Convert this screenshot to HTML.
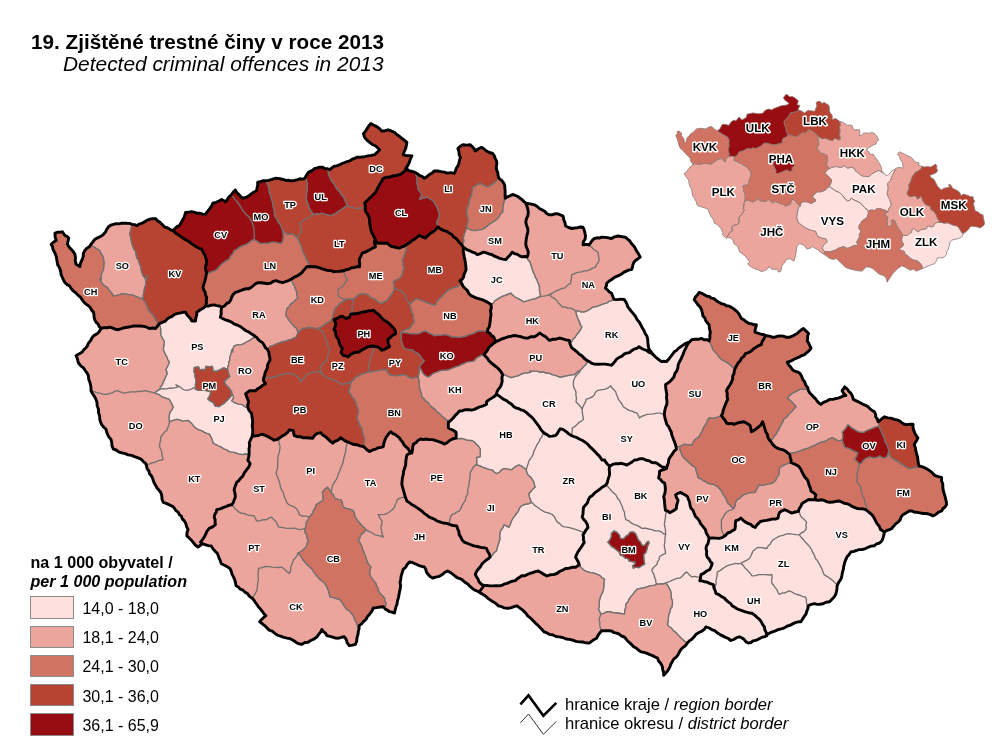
<!DOCTYPE html>
<html lang="cs"><head><meta charset="utf-8"><title>Zjištěné trestné činy v roce 2013</title>
<style>
html,body{margin:0;padding:0;background:#fff}
body{width:1005px;height:744px;position:relative;overflow:hidden;font-family:"Liberation Sans",Arial,sans-serif;color:#000}
svg{position:absolute;left:0;top:0}
.lb{font-family:"Liberation Sans",Arial,sans-serif;font-weight:bold;text-anchor:middle;fill:#000;stroke:#fff;stroke-width:2.5px;stroke-linejoin:round;paint-order:stroke fill}
.rl{stroke-width:2.8px}
.t{position:absolute;white-space:nowrap;line-height:1}
.sw{position:absolute;left:30px;width:42px;height:20.5px;border:1px solid #8c8c8c}
</style></head><body>
<svg width="1005" height="744" viewBox="0 0 1005 744">
<path d="M463.6,247.2L463.6,247.2L463.2,250.7L463.7,253.8L464.2,256.6L464.9,259.6L465.4,263.1L465.8,266.3L466.1,269.6L465.1,272.2L464.1,274.3L463.6,277.0L462.2,279.2L459.9,280.8L461.7,283.2L462.1,284.2L463.0,286.1L464.9,288.2L467.4,290.5L468.9,293.5L471.1,295.7L473.5,296.7L476.0,297.9L478.6,298.7L481.0,299.4L483.6,300.2L486.3,301.6L488.7,303.1L491.0,304.4L493.5,303.1L495.1,300.8L497.2,299.4L499.6,297.9L502.2,296.5L504.7,295.7L507.7,294.5L510.9,293.2L512.5,295.1L514.8,297.0L517.1,298.2L520.5,299.8L523.3,301.9L526.4,301.1L529.1,300.3L532.0,299.4L534.9,298.9L537.7,297.7L540.7,296.4L540.0,293.4L539.5,290.3L539.5,287.0L538.8,284.4L537.7,282.0L537.0,279.5L535.4,277.4L534.7,274.7L533.3,272.1L532.4,269.7L531.7,267.1L530.8,264.6L530.1,262.0L528.1,259.7L527.1,257.1L524.9,256.5L522.0,256.8L519.6,255.9L517.4,254.4L514.4,253.6L512.1,252.2L510.2,255.0L508.1,257.0L505.9,259.6L502.7,259.1L499.7,258.4L497.1,257.2L494.4,256.2L492.2,254.7L489.2,254.0L486.5,252.9L483.5,252.2L480.3,253.6L477.3,254.7L474.9,252.9L472.5,252.1L469.9,250.9L466.3,249.4ZM653.9,355.4L652.3,353.4L650.6,351.2L649.0,349.2L648.3,346.1L647.9,342.4L647.7,339.2L646.9,336.0L645.0,333.4L644.0,330.5L642.1,327.5L640.7,324.7L639.0,321.8L637.1,319.6L635.6,316.7L634.0,314.4L631.9,312.1L629.9,309.5L627.8,306.9L627.0,304.3L625.7,301.7L624.1,299.4L620.6,299.1L617.5,299.6L614.1,299.4L611.6,300.7L609.1,301.2L606.8,302.9L604.2,303.6L601.7,304.4L599.0,305.7L596.1,306.5L593.0,306.9L590.2,309.0L587.3,310.6L584.3,311.9L581.3,311.9L578.4,310.8L575.6,310.6L576.1,313.7L577.0,316.4L578.1,319.3L579.4,321.9L580.2,324.7L581.8,326.8L580.2,330.2L578.1,333.0L576.4,335.0L575.1,337.2L573.1,339.2L571.9,341.1L570.6,343.0L569.8,343.1L569.8,343.2L570.7,345.7L571.8,347.9L574.3,349.7L576.9,351.8L579.3,354.2L581.9,355.8L584.4,358.5L586.8,360.4L587.8,360.9L589.5,361.7L591.4,363.2L594.2,364.1L597.9,364.2L601.7,364.1L605.2,364.1L608.4,364.6L611.6,365.3L613.5,363.2L615.0,361.3L616.6,359.1L619.0,357.5L622.0,356.1L624.1,354.2L626.5,353.2L629.5,352.6L631.6,350.7L634.0,349.2L636.9,348.3L639.0,346.7L641.2,348.2L643.9,349.5L646.5,350.4L649.0,352.3L651.6,353.2ZM689.2,342.2L685.5,343.4L683.3,344.9L681.1,346.6L678.8,347.9L676.9,350.1L674.3,351.8L672.6,354.2L670.5,356.9L668.6,359.4L666.4,361.6L663.8,361.2L661.4,361.6L658.7,359.5L656.3,357.7L653.9,355.4L651.6,353.2L649.0,352.3L646.5,350.4L643.9,349.5L641.2,348.2L639.0,346.7L636.9,348.3L634.0,349.2L631.6,350.7L629.5,352.6L626.5,353.2L624.1,354.2L622.0,356.1L619.0,357.5L616.6,359.1L615.0,361.3L613.5,363.2L611.6,365.3L608.4,364.6L605.2,364.1L601.7,364.1L597.9,364.2L594.2,364.1L591.4,363.2L589.5,361.7L587.8,360.9L587.2,362.1L585.9,364.3L583.8,366.4L582.2,368.3L580.5,370.1L579.2,372.8L577.2,374.6L575.0,377.3L573.5,380.7L573.4,383.5L573.5,386.8L574.9,389.4L576.0,391.9L575.9,395.4L576.5,398.4L576.0,401.9L578.4,404.2L580.6,406.7L582.2,409.3L583.0,406.6L584.1,404.4L585.5,402.1L586.0,399.4L589.0,398.4L592.2,396.9L594.3,394.9L595.3,392.4L597.2,390.7L599.5,390.1L602.2,389.7L604.6,389.4L608.1,387.9L610.8,385.7L612.1,388.1L613.9,389.8L615.8,391.9L616.4,394.5L617.7,397.0L618.3,399.4L620.1,401.6L621.9,404.0L623.3,406.8L626.5,408.9L629.5,410.6L632.1,411.1L634.5,412.4L637.0,413.1L638.3,415.5L639.5,418.0L641.6,416.4L644.3,415.5L646.9,414.3L650.2,414.2L653.5,413.9L656.9,413.1L659.9,413.1L662.6,413.8L664.3,414.1L664.7,411.0L665.5,407.6L666.8,404.4L667.0,400.9L666.5,397.9L666.8,394.4L666.2,391.1L665.7,387.6L665.6,384.5L667.7,383.2L669.9,381.6L671.8,379.5L674.0,376.8L674.8,373.6L676.8,370.8L677.9,367.8L678.1,365.0L679.3,362.1L680.8,359.5L681.8,357.2L683.0,354.6L684.3,351.1L685.9,347.9L687.2,344.9ZM501.9,377.9L502.2,381.2L501.4,384.5L500.0,387.4L498.1,389.6L496.9,391.9L496.5,394.4L499.0,395.7L501.3,397.8L503.9,399.4L506.7,400.7L508.9,402.6L511.6,404.3L513.9,406.8L516.1,408.0L519.0,408.7L521.1,409.9L523.8,410.6L526.5,412.6L529.0,414.8L531.3,416.8L533.7,419.2L535.4,421.7L537.5,424.3L539.1,426.5L540.6,429.1L542.5,431.4L543.2,432.2L543.5,432.4L544.5,433.4L547.0,434.6L549.3,436.4L552.2,436.1L555.3,435.6L557.2,433.7L558.6,431.1L560.2,428.8L562.3,429.2L564.7,430.6L566.8,432.2L568.7,433.9L571.0,435.4L571.9,433.1L572.3,430.5L572.3,428.0L575.1,426.3L577.3,424.3L579.0,422.3L581.5,421.0L583.5,419.3L582.9,416.1L582.3,412.6L582.2,409.3L580.6,406.7L578.4,404.2L576.0,401.9L576.5,398.4L575.9,395.4L576.0,391.9L574.9,389.4L573.5,386.8L573.4,383.5L573.5,380.7L575.0,377.3L577.2,374.6L579.2,372.8L580.5,370.1L582.2,368.3L579.7,370.5L576.8,372.2L574.8,374.5L572.5,374.6L570.0,375.1L567.3,375.7L564.9,376.0L562.5,376.9L559.9,377.0L557.4,376.2L555.1,375.1L552.3,374.7L549.9,373.3L546.6,373.0L543.3,372.0L540.0,372.0L536.6,371.1L533.2,371.2L530.0,370.8L531.3,371.5L528.0,372.8L524.6,372.8L521.3,374.0L519.2,375.3L516.4,376.2L513.8,376.8L511.4,377.5L508.6,376.6L505.6,375.2L502.7,374.5ZM573.8,436.5L577.1,437.7L579.8,439.2L582.6,440.5L585.1,442.1L587.7,444.1L589.7,446.6L591.7,448.4L593.5,450.1L595.4,452.0L597.2,454.1L599.2,455.9L600.6,457.9L602.1,460.1L604.6,460.0L606.0,462.4L607.7,464.5L609.6,466.2L612.6,464.4L615.8,463.7L618.5,463.7L621.3,463.3L624.2,464.1L627.0,465.0L629.5,463.6L632.1,462.0L634.5,460.0L637.3,459.7L640.4,458.7L643.2,458.7L646.1,460.2L649.0,460.7L651.9,462.5L655.3,462.7L657.6,463.7L659.8,465.3L662.0,466.9L664.3,467.2L666.5,468.5L667.4,465.3L668.5,462.4L668.8,459.3L670.5,456.6L672.2,454.2L673.9,451.4L676.4,449.2L675.9,446.2L675.8,445.8L675.5,444.8L674.7,442.4L673.7,440.0L672.7,437.2L671.7,434.7L671.4,432.2L669.9,429.5L668.8,426.8L666.8,424.3L665.8,421.0L664.9,417.8L664.3,414.5L664.3,414.3L664.3,414.1L662.6,413.8L659.9,413.1L656.9,413.1L653.5,413.9L650.2,414.2L646.9,414.3L644.3,415.5L641.6,416.4L639.5,418.0L638.3,415.5L637.0,413.1L634.5,412.4L632.1,411.1L629.5,410.6L626.5,408.9L623.3,406.8L621.9,404.0L620.1,401.6L618.3,399.4L617.7,397.0L616.4,394.5L615.8,391.9L613.9,389.8L612.1,388.1L610.8,385.7L608.1,387.9L604.6,389.4L602.2,389.7L599.5,390.1L597.2,390.7L595.3,392.4L594.3,394.9L592.2,396.9L589.0,398.4L586.0,399.4L585.5,402.1L584.1,404.4L583.0,406.6L582.2,409.3L582.3,412.6L582.9,416.1L583.5,419.3L581.5,421.0L579.0,422.3L577.3,424.3L575.1,426.3L572.3,428.0L572.3,430.5L571.9,433.1L571.0,435.4ZM448.4,423.0L448.3,424.9L448.5,428.0L451.0,429.3L453.6,430.5L456.1,432.2L456.2,435.4L456.1,438.1L455.5,438.2L457.3,438.8L460.9,438.5L464.1,439.2L467.1,440.4L470.6,440.5L474.1,441.7L476.1,444.0L478.6,446.5L480.3,449.1L480.2,453.0L480.3,456.6L476.6,457.5L476.7,461.3L476.6,465.0L479.2,465.6L481.7,466.9L484.2,467.8L486.5,468.7L489.4,469.6L492.5,470.2L494.2,472.2L496.5,473.7L499.2,472.5L501.4,470.0L503.9,468.7L506.4,468.9L509.0,469.3L511.4,469.9L513.6,467.9L516.3,466.2L518.9,465.0L521.7,466.2L524.0,468.0L526.3,469.9L526.9,467.1L528.0,464.3L528.8,461.2L530.3,458.8L532.0,456.6L533.3,454.1L533.7,451.3L535.0,449.1L536.1,446.7L537.2,444.3L539.0,441.8L540.0,439.2L541.5,437.1L542.9,434.3L543.5,432.4L543.2,432.2L542.5,431.4L540.6,429.1L539.1,426.5L537.5,424.3L535.4,421.7L533.7,419.2L531.3,416.8L529.0,414.8L526.5,412.6L523.8,410.6L521.1,409.9L519.0,408.7L516.1,408.0L513.9,406.8L511.6,404.3L508.9,402.6L506.7,400.7L503.9,399.4L501.3,397.8L499.0,395.7L496.5,394.4L494.4,396.4L491.7,398.1L488.9,399.9L486.5,401.9L486.6,404.2L483.2,405.9L479.8,406.8L477.1,408.1L474.4,409.4L471.4,410.2L468.5,409.6L465.4,409.7L462.5,410.7L459.5,411.0L457.4,413.4L455.3,415.3L453.2,418.0L451.0,420.2L448.5,422.0L448.5,422.1ZM584.6,532.4L586.0,530.0L588.0,527.5L587.2,524.2L585.6,521.5L583.6,519.3L582.2,517.2L583.0,514.0L583.2,510.4L583.5,507.2L585.6,504.9L587.4,502.9L588.3,500.0L589.7,497.3L592.3,495.5L594.7,492.9L597.2,491.1L599.5,489.5L601.3,487.9L603.5,486.4L605.9,484.9L607.3,482.7L607.8,480.1L608.7,477.5L609.6,474.9L609.5,472.2L609.2,469.0L609.6,466.2L607.7,464.5L606.0,462.4L604.6,460.0L602.1,460.1L600.6,457.9L599.2,455.9L597.2,454.1L595.4,452.0L593.5,450.1L591.7,448.4L589.7,446.6L587.7,444.1L585.1,442.1L582.6,440.5L579.8,439.2L577.1,437.7L573.8,436.5L571.0,435.4L568.7,433.9L566.8,432.2L564.7,430.6L562.3,429.2L560.2,428.8L558.6,431.1L557.2,433.7L555.3,435.6L552.2,436.1L549.3,436.4L547.0,434.6L544.5,433.4L543.5,432.4L542.9,434.3L541.5,437.1L540.0,439.2L539.0,441.8L537.2,444.3L536.1,446.7L535.0,449.1L533.7,451.3L533.3,454.1L532.0,456.6L530.3,458.8L528.8,461.2L528.0,464.3L526.9,467.1L526.3,469.9L526.8,472.7L528.2,475.3L530.8,477.4L532.5,479.9L533.7,482.0L534.4,484.7L535.0,487.3L532.5,489.2L530.9,491.6L528.8,493.6L529.3,496.7L530.3,499.4L531.2,501.9L531.3,502.3L531.5,502.2L532.7,503.1L534.6,505.4L537.5,507.2L539.8,509.0L542.4,510.7L544.9,512.2L547.4,512.6L549.9,513.5L552.4,514.7L554.4,516.8L555.8,519.6L557.4,522.2L559.8,523.6L561.5,525.6L564.3,526.8L567.3,527.1L570.3,527.8L573.0,528.7L576.0,529.6L578.3,530.4L580.8,531.4L583.5,532.1L584.4,532.7ZM488.2,558.8L485.9,560.4L484.0,562.0L482.0,563.8L480.8,566.2L479.1,568.2L476.8,571.0L475.3,574.4L476.6,577.0L478.1,579.2L479.1,581.9L481.4,584.2L484.0,585.6L486.8,585.4L489.8,585.9L493.1,585.9L496.3,585.6L499.7,585.9L502.3,585.1L504.9,583.8L507.1,583.3L509.7,582.2L512.6,581.2L515.3,580.6L517.4,578.7L519.6,577.2L521.8,575.8L524.8,575.7L527.0,574.6L529.6,573.5L532.5,572.7L535.4,571.6L538.3,571.0L541.4,572.8L544.0,574.4L547.0,576.0L550.1,574.8L553.5,574.6L556.9,573.5L559.5,571.5L562.8,570.1L565.6,568.5L569.1,568.2L572.0,567.3L575.6,567.3L578.9,565.0L579.3,564.8L579.1,564.3L578.4,562.2L577.1,559.8L575.6,557.3L576.5,554.8L577.8,552.0L579.3,549.9L581.0,547.5L582.6,544.9L584.3,542.4L583.4,539.8L583.5,537.2L583.0,534.9L584.4,532.7L583.5,532.1L580.8,531.4L578.3,530.4L576.0,529.6L573.0,528.7L570.3,527.8L567.3,527.1L564.3,526.8L561.5,525.6L559.8,523.6L557.4,522.2L555.8,519.6L554.4,516.8L552.4,514.7L549.9,513.5L547.4,512.6L544.9,512.2L542.4,510.7L539.8,509.0L537.5,507.2L534.6,505.4L532.7,503.1L531.5,502.2L531.3,502.3L529.0,503.6L526.2,504.0L523.5,504.8L521.3,506.0L519.3,508.1L518.3,511.4L516.4,513.5L514.8,515.8L513.0,518.2L511.4,520.9L510.4,524.0L508.9,527.1L506.3,525.8L503.9,524.7L503.0,527.5L501.3,529.6L500.2,532.1L499.6,535.5L499.9,538.8L499.0,542.1L498.0,545.0L497.2,547.7L496.5,550.8L494.0,552.6L492.5,555.1L490.2,557.0ZM609.6,466.2L609.2,469.0L609.5,472.2L609.6,474.9L608.7,477.5L607.8,480.1L607.3,482.7L605.9,484.9L608.0,486.8L609.6,488.6L611.6,491.0L613.7,492.9L615.8,494.8L617.4,498.0L619.5,500.5L620.8,503.5L622.2,506.2L623.0,509.5L624.5,512.2L624.6,514.9L625.2,517.1L625.8,519.7L629.0,520.9L631.4,523.2L634.5,524.7L637.0,525.4L639.7,526.9L641.9,528.4L645.2,528.2L648.7,529.0L651.9,529.6L654.9,530.9L658.8,530.9L661.8,532.1L663.3,533.7L665.6,534.6L665.5,531.1L665.2,527.8L664.3,524.7L664.8,521.3L665.4,518.0L665.6,514.7L666.4,511.6L666.5,510.7L665.4,510.2L665.2,508.7L665.0,506.9L664.6,503.4L664.4,500.1L663.7,496.6L664.9,493.3L665.4,489.8L665.2,486.6L664.6,483.1L662.2,481.7L660.6,479.7L658.6,478.0L659.4,474.5L659.5,471.2L661.7,470.1L664.4,469.5L666.5,468.5L664.3,467.2L662.0,466.9L659.8,465.3L657.6,463.7L655.3,462.7L651.9,462.5L649.0,460.7L646.1,460.2L643.2,458.7L640.4,458.7L637.3,459.7L634.5,460.0L632.1,462.0L629.5,463.6L627.0,465.0L624.2,464.1L621.3,463.3L618.5,463.7L615.8,463.7L612.6,464.4ZM579.1,564.3L579.3,564.8L578.9,565.0L580.5,567.0L582.6,569.0L584.7,570.7L587.2,571.9L590.7,572.6L594.0,573.1L597.2,574.4L599.8,575.6L602.0,577.7L604.6,579.4L603.7,582.8L603.9,585.9L603.4,589.3L602.9,592.0L601.5,594.2L600.4,596.7L599.7,599.3L599.0,602.4L599.3,605.9L598.4,609.2L599.6,611.6L600.9,614.2L604.2,613.2L607.1,611.7L610.6,612.0L613.8,612.9L617.1,613.0L620.6,613.5L624.5,614.2L624.8,611.0L625.7,607.5L625.8,604.3L627.8,602.2L629.0,599.4L630.7,596.8L633.0,594.4L634.9,591.6L637.0,589.3L640.4,588.3L643.8,588.0L646.9,586.8L650.2,585.8L653.8,585.4L656.9,584.4L655.8,582.1L655.6,579.4L654.4,576.9L654.0,574.3L652.5,572.1L651.9,569.4L654.3,566.7L656.9,564.5L657.5,561.9L659.1,559.5L659.4,557.0L662.2,554.8L665.6,553.3L665.2,550.3L664.5,547.5L664.3,544.6L665.0,541.4L665.0,538.0L665.6,534.6L663.3,533.7L661.8,532.1L658.8,530.9L654.9,530.9L651.9,529.6L648.7,529.0L645.2,528.2L641.9,528.4L639.7,526.9L637.0,525.4L634.5,524.7L631.4,523.2L629.0,520.9L625.8,519.7L625.2,517.1L624.6,514.9L624.5,512.2L623.0,509.5L622.2,506.2L620.8,503.5L619.5,500.5L617.4,498.0L615.8,494.8L613.7,492.9L611.6,491.0L609.6,488.6L608.0,486.8L605.9,484.9L603.5,486.4L601.3,487.9L599.5,489.5L597.2,491.1L594.7,492.9L592.3,495.5L589.7,497.3L588.3,500.0L587.4,502.9L585.6,504.9L583.5,507.2L583.2,510.4L583.0,514.0L582.2,517.2L583.6,519.3L585.6,521.5L587.2,524.2L588.0,527.5L586.0,530.0L584.6,532.4L584.4,532.7L583.0,534.9L583.5,537.2L583.4,539.8L584.3,542.4L582.6,544.9L581.0,547.5L579.3,549.9L577.8,552.0L576.5,554.8L575.6,557.3L577.1,559.8L578.4,562.2ZM611.4,533.4L613.9,530.9L616.9,532.4L619.4,534.9L620.3,538.4L623.3,538.9L625.8,536.4L628.3,534.9L629.8,532.4L632.8,531.9L635.3,533.4L636.8,536.4L638.3,539.9L640.2,541.8L641.7,544.8L644.2,545.8L646.2,543.3L648.2,541.3L649.2,542.8L647.7,545.8L646.7,549.8L645.7,552.8L643.7,554.3L643.7,557.8L644.2,561.7L644.7,564.2L641.7,565.7L638.8,567.7L635.8,567.2L633.3,568.2L632.8,565.7L635.3,563.7L634.8,561.7L632.3,561.7L629.3,561.2L628.3,558.8L624.8,557.8L623.8,556.3L620.3,554.8L619.4,552.3L616.4,549.8L613.9,547.8L611.4,546.3L609.4,543.8L607.9,542.3L609.9,539.9L611.4,536.9ZM709.1,538.3L707.8,535.6L706.2,532.7L705.4,529.6L703.6,527.4L702.0,525.4L700.4,523.5L699.4,520.8L697.6,518.6L695.5,516.4L694.2,513.6L693.2,510.6L691.0,508.3L690.0,505.1L689.5,501.9L688.4,499.2L687.5,496.6L685.3,495.0L682.9,493.7L680.7,492.4L678.1,493.3L675.6,494.9L676.5,497.7L678.1,500.0L677.4,502.9L676.5,505.7L676.4,508.5L674.4,510.1L672.0,511.4L669.7,512.7L667.8,511.2L666.5,510.7L666.4,511.6L665.6,514.7L665.4,518.0L664.8,521.3L664.3,524.7L665.2,527.8L665.5,531.1L665.6,534.6L665.0,538.0L665.0,541.4L664.3,544.6L664.5,547.5L665.2,550.3L665.6,553.3L662.2,554.8L659.4,557.0L659.1,559.5L657.5,561.9L656.9,564.5L654.3,566.7L651.9,569.4L652.5,572.1L654.0,574.3L654.4,576.9L655.6,579.4L655.8,582.1L656.9,584.4L659.8,583.8L663.0,584.0L665.6,583.1L668.4,582.0L671.4,580.6L674.3,579.4L676.5,578.4L679.6,578.2L681.7,576.9L683.9,574.1L686.7,571.9L689.0,574.4L691.7,576.9L694.7,576.4L697.5,577.2L700.4,576.9L700.6,576.9L701.0,574.6L704.0,573.1L706.7,571.0L709.7,569.7L711.2,566.5L712.2,563.4L710.3,561.6L709.2,559.1L707.2,557.2L706.5,554.5L706.7,551.4L706.0,548.5L706.5,545.8L708.0,543.7L708.6,540.8ZM766.3,632.6L764.8,629.8L764.4,626.9L762.7,624.6L761.3,621.8L759.5,619.4L757.0,617.3L754.7,615.1L752.0,613.2L748.6,612.7L745.4,611.9L742.0,610.7L739.0,609.7L736.6,608.5L734.3,607.0L732.1,605.7L730.4,603.4L728.5,602.1L726.2,600.2L724.6,598.3L721.5,596.6L718.9,594.6L715.9,593.3L715.1,590.4L714.8,589.8L713.9,587.8L713.4,584.6L710.2,583.7L707.2,582.1L704.8,581.8L702.1,580.9L699.8,580.8L700.5,577.9L700.6,576.9L700.4,576.9L697.5,577.2L694.7,576.4L691.7,576.9L689.0,574.4L686.7,571.9L683.9,574.1L681.7,576.9L679.6,578.2L676.5,578.4L674.3,579.4L671.4,580.6L668.4,582.0L665.6,583.1L667.9,585.6L669.3,588.2L670.6,591.1L671.1,594.5L671.2,597.7L672.4,600.9L672.4,604.5L671.8,607.1L670.3,609.2L669.9,612.2L668.7,614.4L668.4,617.7L668.2,621.0L667.4,624.4L668.8,626.5L671.4,628.0L672.9,630.4L674.9,631.8L676.9,633.8L678.5,635.6L680.5,637.5L682.3,639.3L684.5,641.3L687.3,643.0L689.3,640.9L691.8,639.3L694.1,636.8L696.0,634.3L699.0,632.5L701.9,631.1L704.4,629.3L706.0,626.9L709.1,628.0L711.7,629.6L714.7,630.6L717.1,632.7L719.5,634.2L722.1,635.6L725.0,637.1L728.3,638.5L730.8,640.5L733.7,639.5L736.5,637.7L739.6,636.8L742.1,638.0L744.2,639.5L746.0,641.9L748.3,643.0L751.0,642.5L753.0,640.9L755.6,640.3L758.2,639.3L761.6,637.4L765.0,636.6L766.5,635.2L766.9,635.6L766.8,634.9ZM709.1,538.3L708.6,540.8L708.0,543.7L706.5,545.8L706.0,548.5L706.7,551.4L706.5,554.5L707.2,557.2L709.2,559.1L710.3,561.6L712.2,563.4L711.2,566.5L709.7,569.7L706.7,571.0L704.0,573.1L701.0,574.6L700.6,576.9L700.5,577.9L699.8,580.8L702.1,580.9L704.8,581.8L707.2,582.1L710.2,583.7L713.4,584.6L713.9,587.8L714.8,589.8L715.2,589.6L715.1,586.4L716.2,583.8L715.9,580.8L716.6,578.1L717.2,575.0L717.2,572.1L720.0,570.7L722.3,568.9L724.8,567.2L727.1,565.9L729.7,564.8L733.1,564.2L735.8,563.4L738.5,563.8L740.8,563.4L743.9,561.7L746.5,560.3L749.5,558.5L750.9,556.0L751.9,553.4L753.2,551.0L755.5,549.0L758.2,547.3L761.1,547.6L763.8,548.0L766.9,548.5L768.0,546.1L770.2,544.2L771.3,541.9L773.1,539.8L776.1,538.0L779.4,536.1L782.9,535.3L786.0,534.1L789.3,533.6L792.7,534.2L796.0,534.6L799.3,534.8L801.3,532.9L803.6,532.0L805.5,529.9L806.4,527.5L805.8,525.0L806.7,522.4L804.4,519.6L801.7,517.4L800.1,514.8L799.3,511.9L798.5,511.4L795.1,512.0L791.7,513.1L789.5,512.0L787.1,510.8L784.9,509.7L782.1,510.8L779.8,512.2L778.6,514.9L778.1,518.1L775.4,519.1L772.3,518.9L769.7,519.8L766.5,520.4L763.4,520.8L760.3,521.5L758.5,523.4L756.7,525.2L755.3,527.5L752.8,526.4L750.7,524.4L748.5,523.6L745.9,522.4L743.2,520.3L740.8,518.1L738.5,519.8L735.8,520.7L735.3,523.5L735.4,526.3L734.9,529.2L732.5,530.8L730.4,532.1L727.7,533.0L725.4,535.5L724.3,536.2L722.2,537.6L719.1,538.4L715.5,538.1L712.3,538.0ZM808.1,607.7L808.5,605.5L811.4,604.3L814.5,603.6L817.0,604.4L819.7,604.3L823.2,603.7L826.0,602.3L829.6,601.8L831.7,599.6L834.1,597.1L835.8,594.3L836.5,591.2L837.0,588.7L837.1,585.6L837.5,584.8L837.1,584.6L834.2,582.1L831.6,579.6L829.0,577.8L826.8,576.4L824.1,574.6L823.0,571.9L821.9,568.7L820.4,565.9L818.9,563.3L817.4,560.6L815.4,558.5L814.5,555.4L812.8,552.7L811.7,549.8L809.9,547.0L807.7,544.5L805.5,542.3L803.6,539.8L801.4,537.6L799.3,534.8L796.0,534.6L792.7,534.2L789.3,533.6L786.0,534.1L782.9,535.3L779.4,536.1L776.1,538.0L773.1,539.8L771.3,541.9L770.2,544.2L768.0,546.1L766.9,548.5L763.8,548.0L761.1,547.6L758.2,547.3L755.5,549.0L753.2,551.0L751.9,553.4L750.9,556.0L749.5,558.5L746.5,560.3L743.9,561.7L740.8,563.4L743.0,565.1L744.9,567.9L747.0,569.7L748.7,571.6L750.4,573.7L752.0,575.9L755.3,575.7L758.7,574.6L761.9,574.6L765.0,574.7L768.7,575.0L771.9,574.6L772.1,577.6L771.5,580.4L771.9,583.3L773.6,585.3L775.2,587.6L776.9,589.6L778.0,592.3L779.4,594.5L781.7,593.2L784.6,593.0L786.9,591.8L789.3,590.8L792.0,592.0L794.2,593.3L796.8,594.5L799.6,595.0L802.6,596.6L805.5,597.0L806.4,599.5L806.4,602.2L807.0,605.0L807.2,607.5ZM766.8,634.9L767.2,634.5L769.9,632.9L772.5,631.9L774.7,631.2L777.4,629.9L779.9,629.1L782.4,628.6L785.0,627.5L787.4,626.0L789.8,625.4L792.6,623.9L795.3,622.6L798.2,621.8L801.0,621.7L802.6,619.0L804.0,616.7L806.0,614.2L806.7,611.3L808.0,608.4L808.1,607.7L807.2,607.5L807.0,605.0L806.4,602.2L806.4,599.5L805.5,597.0L802.6,596.6L799.6,595.0L796.8,594.5L794.2,593.3L792.0,592.0L789.3,590.8L786.9,591.8L784.6,593.0L781.7,593.2L779.4,594.5L778.0,592.3L776.9,589.6L775.2,587.6L773.6,585.3L771.9,583.3L771.5,580.4L772.1,577.6L771.9,574.6L768.7,575.0L765.0,574.7L761.9,574.6L758.7,574.6L755.3,575.7L752.0,575.9L750.4,573.7L748.7,571.6L747.0,569.7L744.9,567.9L743.0,565.1L740.8,563.4L738.5,563.8L735.8,563.4L733.1,564.2L729.7,564.8L727.1,565.9L724.8,567.2L722.3,568.9L720.0,570.7L717.2,572.1L717.2,575.0L716.6,578.1L715.9,580.8L716.2,583.8L715.1,586.4L715.2,589.6L714.8,589.8L715.1,590.4L715.9,593.3L718.9,594.6L721.5,596.6L724.6,598.3L726.2,600.2L728.5,602.1L730.4,603.4L732.1,605.7L734.3,607.0L736.6,608.5L739.0,609.7L742.0,610.7L745.4,611.9L748.6,612.7L752.0,613.2L754.7,615.1L757.0,617.3L759.5,619.4L761.3,621.8L762.7,624.6L764.4,626.9L764.8,629.8L766.3,632.6ZM837.5,584.8L838.8,582.2L840.8,579.4L841.8,576.1L842.4,572.6L843.3,569.4L843.8,566.1L844.6,562.8L845.8,559.5L847.2,556.6L849.2,554.5L850.8,552.0L853.8,551.4L856.5,550.5L859.0,549.6L862.0,549.5L864.9,548.8L867.6,547.5L871.1,546.1L874.4,545.8L876.6,543.8L879.6,543.0L881.9,540.8L883.0,537.9L883.8,535.2L884.4,532.1L882.5,530.8L880.6,529.6L879.3,526.4L876.9,523.4L875.3,520.3L873.8,517.4L871.9,514.7L869.8,513.0L868.0,511.4L866.3,510.1L865.7,509.7L862.8,508.8L859.9,508.9L857.0,508.5L854.4,507.4L851.9,506.3L849.5,504.8L847.2,503.7L844.5,503.4L842.1,502.3L839.6,501.0L836.1,501.3L833.0,502.0L829.6,502.3L827.1,501.9L824.8,500.7L822.2,499.8L818.2,500.3L814.7,499.8L811.7,499.7L808.6,499.5L806.5,500.8L803.9,502.3L801.9,503.7L800.8,506.5L799.2,508.7L798.5,511.4L799.3,511.9L800.1,514.8L801.7,517.4L804.4,519.6L806.7,522.4L805.8,525.0L806.4,527.5L805.5,529.9L803.6,532.0L801.3,532.9L799.3,534.8L801.4,537.6L803.6,539.8L805.5,542.3L807.7,544.5L809.9,547.0L811.7,549.8L812.8,552.7L814.5,555.4L815.4,558.5L817.4,560.6L818.9,563.3L820.4,565.9L821.9,568.7L823.0,571.9L824.1,574.6L826.8,576.4L829.0,577.8L831.6,579.6L834.2,582.1L837.1,584.6ZM205.5,306.1L203.5,308.0L201.1,309.3L198.9,310.8L196.8,312.3L196.7,315.1L195.8,318.0L195.5,321.0L191.8,321.0L190.6,318.8L188.7,316.6L186.9,314.7L185.6,312.3L182.8,312.3L179.7,313.1L176.9,313.6L174.4,314.5L172.1,316.5L169.4,317.3L167.1,319.1L165.1,321.4L162.2,322.3L159.5,323.5L159.8,326.1L160.6,328.7L160.6,331.8L160.7,334.7L161.7,337.2L163.4,339.8L164.4,342.2L163.8,345.8L163.2,349.6L164.3,352.1L165.3,354.6L166.9,357.1L167.8,359.8L169.4,362.1L168.2,364.8L167.2,367.1L165.7,369.5L166.8,371.9L166.9,374.5L165.4,376.9L164.5,379.7L163.2,382.0L162.4,384.6L160.5,387.0L159.5,389.4L162.8,388.6L166.1,388.9L169.4,388.2L172.5,388.2L175.4,387.6L178.1,386.9L176.0,384.8L180.0,386.8L182.0,388.5L183.9,389.8L187.9,390.3L191.9,388.8L195.4,386.8L195.7,386.8L195.4,384.8L195.8,382.6L195.9,379.9L194.9,375.9L194.8,373.6L193.9,371.4L194.4,367.4L198.4,366.9L199.9,369.9L202.7,369.5L205.3,369.9L205.8,366.4L209.1,366.6L212.3,366.4L212.8,368.4L212.8,370.9L216.3,371.4L219.8,369.9L223.7,367.9L227.7,369.4L227.7,367.0L228.7,364.9L228.8,362.5L229.7,360.0L229.7,357.4L230.7,355.0L231.3,352.4L231.7,350.0L232.8,352.1L233.0,348.8L234.1,345.9L237.6,344.9L241.5,344.7L244.0,343.6L246.4,342.0L249.0,340.9L252.1,338.7L255.2,337.2L255.6,336.6L254.1,335.5L251.3,333.7L249.0,332.1L246.5,331.0L243.8,329.3L241.5,327.2L239.3,326.0L236.6,324.8L233.9,323.9L231.6,322.1L229.1,321.0L226.2,320.2L223.1,318.7L220.4,317.3L221.2,314.0L221.1,310.8L221.6,307.3L219.4,306.0L216.6,305.6L214.2,304.9L211.2,305.2L208.3,306.1ZM252.0,436.7L252.6,434.3L252.7,431.8L252.7,429.2L252.2,425.9L252.6,422.8L252.6,419.7L251.9,416.6L251.6,413.7L250.2,411.9L248.6,409.7L248.0,407.3L246.6,407.7L244.4,406.5L242.6,404.7L238.7,404.2L234.7,402.7L231.7,400.7L233.7,397.8L233.1,395.3L231.7,392.8L231.6,392.8L231.2,395.8L228.7,398.8L225.7,401.7L224.0,403.3L221.7,404.7L218.8,406.7L215.3,406.2L213.3,402.7L209.8,400.7L207.8,398.8L209.8,395.8L210.8,391.8L207.3,390.8L204.9,390.3L202.8,390.3L198.9,390.3L195.4,389.3L195.7,387.1L195.7,386.8L195.4,386.8L191.9,388.8L187.9,390.3L183.9,389.8L182.0,388.5L180.0,386.8L176.0,384.8L178.1,386.9L175.4,387.6L172.5,388.2L169.4,388.2L166.1,388.9L162.8,388.6L159.5,389.4L156.7,391.1L154.5,393.2L157.3,394.0L159.7,395.2L161.9,396.9L164.2,397.6L166.9,398.7L169.4,399.4L170.5,401.9L171.9,404.4L173.1,406.8L172.1,409.6L170.1,411.7L169.4,414.3L168.9,418.0L169.4,421.8L171.7,420.9L174.3,420.1L176.9,419.3L179.6,419.9L181.9,421.2L185.0,420.9L188.1,420.5L190.2,422.2L192.0,423.9L193.7,426.2L195.5,428.0L198.7,429.9L202.0,430.9L204.4,432.5L206.8,433.4L209.2,434.2L210.8,436.8L212.2,439.9L212.9,442.9L215.8,444.7L218.7,446.0L221.5,447.3L224.1,449.1L226.7,449.8L228.7,451.6L231.4,452.1L233.9,452.3L236.7,453.3L239.1,454.1L242.4,454.6L245.6,454.0L249.0,454.6L249.0,454.6L249.2,451.8L249.0,449.1L249.6,445.7L249.3,442.6L250.7,439.5Z" fill="#fee0de" stroke="#737070" stroke-width="1.35" stroke-linejoin="round"/>
<path d="M132.1,224.4L132.1,224.4L129.5,223.4L126.9,223.3L124.6,223.1L121.5,223.2L118.9,223.9L115.9,223.7L113.4,224.4L110.8,225.2L108.5,226.8L106.7,229.3L105.6,231.9L103.5,234.3L100.9,236.3L97.6,237.9L94.8,239.3L92.9,241.8L91.0,244.3L90.4,245.1L91.0,245.5L94.1,247.1L96.8,248.9L99.8,250.5L100.8,253.4L102.7,256.1L103.5,259.2L104.0,262.6L103.7,265.8L103.5,269.1L102.3,271.7L101.2,274.5L101.2,277.1L101.0,280.1L99.8,278.7L100.7,281.4L102.4,283.6L104.3,285.8L107.2,287.4L108.7,289.7L110.3,291.5L112.1,293.6L113.4,296.1L116.2,295.6L119.3,294.8L122.1,293.7L125.5,294.1L128.8,294.6L132.1,294.9L134.5,295.9L136.9,297.0L139.6,297.9L142.0,298.6L143.3,299.9L143.2,296.3L143.7,292.8L144.3,290.1L144.6,287.5L145.8,285.0L145.9,281.5L147.0,278.2L147.0,275.0L146.7,277.4L145.8,280.1L144.8,277.4L142.8,275.5L142.0,272.9L141.1,269.9L140.9,267.0L139.6,264.2L138.7,260.7L136.9,258.0L136.1,254.7L135.8,251.7L134.0,249.4L133.0,246.8L132.1,244.3L131.3,241.0L130.8,237.3L129.6,234.3L130.4,231.3L131.3,227.9L132.1,224.9ZM526.2,203.1L524.0,201.7L522.2,199.7L520.1,198.2L517.7,196.5L515.2,195.3L512.6,194.5L510.1,195.8L507.4,196.8L505.2,198.2L503.9,202.0L503.1,205.4L502.7,208.4L502.7,211.9L500.2,214.2L498.9,217.0L496.5,219.4L494.1,221.2L491.3,222.8L489.0,224.4L487.1,226.1L485.0,227.6L482.8,229.3L479.9,229.7L477.2,230.1L474.1,230.6L471.4,230.1L469.1,228.9L466.6,228.1L465.3,231.2L464.1,234.3L463.3,237.7L463.8,241.1L462.9,244.3L461.8,245.0L462.9,246.7L463.6,247.2L463.6,247.2L466.3,249.4L469.9,250.9L472.5,252.1L474.9,252.9L477.3,254.7L480.3,253.6L483.5,252.2L486.5,252.9L489.2,254.0L492.2,254.7L494.4,256.2L497.1,257.2L499.7,258.4L502.7,259.1L505.9,259.6L508.1,257.0L510.2,255.0L512.1,252.2L514.4,253.6L517.4,254.4L519.6,255.9L522.0,256.8L524.9,256.5L527.1,257.1L527.9,254.9L528.3,252.2L527.6,249.9L526.5,247.3L525.8,244.7L526.0,241.2L526.4,238.2L527.1,234.8L527.9,231.9L527.8,228.6L526.5,225.4L525.8,222.3L526.4,218.8L527.9,215.6L528.3,212.4L527.9,209.5L527.1,206.7L525.8,203.7ZM291.0,279.3L289.1,280.3L286.0,281.5L282.8,282.7L279.4,281.9L275.9,280.7L273.3,281.3L270.8,283.1L267.9,283.7L264.5,283.2L261.4,282.8L258.0,282.7L255.4,283.8L253.5,285.5L251.3,287.3L249.0,288.7L245.6,288.8L242.0,290.0L238.5,291.4L235.3,292.4L233.2,294.5L231.6,297.3L230.8,299.9L229.1,302.4L226.5,303.6L224.5,306.0L221.6,307.3L221.1,310.8L221.2,314.0L220.4,317.3L223.1,318.7L226.2,320.2L229.1,321.0L231.6,322.1L233.9,323.9L236.6,324.8L239.3,326.0L241.5,327.2L243.8,329.3L246.5,331.0L249.0,332.1L251.3,333.7L254.1,335.5L255.6,336.6L256.5,337.2L258.2,339.4L260.1,341.3L262.4,342.5L263.9,344.7L265.3,347.6L267.4,349.4L269.9,346.4L272.5,345.8L275.4,344.3L277.9,343.4L280.6,342.4L283.2,341.5L285.8,341.4L288.1,340.0L290.8,339.6L293.1,338.4L295.8,337.5L297.8,333.5L297.5,331.2L296.8,328.5L294.5,326.8L292.8,324.6L290.8,322.5L289.0,320.2L287.6,317.9L285.8,315.6L286.3,312.3L286.8,308.6L289.1,307.0L290.4,304.4L292.8,302.6L295.3,300.4L297.8,297.7L296.8,295.1L296.9,292.3L295.8,289.7L294.7,286.5L293.2,283.8L291.8,280.7ZM585.5,244.5L583.0,244.7L583.4,241.8L585.1,239.2L585.5,236.0L584.9,232.9L584.3,230.2L583.0,227.3L580.2,227.0L577.7,227.7L574.7,228.0L571.8,228.5L568.7,227.5L565.6,226.0L565.0,222.8L563.8,219.7L563.1,216.1L560.0,214.7L556.9,213.6L554.6,214.0L552.0,214.8L549.5,214.9L546.6,213.5L544.7,211.3L542.0,209.9L539.4,208.5L537.0,206.2L534.5,204.9L531.6,204.1L528.9,203.7L526.3,203.2L526.2,203.1L525.8,203.7L527.1,206.7L527.9,209.5L528.3,212.4L527.9,215.6L526.4,218.8L525.8,222.3L526.5,225.4L527.8,228.6L527.9,231.9L527.1,234.8L526.4,238.2L526.0,241.2L525.8,244.7L526.5,247.3L527.6,249.9L528.3,252.2L527.9,254.9L527.1,257.1L528.1,259.7L530.1,262.0L530.8,264.6L531.7,267.1L532.4,269.7L533.3,272.1L534.7,274.7L535.4,277.4L537.0,279.5L537.7,282.0L538.8,284.4L539.5,287.0L539.5,290.3L540.0,293.4L540.7,296.4L543.6,296.2L546.7,295.6L549.5,294.5L552.0,293.5L554.4,291.8L556.9,290.7L559.5,289.6L561.7,288.5L564.4,288.2L566.5,286.3L568.5,284.6L570.6,283.3L571.0,280.2L571.5,277.7L571.8,274.6L574.2,273.9L576.6,272.6L579.3,272.1L581.8,271.8L584.0,270.8L586.8,270.8L589.6,269.8L592.6,268.1L595.5,267.1L596.6,264.4L598.4,262.3L599.2,259.6L598.4,256.0L598.0,252.2L595.7,250.7L593.5,249.2L591.7,247.2L588.5,245.7L585.5,244.7ZM614.1,299.4L612.8,296.5L611.6,293.2L609.4,291.9L607.6,290.0L605.4,288.2L606.4,285.9L606.7,283.3L608.9,281.3L611.6,279.5L614.5,277.3L617.9,275.8L621.1,274.4L624.1,272.1L626.4,271.1L629.0,269.9L631.5,269.6L632.5,267.1L632.9,264.7L634.0,262.1L635.8,260.3L638.1,258.7L640.2,257.1L638.5,253.8L636.5,250.9L635.1,248.0L633.5,245.7L631.5,243.5L629.7,240.9L627.6,239.1L625.3,237.2L621.6,236.6L617.9,236.0L614.5,236.8L611.6,238.5L608.3,237.8L605.2,237.4L601.7,237.2L599.3,238.1L596.9,237.8L594.2,238.5L592.3,240.4L590.8,242.5L589.3,244.7L586.0,244.5L585.5,244.5L585.5,244.7L588.5,245.7L591.7,247.2L593.5,249.2L595.7,250.7L598.0,252.2L598.4,256.0L599.2,259.6L598.4,262.3L596.6,264.4L595.5,267.1L592.6,268.1L589.6,269.8L586.8,270.8L584.0,270.8L581.8,271.8L579.3,272.1L576.6,272.6L574.2,273.9L571.8,274.6L571.5,277.7L571.0,280.2L570.6,283.3L568.5,284.6L566.5,286.3L564.4,288.2L561.7,288.5L559.5,289.6L556.9,290.7L554.4,291.8L552.0,293.5L549.5,294.5L551.5,296.8L554.5,298.6L556.9,300.7L558.4,303.0L560.5,304.9L561.9,306.9L564.7,306.9L567.5,308.0L570.6,308.1L573.2,309.1L575.6,310.6L578.4,310.8L581.3,311.9L584.3,311.9L587.3,310.6L590.2,309.0L593.0,306.9L596.1,306.5L599.0,305.7L601.7,304.4L604.2,303.6L606.8,302.9L609.1,301.2L611.6,300.7ZM491.3,307.8L490.5,310.9L491.0,314.4L490.5,317.8L490.2,320.9L489.8,324.3L489.2,327.0L487.8,329.2L487.4,331.5L487.3,331.8L488.2,332.3L489.8,333.2L491.2,335.2L493.5,336.7L494.8,339.4L496.0,341.7L498.9,340.4L501.6,339.0L504.7,338.0L508.0,336.8L511.3,336.2L514.6,335.5L518.0,336.2L521.2,336.8L524.6,338.0L527.9,338.1L531.2,336.7L534.5,336.7L537.1,335.2L539.5,333.0L542.5,334.9L545.7,336.7L547.4,338.5L549.5,340.5L552.9,339.1L556.2,339.2L559.4,338.0L562.6,338.9L566.0,339.9L569.4,340.5L569.8,343.1L570.6,343.0L571.9,341.1L573.1,339.2L575.1,337.2L576.4,335.0L578.1,333.0L580.2,330.2L581.8,326.8L580.2,324.7L579.4,321.9L578.1,319.3L577.0,316.4L576.1,313.7L575.6,310.6L573.2,309.1L570.6,308.1L567.5,308.0L564.7,306.9L561.9,306.9L560.5,304.9L558.4,303.0L556.9,300.7L554.5,298.6L551.5,296.8L549.5,294.5L546.7,295.6L543.6,296.2L540.7,296.4L537.7,297.7L534.9,298.9L532.0,299.4L529.1,300.3L526.4,301.1L523.3,301.9L520.5,299.8L517.1,298.2L514.8,297.0L512.5,295.1L510.9,293.2L507.7,294.5L504.7,295.7L502.2,296.5L499.6,297.9L497.2,299.4L495.1,300.8L493.5,303.1L491.0,304.4ZM569.8,343.1L569.4,340.5L566.0,339.9L562.6,338.9L559.4,338.0L556.2,339.2L552.9,339.1L549.5,340.5L547.4,338.5L545.7,336.7L542.5,334.9L539.5,333.0L537.1,335.2L534.5,336.7L531.2,336.7L527.9,338.1L524.6,338.0L521.2,336.8L518.0,336.2L514.6,335.5L511.3,336.2L508.0,336.8L504.7,338.0L501.6,339.0L498.9,340.4L496.0,341.7L493.6,343.3L491.2,345.3L489.0,347.1L487.7,349.8L486.0,352.1L484.0,354.6L485.6,356.5L487.5,358.4L489.0,360.8L491.2,362.9L493.8,365.0L496.5,367.0L499.1,369.3L501.0,371.9L502.7,374.5L505.6,375.2L508.6,376.6L511.4,377.5L513.8,376.8L516.4,376.2L519.2,375.3L521.3,374.0L524.6,372.8L528.0,372.8L531.3,371.5L530.0,370.8L533.2,371.2L536.6,371.1L540.0,372.0L543.3,372.0L546.6,373.0L549.9,373.3L552.3,374.7L555.1,375.1L557.4,376.2L559.9,377.0L562.5,376.9L564.9,376.0L567.3,375.7L570.0,375.1L572.5,374.6L574.8,374.5L576.8,372.2L579.7,370.5L582.2,368.3L583.8,366.4L585.9,364.3L587.2,362.1L587.8,360.9L586.8,360.4L584.4,358.5L581.9,355.8L579.3,354.2L576.9,351.8L574.3,349.7L571.8,347.9L570.7,345.7L569.8,343.2ZM502.7,374.5L501.0,371.9L499.1,369.3L496.5,367.0L493.8,365.0L491.2,362.9L489.0,360.8L487.5,358.4L485.6,356.5L484.0,354.6L481.0,355.4L478.1,357.0L475.8,358.5L474.1,360.8L471.6,361.3L469.2,361.7L466.6,362.1L464.0,363.5L461.4,364.4L459.2,365.8L456.7,366.4L454.2,367.4L451.6,368.4L449.2,369.5L445.7,370.1L442.8,370.2L439.3,370.8L436.4,372.1L433.0,373.3L430.7,375.6L428.1,377.0L425.3,375.4L423.1,373.3L421.6,370.2L419.4,367.0L419.3,370.2L418.8,373.9L418.1,377.0L418.9,380.3L419.1,383.5L419.4,386.9L420.0,390.1L421.4,393.7L421.8,396.9L423.9,398.8L425.3,400.9L427.6,402.1L429.3,404.4L430.8,406.4L433.1,408.1L435.2,409.6L436.8,411.8L439.5,413.6L441.7,415.9L444.2,418.0L446.9,420.2L448.5,422.1L448.5,422.0L451.0,420.2L453.2,418.0L455.3,415.3L457.4,413.4L459.5,411.0L462.5,410.7L465.4,409.7L468.5,409.6L471.4,410.2L474.4,409.4L477.1,408.1L479.8,406.8L483.2,405.9L486.6,404.2L486.5,401.9L488.9,399.9L491.7,398.1L494.4,396.4L496.5,394.4L496.9,391.9L498.1,389.6L500.0,387.4L501.4,384.5L502.2,381.2L501.9,377.9ZM706.8,339.6L704.1,339.8L701.6,338.4L698.2,339.3L694.8,339.2L691.7,339.7L689.2,342.2L687.2,344.9L685.9,347.9L684.3,351.1L683.0,354.6L681.8,357.2L680.8,359.5L679.3,362.1L678.1,365.0L677.9,367.8L676.8,370.8L674.8,373.6L674.0,376.8L671.8,379.5L669.9,381.6L667.7,383.2L665.6,384.5L665.7,387.6L666.2,391.1L666.8,394.4L666.5,397.9L667.0,400.9L666.8,404.4L665.5,407.6L664.7,411.0L664.3,414.1L664.3,414.3L664.3,414.5L664.9,417.8L665.8,421.0L666.8,424.3L668.8,426.8L669.9,429.5L671.4,432.2L671.7,434.7L672.7,437.2L673.7,440.0L674.7,442.4L675.5,444.8L675.8,445.8L675.9,446.2L676.5,446.4L679.3,446.6L681.9,445.9L684.2,444.2L686.8,445.0L689.2,444.7L691.7,445.4L693.0,442.7L694.6,440.0L696.7,438.3L699.2,436.7L700.5,433.8L702.1,431.4L703.0,429.0L704.1,426.7L706.2,423.9L707.3,420.6L709.1,418.0L712.4,418.3L715.3,418.0L718.6,416.9L721.5,415.5L722.7,413.3L723.1,410.7L724.0,408.1L725.2,405.0L726.4,402.0L727.8,399.4L727.1,396.7L727.3,393.5L726.5,390.7L727.9,387.8L729.9,385.1L731.5,382.0L732.6,379.3L732.7,376.2L734.0,373.3L734.4,370.7L734.9,369.1L734.5,369.0L732.7,367.3L730.5,365.3L728.8,363.6L726.5,362.1L723.8,360.7L721.1,359.1L719.1,357.1L717.2,354.4L715.0,351.9L712.8,349.6L712.0,346.7L710.7,343.9L709.1,340.9ZM878.4,421.6L878.1,421.8L877.3,419.0L875.8,417.1L875.6,414.1L874.4,411.8L872.1,410.4L870.0,408.9L868.2,406.8L865.8,405.4L863.0,404.3L860.7,403.1L858.2,401.7L855.8,400.7L853.3,399.4L852.4,396.0L850.8,393.2L848.7,391.3L846.9,388.6L844.6,386.9L843.4,389.0L842.1,390.7L843.6,393.2L845.8,395.6L843.3,395.9L840.8,397.2L838.3,398.1L835.5,398.7L832.7,399.4L829.6,399.4L826.8,401.1L823.5,402.4L820.9,404.4L818.6,402.8L817.1,401.0L815.6,398.8L813.5,396.9L811.6,394.7L809.8,393.0L808.5,390.7L808.1,389.1L806.7,389.4L803.2,388.9L799.8,389.4L797.4,390.7L794.8,392.1L792.3,393.2L789.7,395.4L787.3,398.1L789.7,400.0L792.0,402.2L794.2,404.5L796.0,406.8L794.0,408.8L791.9,411.2L789.8,413.1L787.9,415.5L786.1,417.5L783.6,419.3L782.7,422.1L781.5,424.3L779.9,426.7L779.1,429.3L777.1,431.7L776.1,434.2L773.8,436.6L772.4,439.2L769.9,440.4L769.9,440.4L770.8,441.5L772.6,444.3L775.0,446.6L777.4,448.2L780.0,449.1L783.0,449.8L785.8,451.3L788.1,453.1L789.1,454.2L789.8,453.6L792.4,452.8L794.8,452.9L797.1,451.9L800.0,451.2L802.1,450.0L804.8,449.1L808.4,448.2L811.5,446.6L814.6,445.4L817.2,444.2L819.3,442.9L821.8,442.0L824.8,441.5L827.1,440.4L829.3,438.8L832.1,437.9L833.0,437.9L836.0,439.9L839.0,440.8L842.4,439.9L842.9,435.9L842.4,431.9L844.9,429.4L846.5,427.4L847.9,424.9L849.9,426.2L851.4,427.9L854.9,429.9L857.5,431.4L859.9,432.4L863.8,432.4L866.4,430.9L868.8,429.9L871.2,428.9L873.8,427.9L876.1,426.9L878.8,426.4L879.0,422.4ZM676.4,449.2L673.9,451.4L672.2,454.2L670.5,456.6L668.8,459.3L668.5,462.4L667.4,465.3L666.5,468.5L664.4,469.5L661.7,470.1L659.5,471.2L659.4,474.5L658.6,478.0L660.6,479.7L662.2,481.7L664.6,483.1L665.2,486.6L665.4,489.8L664.9,493.3L663.7,496.6L664.4,500.1L664.6,503.4L665.0,506.9L665.2,508.7L665.4,510.2L666.5,510.7L667.8,511.2L669.7,512.7L672.0,511.4L674.4,510.1L676.4,508.5L676.5,505.7L677.4,502.9L678.1,500.0L676.5,497.7L675.6,494.9L678.1,493.3L680.7,492.4L682.9,493.7L685.3,495.0L687.5,496.6L688.4,499.2L689.5,501.9L690.0,505.1L691.0,508.3L693.2,510.6L694.2,513.6L695.5,516.4L697.6,518.6L699.4,520.8L700.4,523.5L702.0,525.4L703.6,527.4L705.4,529.6L706.2,532.7L707.8,535.6L709.1,538.3L712.3,538.0L715.5,538.1L719.1,538.4L722.2,537.6L724.3,536.2L724.0,535.8L722.7,532.7L721.5,529.6L721.4,526.4L721.4,522.8L721.5,519.7L723.2,517.5L724.4,514.5L726.5,512.2L728.8,510.6L731.5,509.9L734.0,508.5L732.0,507.2L730.1,505.0L728.1,503.4L726.7,501.1L726.2,498.5L724.7,496.6L723.0,494.4L722.0,491.8L720.5,489.8L718.6,487.8L716.7,486.1L714.6,484.7L711.3,484.2L707.8,483.1L705.7,481.7L703.1,480.6L701.2,478.9L698.5,478.0L697.7,475.6L696.8,473.1L696.1,470.3L695.9,467.8L693.6,466.5L691.2,464.6L689.2,462.7L686.9,460.4L684.3,458.3L682.4,455.9L681.2,452.8L680.0,449.7L679.3,446.6L676.5,446.4L675.9,446.2ZM724.3,536.2L725.4,535.5L727.7,533.0L730.4,532.1L732.5,530.8L734.9,529.2L735.4,526.3L735.3,523.5L735.8,520.7L738.5,519.8L740.8,518.1L743.2,520.3L745.9,522.4L748.5,523.6L750.7,524.4L752.8,526.4L755.3,527.5L756.7,525.2L758.5,523.4L760.3,521.5L763.4,520.8L766.5,520.4L769.7,519.8L772.3,518.9L775.4,519.1L778.1,518.1L778.6,514.9L779.8,512.2L782.1,510.8L784.9,509.7L787.1,510.8L789.5,512.0L791.7,513.1L795.1,512.0L798.5,511.4L799.2,508.7L800.8,506.5L801.9,503.7L803.9,502.3L806.5,500.8L808.6,499.5L811.7,499.7L814.7,499.8L815.2,497.5L815.9,494.8L813.6,492.8L811.0,491.1L810.4,488.1L809.1,485.3L808.5,482.4L807.2,479.5L805.3,477.6L803.5,474.9L801.9,471.7L800.6,468.9L798.5,466.2L796.0,464.8L793.6,463.7L791.1,462.5L787.3,463.7L784.7,464.6L782.4,466.0L779.9,467.4L779.1,469.9L779.3,472.3L778.6,474.9L776.9,477.4L775.8,479.9L773.7,482.4L770.8,483.6L767.9,483.8L765.0,484.9L761.9,485.2L758.9,484.9L757.7,487.3L756.2,490.0L755.1,492.3L752.3,492.6L749.3,492.7L746.4,493.6L744.0,494.5L741.7,496.3L739.4,498.4L736.5,499.8L735.5,502.7L735.0,505.8L734.0,508.5L731.5,509.9L728.8,510.6L726.5,512.2L724.4,514.5L723.2,517.5L721.5,519.7L721.4,522.8L721.4,526.4L721.5,529.6L722.7,532.7L724.0,535.8ZM455.5,438.2L454.3,438.5L452.3,439.0L449.3,440.7L447.1,442.7L444.2,444.1L441.7,442.6L438.8,441.6L435.8,440.7L432.5,439.6L428.6,439.6L426.0,439.0L423.4,439.6L420.5,439.0L418.0,440.4L416.2,442.6L413.7,444.1L412.7,446.8L412.5,449.8L411.9,452.9L409.3,453.6L406.9,455.0L406.2,458.4L405.8,461.6L405.7,465.0L404.6,468.3L403.6,471.3L403.2,474.9L402.4,478.0L402.0,481.6L401.9,484.9L402.8,488.0L403.5,490.7L404.4,493.6L405.0,496.3L405.1,496.5L405.9,498.5L406.9,501.0L409.4,502.6L411.7,504.5L414.4,506.0L416.9,507.6L419.3,509.2L421.8,511.0L424.2,513.4L426.8,515.1L429.3,517.2L431.9,518.1L434.5,519.3L436.8,520.9L439.9,521.8L443.2,523.0L446.7,523.4L448.9,524.2L449.2,523.4L449.7,520.3L450.4,517.6L451.7,514.7L454.2,513.9L456.6,512.2L459.2,511.0L461.1,508.2L462.2,505.1L464.1,502.3L465.5,500.0L465.8,497.2L467.4,494.7L467.9,492.3L467.8,488.9L468.9,485.6L469.1,482.4L469.8,479.2L470.0,475.7L470.3,472.4L471.9,469.6L473.3,467.2L475.3,465.0L476.6,465.0L476.7,461.3L476.6,457.5L480.3,456.6L480.2,453.0L480.3,449.1L478.6,446.5L476.1,444.0L474.1,441.7L470.6,440.5L467.1,440.4L464.1,439.2L460.9,438.5L457.3,438.8ZM531.2,501.9L530.3,499.4L529.3,496.7L528.8,493.6L530.9,491.6L532.5,489.2L535.0,487.3L534.4,484.7L533.7,482.0L532.5,479.9L530.8,477.4L528.2,475.3L526.8,472.7L526.3,469.9L524.0,468.0L521.7,466.2L518.9,465.0L516.3,466.2L513.6,467.9L511.4,469.9L509.0,469.3L506.4,468.9L503.9,468.7L501.4,470.0L499.2,472.5L496.5,473.7L494.2,472.2L492.5,470.2L489.4,469.6L486.5,468.7L484.2,467.8L481.7,466.9L479.2,465.6L476.6,465.0L475.3,465.0L473.3,467.2L471.9,469.6L470.3,472.4L470.0,475.7L469.8,479.2L469.1,482.4L468.9,485.6L467.8,488.9L467.9,492.3L467.4,494.7L465.8,497.2L465.5,500.0L464.1,502.3L462.2,505.1L461.1,508.2L459.2,511.0L456.6,512.2L454.2,513.9L451.7,514.7L450.4,517.6L449.7,520.3L449.2,523.4L448.9,524.2L450.1,524.6L453.1,525.5L456.7,525.9L457.7,529.0L458.8,531.4L459.2,534.6L460.8,537.1L462.1,540.0L464.1,542.1L466.8,543.1L469.1,544.0L471.5,545.0L474.1,545.8L477.4,546.5L480.6,547.4L483.8,547.7L486.5,548.3L487.6,551.3L489.3,553.9L490.2,557.0L492.5,555.1L494.0,552.6L496.5,550.8L497.2,547.7L498.0,545.0L499.0,542.1L499.9,538.8L499.6,535.5L500.2,532.1L501.3,529.6L503.0,527.5L503.9,524.7L506.3,525.8L508.9,527.1L510.4,524.0L511.4,520.9L513.0,518.2L514.8,515.8L516.4,513.5L518.3,511.4L519.3,508.1L521.3,506.0L523.5,504.8L526.2,504.0L529.0,503.6L531.3,502.3ZM479.2,592.2L481.0,593.4L483.2,594.5L485.8,596.2L487.6,598.1L489.8,599.6L492.1,601.2L494.2,602.4L496.6,604.2L498.5,605.8L501.6,606.7L504.2,607.9L507.2,608.3L510.6,607.9L514.0,606.6L517.1,605.8L519.7,608.0L522.2,609.6L524.6,612.0L526.5,614.0L527.9,616.1L530.1,617.7L532.0,619.5L533.8,621.4L535.7,623.3L537.8,625.1L539.5,627.0L541.8,629.3L544.0,631.8L547.1,632.9L549.5,634.4L553.1,635.0L556.0,636.5L559.4,636.9L562.6,637.5L566.1,639.0L569.4,639.4L572.8,640.2L576.0,641.4L579.3,641.9L582.8,642.0L585.8,642.8L589.3,643.1L591.7,641.1L594.2,639.5L596.7,638.2L598.0,635.5L599.7,632.9L601.7,630.7L600.4,628.2L599.8,625.5L599.8,622.4L599.2,619.5L599.9,616.7L600.9,614.2L599.6,611.6L598.4,609.2L599.3,605.9L599.0,602.4L599.7,599.3L600.4,596.7L601.5,594.2L602.9,592.0L603.4,589.3L603.9,585.9L603.7,582.8L604.6,579.4L602.0,577.7L599.8,575.6L597.2,574.4L594.0,573.1L590.7,572.6L587.2,571.9L584.7,570.7L582.6,569.0L580.5,567.0L578.9,565.0L575.6,567.3L572.0,567.3L569.1,568.2L565.6,568.5L562.8,570.1L559.5,571.5L556.9,573.5L553.5,574.6L550.1,574.8L547.0,576.0L544.0,574.4L541.4,572.8L538.3,571.0L535.4,571.6L532.5,572.7L529.6,573.5L527.0,574.6L524.8,575.7L521.8,575.8L519.6,577.2L517.4,578.7L515.3,580.6L512.6,581.2L509.7,582.2L507.1,583.3L504.9,583.8L502.3,585.1L499.7,585.9L496.3,585.6L493.1,585.9L489.8,585.9L486.8,585.4L484.0,585.6L482.2,588.0L480.3,590.6ZM601.7,630.7L605.6,630.7L609.2,630.7L611.6,631.0L614.2,632.7L616.6,633.2L619.1,634.0L621.4,636.0L624.1,636.9L625.8,638.6L627.6,641.0L629.5,642.6L631.5,644.4L633.7,646.8L636.5,648.3L639.0,650.6L641.3,651.9L644.1,652.4L646.5,653.1L649.3,654.4L652.5,655.6L654.8,656.8L657.5,658.0L658.6,661.0L661.0,663.8L662.4,666.7L662.7,669.8L663.6,672.2L663.7,675.4L665.5,673.4L667.2,671.4L668.7,669.2L669.9,666.8L670.9,663.9L672.4,661.5L673.6,659.2L676.0,657.3L678.0,654.8L679.5,651.8L681.1,649.3L683.2,647.3L685.7,645.3L687.3,643.0L684.5,641.3L682.3,639.3L680.5,637.5L678.5,635.6L676.9,633.8L674.9,631.8L672.9,630.4L671.4,628.0L668.8,626.5L667.4,624.4L668.2,621.0L668.4,617.7L668.7,614.4L669.9,612.2L670.3,609.2L671.8,607.1L672.4,604.5L672.4,600.9L671.2,597.7L671.1,594.5L670.6,591.1L669.3,588.2L667.9,585.6L665.6,583.1L663.0,584.0L659.8,583.8L656.9,584.4L653.8,585.4L650.2,585.8L646.9,586.8L643.8,588.0L640.4,588.3L637.0,589.3L634.9,591.6L633.0,594.4L630.7,596.8L629.0,599.4L627.8,602.2L625.8,604.3L625.7,607.5L624.8,611.0L624.5,614.2L620.6,613.5L617.1,613.0L613.8,612.9L610.6,612.0L607.1,611.7L604.2,613.2L600.9,614.2L599.9,616.7L599.2,619.5L599.8,622.4L599.8,625.5L600.4,628.2ZM101.0,328.5L99.4,331.4L97.2,333.7L94.5,335.1L92.3,337.2L90.9,340.2L88.6,342.9L87.3,345.9L85.8,348.0L83.8,349.7L82.3,352.1L79.0,353.9L76.1,355.8L77.2,358.1L77.8,360.7L78.6,363.3L80.8,365.8L83.4,367.8L85.2,370.5L87.3,373.3L88.5,376.1L88.7,379.3L89.8,382.0L90.6,385.1L91.0,387.9L91.0,390.7L94.0,391.7L96.7,392.6L99.8,393.2L103.5,394.3L107.2,394.4L109.6,393.3L112.2,392.9L114.7,391.2L117.2,390.7L119.7,391.6L122.2,392.6L124.6,393.2L127.8,392.4L131.2,391.9L134.6,391.9L138.1,391.5L141.3,391.3L144.5,390.7L147.9,391.4L151.4,392.2L154.5,393.2L156.7,391.1L159.5,389.4L160.5,387.0L162.4,384.6L163.2,382.0L164.5,379.7L165.4,376.9L166.9,374.5L166.8,371.9L165.7,369.5L167.2,367.1L168.2,364.8L169.4,362.1L167.8,359.8L166.9,357.1L165.3,354.6L164.3,352.1L163.2,349.6L163.8,345.8L164.4,342.2L163.4,339.8L161.7,337.2L160.7,334.7L160.6,331.8L160.6,328.7L159.8,326.1L159.5,323.5L157.6,325.9L155.7,328.5L152.6,328.0L149.5,328.5L146.7,327.2L143.8,326.4L140.3,326.0L137.1,326.0L133.9,326.0L130.5,326.7L127.1,327.2L124.2,327.7L121.5,328.7L118.4,329.7L115.4,329.2L112.7,328.1L109.7,327.2L106.9,327.7L103.9,327.6ZM267.4,349.4L265.3,347.6L263.9,344.7L262.4,342.5L260.1,341.3L258.2,339.4L256.5,337.2L255.6,336.6L255.2,337.2L252.1,338.7L249.0,340.9L246.4,342.0L244.0,343.6L241.5,344.7L237.6,344.9L234.1,345.9L233.0,348.8L232.8,352.1L231.7,350.0L231.3,352.4L230.7,355.0L229.7,357.4L229.7,360.0L228.8,362.5L228.7,364.9L227.7,367.0L227.7,369.4L228.1,371.8L228.7,373.9L229.7,376.4L226.7,378.9L224.2,381.8L225.7,384.8L228.7,387.8L230.3,389.6L231.7,391.8L231.6,392.8L231.7,392.8L233.1,395.3L233.7,397.8L231.7,400.7L234.7,402.7L238.7,404.2L242.6,404.7L244.4,406.5L246.6,407.7L248.0,407.3L247.6,405.7L248.6,401.7L247.1,397.8L245.6,393.8L247.6,392.1L249.6,390.8L252.7,390.6L255.6,390.8L257.5,388.9L259.6,387.8L262.2,385.6L265.5,383.8L263.5,380.8L263.5,378.3L264.0,377.2L264.5,375.9L265.0,372.9L266.5,369.9L267.5,367.4L267.5,364.9L268.9,362.3L270.1,359.6L269.6,356.9L269.1,354.6L268.9,352.1L267.4,349.4ZM91.0,390.7L92.6,393.7L94.5,396.5L96.0,399.4L97.0,402.5L97.2,406.0L98.5,409.3L98.5,412.6L99.6,415.9L99.8,419.3L100.6,422.2L101.8,424.8L103.6,427.0L106.0,429.2L106.6,431.8L107.6,434.6L109.0,437.1L110.9,439.2L111.7,442.4L112.0,445.9L113.4,449.1L116.2,450.0L119.1,452.2L122.1,452.9L125.3,453.6L128.0,454.9L131.6,455.4L134.6,456.6L138.1,457.9L141.2,459.3L143.3,461.6L145.8,463.7L146.1,464.6L146.5,464.5L149.5,464.2L151.6,462.9L154.5,462.5L156.9,461.4L159.3,460.3L161.9,460.0L163.2,459.1L162.4,456.8L161.9,454.1L161.7,451.6L160.6,448.9L159.5,446.6L159.8,443.3L160.7,439.9L160.7,436.7L162.7,434.8L164.4,432.3L166.9,430.5L167.7,427.8L168.9,424.9L169.4,421.8L168.9,418.0L169.4,414.3L170.1,411.7L172.1,409.6L173.1,406.8L171.9,404.4L170.5,401.9L169.4,399.4L166.9,398.7L164.2,397.6L161.9,396.9L159.7,395.2L157.3,394.0L154.5,393.2L151.4,392.2L147.9,391.4L144.5,390.7L141.3,391.3L138.1,391.5L134.6,391.9L131.2,391.9L127.8,392.4L124.6,393.2L122.2,392.6L119.7,391.6L117.2,390.7L114.7,391.2L112.2,392.9L109.6,393.3L107.2,394.4L103.5,394.3L99.8,393.2L96.7,392.6L94.0,391.7ZM146.1,464.6L146.6,466.1L147.2,468.9L148.9,471.0L149.5,473.7L151.5,475.9L152.7,478.6L153.5,481.2L154.5,483.6L155.8,485.8L157.2,488.3L159.0,490.3L160.7,492.3L161.8,495.7L162.0,499.2L163.2,502.3L166.2,503.4L168.9,504.6L171.9,506.0L174.1,507.7L175.9,510.6L178.1,512.2L179.4,514.7L181.4,516.1L182.3,518.9L184.3,520.9L185.8,523.5L186.6,526.6L188.1,529.6L187.0,532.6L186.8,535.8L188.9,537.7L191.0,539.8L193.0,542.1L195.3,545.0L198.0,547.0L200.5,545.3L202.1,543.9L200.5,542.1L202.3,539.8L204.2,537.2L205.5,534.6L206.9,531.3L209.2,528.4L212.6,526.9L215.4,524.7L215.1,522.3L215.1,519.6L214.2,517.2L214.7,514.5L216.3,512.1L216.7,509.7L219.1,509.1L221.5,508.3L224.1,507.2L226.6,506.3L229.1,505.2L231.6,504.8L233.3,502.5L234.2,499.9L235.3,497.3L235.2,494.8L234.7,492.2L234.1,489.8L234.8,487.3L235.8,484.9L236.6,482.4L238.8,480.6L240.6,478.2L242.8,476.1L244.3,472.9L246.5,469.9L248.7,467.1L250.2,463.7L247.8,460.1L248.7,457.3L249.0,454.6L249.0,454.6L249.0,454.6L245.6,454.0L242.4,454.6L239.1,454.1L236.7,453.3L233.9,452.3L231.4,452.1L228.7,451.6L226.7,449.8L224.1,449.1L221.5,447.3L218.7,446.0L215.8,444.7L212.9,442.9L212.2,439.9L210.8,436.8L209.2,434.2L206.8,433.4L204.4,432.5L202.0,430.9L198.7,429.9L195.5,428.0L193.7,426.2L192.0,423.9L190.2,422.2L188.1,420.5L185.0,420.9L181.9,421.2L179.6,419.9L176.9,419.3L174.3,420.1L171.7,420.9L169.4,421.8L168.9,424.9L167.7,427.8L166.9,430.5L164.4,432.3L162.7,434.8L160.7,436.7L160.7,439.9L159.8,443.3L159.5,446.6L160.6,448.9L161.7,451.6L161.9,454.1L162.4,456.8L163.2,459.1L161.9,460.0L159.3,460.3L156.9,461.4L154.5,462.5L151.6,462.9L149.5,464.2L146.5,464.5ZM278.0,438.9L277.2,439.4L274.0,440.2L272.0,438.9L270.0,437.7L267.4,436.4L264.3,435.0L261.4,434.2L258.6,435.5L255.1,435.9L252.0,436.7L250.7,439.5L249.3,442.6L249.6,445.7L249.0,449.1L249.2,451.8L249.0,454.6L249.0,454.6L248.7,457.3L247.8,460.1L250.2,463.7L248.7,467.1L246.5,469.9L244.3,472.9L242.8,476.1L240.6,478.2L238.8,480.6L236.6,482.4L235.8,484.9L234.8,487.3L234.1,489.8L234.7,492.2L235.2,494.8L235.3,497.3L234.2,499.9L233.3,502.5L231.6,504.8L233.4,506.4L235.2,508.8L237.1,510.2L239.1,512.2L241.4,513.4L244.1,513.4L246.5,514.7L249.1,515.3L251.6,515.5L254.0,515.9L255.5,518.2L256.5,520.9L259.8,520.9L263.1,519.7L266.4,519.7L268.6,518.1L271.4,517.2L274.0,519.7L276.4,522.2L277.6,524.8L278.9,527.1L282.0,527.4L285.3,528.2L288.8,528.4L291.6,528.3L294.6,528.2L297.3,529.1L300.0,529.6L302.9,528.8L305.2,528.6L305.2,528.5L306.1,525.4L306.2,522.2L308.0,520.2L309.0,517.5L309.2,517.3L306.4,516.1L302.9,516.2L299.5,514.9L298.3,511.6L296.3,508.5L294.0,506.9L291.6,505.8L288.8,504.8L286.9,502.8L285.8,500.0L284.5,497.3L283.8,494.8L283.1,492.0L281.5,489.9L280.6,487.6L280.1,484.9L279.5,482.4L278.6,480.0L277.7,477.0L276.4,474.9L276.3,471.7L277.7,468.2L277.6,465.0L277.7,461.8L277.8,458.4L278.4,455.0L279.3,452.2L279.8,449.7L280.1,446.6L279.1,443.6L278.9,440.9ZM345.6,441.2L343.1,439.5L340.6,437.7L338.8,439.6L336.7,440.7L334.4,441.7L332.7,443.2L330.2,441.1L327.9,438.9L325.7,436.7L322.8,435.0L320.7,432.7L316.8,433.7L314.4,435.6L312.8,438.2L309.4,438.0L306.3,437.8L302.8,437.7L300.2,436.6L297.3,436.7L294.4,435.7L293.6,433.1L293.4,430.7L289.4,429.8L287.6,432.5L284.9,434.7L282.4,435.9L280.0,437.7L278.2,438.8L278.0,438.9L278.9,440.9L279.1,443.6L280.1,446.6L279.8,449.7L279.3,452.2L278.4,455.0L277.8,458.4L277.7,461.8L277.6,465.0L277.7,468.2L276.3,471.7L276.4,474.9L277.7,477.0L278.6,480.0L279.5,482.4L280.1,484.9L280.6,487.6L281.5,489.9L283.1,492.0L283.8,494.8L284.5,497.3L285.8,500.0L286.9,502.8L288.8,504.8L291.6,505.8L294.0,506.9L296.3,508.5L298.3,511.6L299.5,514.9L302.9,516.2L306.4,516.1L309.2,517.3L310.1,516.2L310.7,515.5L311.9,514.1L312.4,513.5L313.5,510.5L315.3,508.0L316.1,504.8L318.7,503.1L321.3,501.4L323.6,499.8L323.0,497.1L322.9,494.6L322.3,492.3L324.4,489.6L327.3,487.3L329.4,489.8L331.0,492.3L331.8,489.1L332.3,486.1L333.9,483.0L335.8,480.2L337.3,477.4L338.1,474.4L339.7,471.3L340.8,467.9L342.2,465.0L343.2,461.5L343.8,458.2L344.7,455.0L345.7,452.0L345.7,449.3L346.3,446.2L347.2,442.9L347.6,441.9ZM411.9,452.9L409.5,451.0L408.0,448.6L405.7,446.6L403.9,444.8L402.7,442.2L400.9,440.3L399.5,437.9L397.3,436.2L395.3,434.5L392.9,433.6L390.7,431.7L388.9,433.6L387.4,435.5L385.8,437.9L384.7,440.6L383.7,443.8L383.3,446.6L381.0,447.4L378.2,447.8L375.8,449.1L372.6,449.9L369.6,451.6L367.2,450.1L365.6,448.5L364.1,447.2L363.5,446.7L360.0,445.8L356.6,444.7L352.9,444.2L349.6,442.7L347.6,441.9L347.2,442.9L346.3,446.2L345.7,449.3L345.7,452.0L344.7,455.0L343.8,458.2L343.2,461.5L342.2,465.0L340.8,467.9L339.7,471.3L338.1,474.4L337.3,477.4L335.8,480.2L333.9,483.0L332.3,486.1L331.8,489.1L331.0,492.3L333.3,495.0L334.8,498.5L338.1,499.4L341.0,499.8L342.2,502.1L342.5,504.9L343.5,507.2L346.0,508.4L348.4,508.8L351.2,509.6L353.4,511.0L354.5,513.3L354.6,516.1L355.9,518.4L357.9,521.0L360.0,523.5L362.1,525.9L364.0,527.5L365.9,529.6L368.9,531.3L371.8,532.5L374.6,534.6L377.4,535.4L380.5,536.0L383.3,537.1L382.1,534.0L381.5,530.5L380.8,527.1L381.9,524.1L382.0,520.9L379.8,518.1L378.3,514.7L381.3,514.6L384.4,514.3L387.0,513.5L389.6,511.8L392.3,509.7L394.5,507.2L395.0,504.8L396.5,502.5L397.0,499.8L399.8,498.2L403.2,497.3L405.1,496.5L405.0,496.3L404.4,493.6L403.5,490.7L402.8,488.0L401.9,484.9L402.0,481.6L402.4,478.0L403.2,474.9L403.6,471.3L404.6,468.3L405.7,465.0L405.8,461.6L406.2,458.4L406.9,455.0L409.3,453.6ZM202.1,543.9L202.5,543.5L205.1,544.7L208.4,545.6L211.2,546.0L212.8,548.6L215.1,551.2L217.4,553.5L218.4,556.0L219.2,558.4L220.3,560.7L221.1,563.4L223.9,565.0L226.9,566.5L229.9,568.4L231.2,571.2L232.0,574.1L233.6,577.1L234.8,580.0L235.5,582.9L236.1,585.8L238.3,587.0L240.4,589.2L243.0,590.2L244.8,592.0L247.7,593.8L249.5,596.4L252.2,598.3L254.0,595.3L255.9,592.5L257.2,589.6L257.4,586.4L257.7,582.7L258.5,579.6L258.1,576.8L258.1,574.1L258.4,571.2L258.5,568.4L262.1,567.7L265.3,566.5L268.9,566.6L272.1,567.2L275.5,567.4L278.6,567.5L282.1,567.2L284.8,569.4L287.0,571.6L289.6,573.4L290.6,570.5L290.8,567.2L291.7,564.8L292.8,562.5L293.3,559.7L295.3,558.1L297.0,555.6L298.2,553.7L297.5,553.3L300.3,552.0L302.8,550.1L304.9,548.3L306.4,546.0L307.2,543.2L308.7,540.8L307.0,538.2L306.5,534.7L304.9,532.1L305.2,528.7L305.2,528.6L302.9,528.8L300.0,529.6L297.3,529.1L294.6,528.2L291.6,528.3L288.8,528.4L285.3,528.2L282.0,527.4L278.9,527.1L277.6,524.8L276.4,522.2L274.0,519.7L271.4,517.2L268.6,518.1L266.4,519.7L263.1,519.7L259.8,520.9L256.5,520.9L255.5,518.2L254.0,515.9L251.6,515.5L249.1,515.3L246.5,514.7L244.1,513.4L241.4,513.4L239.1,512.2L237.1,510.2L235.2,508.8L233.4,506.4L231.6,504.8L229.1,505.2L226.6,506.3L224.1,507.2L221.5,508.3L219.1,509.1L216.7,509.7L216.3,512.1L214.7,514.5L214.2,517.2L215.1,519.6L215.1,522.3L215.4,524.7L212.6,526.9L209.2,528.4L206.9,531.3L205.5,534.6L204.2,537.2L202.3,539.8L200.5,542.1ZM252.2,598.3L254.0,600.3L255.4,602.6L257.2,604.8L258.5,607.0L260.3,608.8L262.0,611.0L263.7,613.4L265.9,615.7L263.5,617.7L261.4,619.7L259.7,621.9L262.4,623.8L264.9,625.8L267.2,628.1L269.2,630.1L272.2,631.1L274.6,633.1L277.2,635.0L280.5,636.2L283.8,637.4L287.1,638.1L289.9,638.6L292.2,639.7L294.6,641.3L297.0,643.0L299.4,644.0L302.0,644.3L304.9,642.5L308.0,642.3L310.7,640.5L313.9,639.1L316.9,636.8L318.7,634.3L320.6,632.1L321.9,629.4L323.2,631.5L325.5,633.2L326.9,635.6L329.9,636.3L332.8,637.2L335.6,638.1L338.5,638.2L341.5,637.3L344.3,636.8L346.2,639.4L347.2,642.8L349.3,645.5L352.6,645.1L355.5,644.3L356.7,641.2L357.0,637.6L358.0,634.3L358.3,631.3L359.1,628.6L359.1,627.2L357.7,627.1L357.2,624.4L355.9,621.7L354.6,619.3L353.8,616.7L352.2,614.2L350.3,612.1L348.8,610.4L346.4,609.0L344.7,606.7L343.2,604.1L341.5,601.8L339.8,599.3L336.4,598.5L333.0,597.4L329.8,596.8L329.2,593.7L328.5,590.7L327.3,588.1L326.2,585.6L324.6,582.9L322.2,580.9L319.9,579.4L317.8,577.1L316.1,575.0L313.9,572.2L312.4,569.4L310.4,567.5L308.5,566.0L306.7,564.0L304.9,562.0L302.8,559.8L301.4,557.0L299.8,554.7L298.2,553.7L298.2,553.7L297.0,555.6L295.3,558.1L293.3,559.7L292.8,562.5L291.7,564.8L290.8,567.2L290.6,570.5L289.6,573.4L287.0,571.6L284.8,569.4L282.1,567.2L278.6,567.5L275.5,567.4L272.1,567.2L268.9,566.6L265.3,566.5L262.1,567.7L258.5,568.4L258.4,571.2L258.1,574.1L258.1,576.8L258.5,579.6L257.7,582.7L257.4,586.4L257.2,589.6L255.9,592.5L254.0,595.3ZM383.8,607.2L385.2,608.9L387.5,610.3L389.5,611.7L391.9,612.2L394.5,613.0L395.1,610.3L395.9,607.0L397.0,604.3L397.5,600.8L398.4,597.9L399.0,594.7L399.5,591.8L400.2,588.9L400.6,585.7L400.1,582.6L400.7,579.4L401.2,575.9L402.2,572.7L403.2,569.4L405.5,567.4L407.2,564.5L409.4,562.0L412.0,562.4L414.5,563.5L416.9,564.5L419.2,565.7L421.6,566.4L424.3,566.9L425.7,569.2L426.4,571.9L428.1,574.4L430.4,576.7L433.0,578.1L435.6,577.2L438.2,576.7L440.5,575.6L442.7,574.2L445.1,572.2L447.5,571.0L450.3,572.4L452.7,574.2L454.9,576.0L457.4,577.8L460.2,578.7L462.6,580.1L464.9,582.2L467.8,584.0L469.7,586.2L472.3,588.4L474.9,590.2L478.1,591.5L479.2,592.2L480.3,590.6L482.2,588.0L484.0,585.6L481.4,584.2L479.1,581.9L478.1,579.2L476.6,577.0L475.3,574.4L476.8,571.0L479.1,568.2L480.8,566.2L482.0,563.8L484.0,562.0L485.9,560.4L488.2,558.8L490.2,557.0L489.3,553.9L487.6,551.3L486.5,548.3L483.8,547.7L480.6,547.4L477.4,546.5L474.1,545.8L471.5,545.0L469.1,544.0L466.8,543.1L464.1,542.1L462.1,540.0L460.8,537.1L459.2,534.6L458.8,531.4L457.7,529.0L456.7,525.9L453.1,525.5L450.1,524.6L448.9,524.2L446.7,523.4L443.2,523.0L439.9,521.8L436.8,520.9L434.5,519.3L431.9,518.1L429.3,517.2L426.8,515.1L424.2,513.4L421.8,511.0L419.3,509.2L416.9,507.6L414.4,506.0L411.7,504.5L409.4,502.6L406.9,501.0L405.9,498.5L405.1,496.5L403.2,497.3L399.8,498.2L397.0,499.8L396.5,502.5L395.0,504.8L394.5,507.2L392.3,509.7L389.6,511.8L387.0,513.5L384.4,514.3L381.3,514.6L378.3,514.7L379.8,518.1L382.0,520.9L381.9,524.1L380.8,527.1L381.5,530.5L382.1,534.0L383.3,537.1L380.5,536.0L377.4,535.4L374.6,534.6L371.8,532.5L368.9,531.3L365.9,529.6L363.9,532.3L360.9,534.6L359.9,537.6L358.4,540.8L360.6,543.7L362.1,547.0L362.5,549.7L364.0,552.0L364.6,554.5L365.7,556.7L366.5,559.4L367.1,562.0L368.8,564.5L370.8,566.9L370.2,569.2L369.6,571.8L369.6,574.4L370.7,576.6L372.3,578.9L374.0,581.2L375.8,583.1L376.4,585.6L377.9,587.8L378.3,590.6L379.9,593.2L382.3,595.7L384.5,598.0L384.7,600.4L385.7,602.8L385.8,605.5L384.0,607.0Z" fill="#eba59c" stroke="#737070" stroke-width="1.35" stroke-linejoin="round"/>
<path d="M90.4,245.1L89.3,246.7L86.8,248.3L84.8,250.5L83.4,253.3L83.2,256.4L82.3,259.2L81.2,261.6L80.3,264.1L79.9,266.6L76.1,264.2L75.2,260.8L75.5,257.7L74.9,254.2L73.2,251.5L71.1,249.2L69.1,247.1L67.4,244.3L68.0,241.3L68.7,238.0L67.0,236.4L64.9,235.5L62.4,231.8L60.1,232.1L57.3,232.3L55.0,233.1L55.1,236.8L56.2,240.5L53.4,242.2L51.2,244.3L52.5,246.7L53.0,249.5L54.4,251.9L55.5,254.5L56.4,257.1L56.7,259.3L57.2,262.1L57.6,264.6L59.0,266.7L60.0,269.1L60.8,272.0L61.2,275.0L62.3,277.4L63.6,280.2L64.9,282.5L67.1,284.6L69.6,285.9L71.3,288.7L73.6,291.2L76.1,293.1L78.1,295.4L80.5,297.2L82.3,299.9L84.0,302.2L85.8,303.9L88.2,305.7L90.3,307.5L91.7,310.3L93.5,312.3L94.0,314.9L94.1,317.4L94.8,319.8L96.1,322.3L98.0,323.9L99.2,326.6L101.0,328.5L103.9,327.6L106.9,327.7L109.7,327.2L112.7,328.1L115.4,329.2L118.4,329.7L121.5,328.7L124.2,327.7L127.1,327.2L130.5,326.7L133.9,326.0L137.1,326.0L140.3,326.0L143.8,326.4L146.7,327.2L149.5,328.5L152.6,328.0L155.7,328.5L157.6,325.9L159.5,323.5L157.0,322.3L155.9,319.9L154.5,317.3L152.8,314.5L150.6,312.4L148.3,309.8L147.8,307.3L146.4,305.0L145.3,302.3L143.3,299.9L142.0,298.6L139.6,297.9L136.9,297.0L134.5,295.9L132.1,294.9L128.8,294.6L125.5,294.1L122.1,293.7L119.3,294.8L116.2,295.6L113.4,296.1L112.1,293.6L110.3,291.5L108.7,289.7L107.2,287.4L104.3,285.8L102.4,283.6L100.7,281.4L99.8,278.7L101.0,280.1L101.2,277.1L101.2,274.5L102.3,271.7L103.5,269.1L103.7,265.8L104.0,262.6L103.5,259.2L102.7,256.1L100.8,253.4L99.8,250.5L96.8,248.9L94.1,247.1L91.0,245.5ZM206.7,272.9L206.0,275.3L205.7,277.9L205.0,280.5L203.9,283.9L203.0,287.4L203.8,290.1L205.2,292.3L205.5,295.0L206.7,297.4L206.3,300.5L206.4,303.3L205.5,306.1L208.3,306.1L211.2,305.2L214.2,304.9L216.6,305.6L219.4,306.0L221.6,307.3L224.5,306.0L226.5,303.6L229.1,302.4L230.8,299.9L231.6,297.3L233.2,294.5L235.3,292.4L238.5,291.4L242.0,290.0L245.6,288.8L249.0,288.7L251.3,287.3L253.5,285.5L255.4,283.8L258.0,282.7L261.4,282.8L264.5,283.2L267.9,283.7L270.8,283.1L273.3,281.3L275.9,280.7L279.4,281.9L282.8,282.7L286.0,281.5L289.1,280.3L291.0,279.3L291.8,278.8L294.2,277.2L296.9,276.2L299.4,274.5L301.7,272.8L303.4,270.6L305.0,268.9L306.7,266.8L309.5,266.5L309.8,266.5L309.9,265.4L308.1,262.1L306.2,259.2L305.5,256.6L304.3,254.4L302.8,251.7L302.4,249.2L301.4,246.4L300.4,244.0L299.0,240.9L297.5,238.0L295.3,235.9L293.0,234.0L290.4,233.8L287.8,234.6L285.2,232.6L282.7,231.2L283.1,234.3L283.5,237.0L282.7,240.2L281.9,243.1L278.3,243.0L275.2,242.2L271.7,242.2L268.4,243.2L265.4,243.2L262.7,243.4L259.8,243.1L257.1,241.2L254.0,239.3L251.4,240.6L249.1,242.5L246.5,244.3L243.1,245.4L239.9,246.9L237.3,248.8L234.1,250.5L232.7,253.7L230.5,256.0L229.1,259.2L226.2,260.6L223.5,262.5L221.3,264.2L219.2,266.6L217.3,268.8L215.0,270.7L211.8,271.6L209.2,272.9ZM505.2,198.2L505.1,194.7L505.2,190.8L504.8,188.2L504.8,185.9L503.9,183.3L501.9,180.6L499.0,178.3L498.9,178.1L498.5,178.3L496.5,180.8L494.0,183.3L490.9,184.8L487.8,187.0L485.2,185.6L482.7,184.8L480.3,183.3L477.6,184.3L475.5,185.8L472.8,187.0L472.5,189.4L471.8,191.9L471.6,194.5L470.8,197.1L469.6,199.3L469.1,202.0L468.4,205.4L467.0,208.4L466.6,211.9L466.6,214.6L467.6,216.9L467.9,219.4L467.7,222.1L466.8,225.1L466.6,228.1L469.1,228.9L471.4,230.1L474.1,230.6L477.2,230.1L479.9,229.7L482.8,229.3L485.0,227.6L487.1,226.1L489.0,224.4L491.3,222.8L494.1,221.2L496.5,219.4L498.9,217.0L500.2,214.2L502.7,211.9L502.7,208.4L503.1,205.4L503.9,202.0ZM309.5,266.5L306.7,266.8L305.0,268.9L303.4,270.6L301.7,272.8L299.4,274.5L296.9,276.2L294.2,277.2L291.8,278.8L291.0,279.3L291.8,280.7L293.2,283.8L294.7,286.5L295.8,289.7L296.9,292.3L296.8,295.1L297.8,297.7L295.3,300.4L292.8,302.6L290.4,304.4L289.1,307.0L286.8,308.6L286.3,312.3L285.8,315.6L287.6,317.9L289.0,320.2L290.8,322.5L292.8,324.6L294.5,326.8L296.8,328.5L297.5,331.2L297.8,333.5L300.0,330.6L302.7,328.5L306.2,328.2L309.7,327.5L312.5,327.8L315.1,328.6L317.6,328.5L317.6,328.5L317.6,328.5L317.7,328.5L320.6,327.3L323.6,325.5L326.4,323.4L329.6,321.5L331.6,319.7L332.6,317.6L332.9,314.8L334.0,312.5L334.6,309.6L336.2,307.4L338.0,305.8L339.6,303.6L342.6,301.9L345.5,299.7L343.0,299.0L341.0,297.8L338.6,296.7L338.3,293.0L337.6,289.7L339.9,288.1L342.5,286.7L344.1,284.6L345.5,282.0L347.5,279.8L345.7,277.4L344.8,274.5L343.5,271.8L343.3,270.8L340.4,271.3L336.9,271.4L333.6,271.8L331.2,270.6L328.4,270.6L325.6,269.8L322.3,268.8L318.9,267.7L315.7,266.8L312.5,266.8L309.8,266.5ZM375.6,240.4L374.4,240.9L374.8,243.9L375.4,246.9L372.5,248.2L369.4,249.9L367.2,251.1L364.7,252.4L362.4,252.9L361.0,255.9L359.5,258.9L359.3,261.3L359.7,264.0L359.5,266.8L356.8,266.6L354.2,267.6L351.5,267.8L348.8,269.3L346.1,269.7L343.5,270.8L343.3,270.8L343.5,271.8L344.8,274.5L345.7,277.4L347.5,279.8L345.5,282.0L344.1,284.6L342.5,286.7L339.9,288.1L337.6,289.7L338.3,293.0L338.6,296.7L341.0,297.8L343.0,299.0L345.5,299.7L348.1,299.0L350.7,299.5L353.5,298.7L356.1,297.0L358.5,294.7L361.7,294.0L365.4,293.7L368.1,295.1L370.6,297.6L373.4,298.7L376.1,300.0L378.3,302.3L381.3,303.6L384.2,301.9L387.3,300.6L388.6,298.1L390.5,296.0L392.3,293.7L393.7,290.9L394.3,287.7L394.0,284.6L393.3,281.7L396.1,280.2L398.7,279.0L401.2,276.8L402.4,273.9L402.9,270.5L404.2,267.8L403.1,265.4L403.0,262.6L402.2,259.9L403.6,257.8L404.0,255.1L405.2,252.9L406.3,250.4L406.3,247.5L407.2,244.9L406.8,244.3L404.7,245.8L402.0,246.9L399.5,248.0L397.1,247.9L394.4,246.8L392.0,246.7L389.2,245.0L387.0,243.0L383.7,243.2L380.3,243.2L377.1,243.0L375.7,240.6ZM491.0,304.4L488.7,303.1L486.3,301.6L483.6,300.2L481.0,299.4L478.6,298.7L476.0,297.9L473.5,296.7L471.1,295.7L468.9,293.5L467.4,290.5L464.9,288.2L463.0,286.1L462.1,284.2L460.4,285.0L457.5,286.5L454.2,287.4L451.7,288.4L449.2,289.7L446.7,291.2L444.2,293.8L441.8,296.2L439.3,298.6L436.9,301.6L435.5,304.9L432.5,304.5L429.5,303.5L426.8,302.4L424.2,301.5L421.9,300.5L419.3,299.6L416.9,298.6L414.1,300.1L412.0,302.3L409.4,303.6L410.3,306.7L411.2,309.5L411.9,312.3L413.2,315.5L413.4,318.8L414.4,322.3L412.5,324.0L411.1,326.3L409.4,328.5L406.3,329.3L403.5,330.7L400.7,332.2L403.6,332.8L406.4,332.8L409.4,333.5L412.6,333.9L415.9,333.9L419.4,333.5L422.2,331.9L425.6,331.0L428.5,333.0L431.5,334.2L434.3,335.9L437.7,335.2L440.8,335.3L444.2,334.7L446.9,335.1L449.5,335.9L451.7,337.2L454.9,337.0L458.2,337.3L461.6,337.2L464.0,336.5L466.7,336.0L469.1,334.7L471.6,334.2L474.4,333.1L476.4,331.9L479.1,331.0L482.3,331.1L485.4,331.2L487.4,331.5L487.8,329.2L489.2,327.0L489.8,324.3L490.2,320.9L490.5,317.8L491.0,314.4L490.5,310.9L491.3,307.8ZM448.5,422.1L446.9,420.2L444.2,418.0L441.7,415.9L439.5,413.6L436.8,411.8L435.2,409.6L433.1,408.1L430.8,406.4L429.3,404.4L427.6,402.1L425.3,400.9L423.9,398.8L421.8,396.9L421.4,393.7L420.0,390.1L419.4,386.9L419.1,383.5L418.9,380.3L418.1,377.0L414.8,377.6L411.9,378.2L409.0,377.4L406.8,375.7L404.4,374.5L400.6,375.0L397.0,375.7L394.4,375.6L392.0,375.3L389.5,374.5L387.8,372.3L387.0,369.5L383.8,369.9L380.5,369.9L377.1,370.8L374.7,371.1L372.0,371.5L369.6,372.0L367.2,372.2L364.6,373.3L361.6,374.1L359.0,375.8L355.9,377.0L353.5,379.8L350.9,382.0L350.3,385.2L349.6,388.6L348.5,391.9L350.8,394.4L352.3,397.3L354.7,399.4L355.6,401.9L356.3,404.6L357.2,407.0L358.4,409.3L358.3,412.7L357.2,416.1L357.2,419.3L358.6,421.6L359.1,424.1L360.6,426.4L362.1,429.2L362.5,432.7L363.5,435.8L364.6,439.2L364.2,443.1L364.6,446.6L364.1,447.2L365.6,448.5L367.2,450.1L369.6,451.6L372.6,449.9L375.8,449.1L378.2,447.8L381.0,447.4L383.3,446.6L383.7,443.8L384.7,440.6L385.8,437.9L387.4,435.5L388.9,433.6L390.7,431.7L392.9,433.6L395.3,434.5L397.3,436.2L399.5,437.9L400.9,440.3L402.7,442.2L403.9,444.8L405.7,446.6L408.0,448.6L409.5,451.0L411.9,452.9L412.5,449.8L412.7,446.8L413.7,444.1L416.2,442.6L418.0,440.4L420.5,439.0L423.4,439.6L426.0,439.0L428.6,439.6L432.5,439.6L435.8,440.7L438.8,441.6L441.7,442.6L444.2,444.1L447.1,442.7L449.3,440.7L452.3,439.0L454.3,438.5L455.5,438.2L456.1,438.1L456.2,435.4L456.1,432.2L453.6,430.5L451.0,429.3L448.5,428.0L448.3,424.9L448.4,423.0ZM765.3,335.3L763.8,334.7L760.8,334.1L757.8,333.2L755.1,332.2L755.1,329.7L755.8,327.4L756.4,324.8L754.0,324.8L751.6,323.8L748.9,323.5L746.3,321.8L744.0,319.9L741.4,318.5L740.1,316.1L738.6,313.4L736.5,311.1L734.0,309.1L731.6,307.6L729.0,306.1L726.4,305.8L724.0,304.3L721.5,303.6L718.7,302.2L716.4,300.7L714.1,298.6L711.3,298.1L709.4,296.5L706.6,296.1L704.4,294.8L701.8,293.3L699.2,292.4L697.4,294.9L695.4,297.1L694.2,299.9L696.4,302.5L698.0,304.9L700.4,307.3L701.6,310.0L702.4,313.0L702.9,316.0L704.9,318.1L705.7,320.6L707.3,322.8L709.1,324.8L709.4,328.4L710.3,332.2L709.8,335.2L709.9,337.9L709.1,340.9L710.7,343.9L712.0,346.7L712.8,349.6L715.0,351.9L717.2,354.4L719.1,357.1L721.1,359.1L723.8,360.7L726.5,362.1L728.8,363.6L730.5,365.3L732.7,367.3L734.5,369.0L734.9,369.1L735.2,368.2L736.5,365.8L738.0,363.1L740.1,360.9L741.4,358.3L743.8,356.4L745.4,353.7L748.6,352.5L751.4,350.9L753.8,348.6L756.3,347.0L758.8,345.5L761.3,344.7L762.1,341.6L764.0,338.8L765.1,335.9ZM808.1,389.1L807.8,387.7L805.6,384.9L804.8,382.0L802.8,379.5L801.5,376.1L799.8,373.3L797.3,371.8L794.5,371.1L792.3,369.5L790.7,367.1L788.5,364.7L787.3,362.1L790.5,361.2L793.2,359.7L796.0,358.3L799.0,357.2L801.8,355.6L804.8,354.6L806.7,352.6L809.2,350.6L811.0,348.4L809.8,345.7L808.7,343.1L807.2,340.9L807.7,338.3L807.6,336.1L808.5,333.5L805.9,330.9L803.5,328.5L801.4,329.8L799.0,331.6L797.3,333.5L794.8,334.8L792.3,336.2L789.8,337.2L786.3,337.3L783.3,336.1L779.9,335.9L777.3,336.3L774.8,337.2L772.4,337.2L769.4,336.1L766.6,335.8L765.3,335.3L765.1,335.9L764.0,338.8L762.1,341.6L761.3,344.7L758.8,345.5L756.3,347.0L753.8,348.6L751.4,350.9L748.6,352.5L745.4,353.7L743.8,356.4L741.4,358.3L740.1,360.9L738.0,363.1L736.5,365.8L735.2,368.2L734.9,369.1L734.4,370.7L734.0,373.3L732.7,376.2L732.6,379.3L731.5,382.0L729.9,385.1L727.9,387.8L726.5,390.7L727.3,393.5L727.1,396.7L727.8,399.4L726.4,402.0L725.2,405.0L724.0,408.1L723.1,410.7L722.7,413.3L721.5,415.5L723.0,418.0L725.1,420.3L726.5,423.0L729.0,423.8L731.4,423.4L734.0,424.3L737.3,423.0L740.5,422.3L743.9,421.8L747.2,423.5L750.1,425.5L750.8,428.4L751.4,431.7L754.1,430.4L756.6,428.5L758.9,426.7L761.0,424.7L762.6,421.8L763.5,424.1L764.3,426.9L765.1,429.2L765.6,431.6L767.3,434.2L767.7,436.7L768.8,439.2L769.9,440.4L769.9,440.4L772.4,439.2L773.8,436.6L776.1,434.2L777.1,431.7L779.1,429.3L779.9,426.7L781.5,424.3L782.7,422.1L783.6,419.3L786.1,417.5L787.9,415.5L789.8,413.1L791.9,411.2L794.0,408.8L796.0,406.8L794.2,404.5L792.0,402.2L789.7,400.0L787.3,398.1L789.7,395.4L792.3,393.2L794.8,392.1L797.4,390.7L799.8,389.4L803.2,388.9L806.7,389.4ZM789.1,454.2L789.8,455.0L790.1,457.3L791.0,459.9L791.1,462.5L793.6,463.7L796.0,464.8L798.5,466.2L800.6,468.9L801.9,471.7L803.5,474.9L805.3,477.6L807.2,479.5L808.5,482.4L809.1,485.3L810.4,488.1L811.0,491.1L813.6,492.8L815.9,494.8L815.2,497.5L814.7,499.8L818.2,500.3L822.2,499.8L824.8,500.7L827.1,501.9L829.6,502.3L833.0,502.0L836.1,501.3L839.6,501.0L842.1,502.3L844.5,503.4L847.2,503.7L849.5,504.8L851.9,506.3L854.4,507.4L857.0,508.5L859.9,508.9L862.8,508.8L865.7,509.7L866.3,510.1L866.9,509.2L866.6,506.4L865.4,503.8L864.5,501.0L864.0,497.9L862.4,495.4L862.0,492.3L860.9,489.8L860.6,486.8L858.9,484.5L857.0,482.4L857.0,479.9L857.4,478.6L856.9,476.7L857.0,474.0L857.4,471.7L858.9,467.7L859.4,464.2L857.4,461.7L854.9,459.3L856.9,455.8L857.9,452.8L854.9,451.3L851.9,449.8L848.9,448.3L844.9,447.3L843.4,443.8L842.4,439.9L839.0,440.8L836.0,439.9L833.0,437.9L832.1,437.9L829.3,438.8L827.1,440.4L824.8,441.5L821.8,442.0L819.3,442.9L817.2,444.2L814.6,445.4L811.5,446.6L808.4,448.2L804.8,449.1L802.1,450.0L800.0,451.2L797.1,451.9L794.8,452.9L792.4,452.8L789.8,453.6ZM886.6,530.5L889.5,529.7L891.8,528.4L893.6,526.3L895.7,523.9L898.0,522.2L900.2,519.8L901.2,516.9L903.0,514.7L906.0,513.0L909.2,511.0L912.0,511.0L914.2,512.1L916.7,512.2L919.8,512.8L923.2,513.5L926.6,513.5L929.9,514.4L932.9,515.9L935.8,514.5L938.6,512.1L941.6,511.0L943.0,508.5L945.1,507.0L946.5,504.8L946.4,502.0L945.8,499.7L945.3,497.3L944.3,494.0L943.3,490.5L942.8,487.3L942.8,484.1L941.5,480.7L941.6,477.4L939.2,476.9L936.6,476.2L934.1,474.9L931.9,472.4L929.2,470.4L926.6,468.7L924.4,467.6L921.8,466.7L919.2,466.2L918.1,466.9L915.9,467.1L913.6,467.7L909.6,468.7L905.6,466.7L903.7,465.1L901.6,464.2L898.7,461.7L894.7,459.8L891.7,457.8L889.7,454.8L888.7,450.8L887.7,454.8L885.7,457.8L881.7,457.3L879.8,455.8L876.8,457.3L873.8,457.8L869.8,456.8L866.8,457.8L863.8,459.8L861.8,462.7L859.4,464.2L858.9,467.7L857.4,471.7L857.0,474.0L856.9,476.7L857.4,478.6L857.0,479.9L857.0,482.4L858.9,484.5L860.6,486.8L860.9,489.8L862.0,492.3L862.4,495.4L864.0,497.9L864.5,501.0L865.4,503.8L866.6,506.4L866.9,509.2L866.3,510.1L868.0,511.4L869.8,513.0L871.9,514.7L873.8,517.4L875.3,520.3L876.9,523.4L879.3,526.4L880.6,529.6L882.5,530.8L884.4,532.1ZM769.9,440.4L768.8,439.2L767.7,436.7L767.3,434.2L765.6,431.6L765.1,429.2L764.3,426.9L763.5,424.1L762.6,421.8L761.0,424.7L758.9,426.7L756.6,428.5L754.1,430.4L751.4,431.7L750.8,428.4L750.1,425.5L747.2,423.5L743.9,421.8L740.5,422.3L737.3,423.0L734.0,424.3L731.4,423.4L729.0,423.8L726.5,423.0L725.1,420.3L723.0,418.0L721.5,415.5L718.6,416.9L715.3,418.0L712.4,418.3L709.1,418.0L707.3,420.6L706.2,423.9L704.1,426.7L703.0,429.0L702.1,431.4L700.5,433.8L699.2,436.7L696.7,438.3L694.6,440.0L693.0,442.7L691.7,445.4L689.2,444.7L686.8,445.0L684.2,444.2L681.9,445.9L679.3,446.6L680.0,449.7L681.2,452.8L682.4,455.9L684.3,458.3L686.9,460.4L689.2,462.7L691.2,464.6L693.6,466.5L695.9,467.8L696.1,470.3L696.8,473.1L697.7,475.6L698.5,478.0L701.2,478.9L703.1,480.6L705.7,481.7L707.8,483.1L711.3,484.2L714.6,484.7L716.7,486.1L718.6,487.8L720.5,489.8L722.0,491.8L723.0,494.4L724.7,496.6L726.2,498.5L726.7,501.1L728.1,503.4L730.1,505.0L732.0,507.2L734.0,508.5L735.0,505.8L735.5,502.7L736.5,499.8L739.4,498.4L741.7,496.3L744.0,494.5L746.4,493.6L749.3,492.7L752.3,492.6L755.1,492.3L756.2,490.0L757.7,487.3L758.9,484.9L761.9,485.2L765.0,484.9L767.9,483.8L770.8,483.6L773.7,482.4L775.8,479.9L776.9,477.4L778.6,474.9L779.3,472.3L779.1,469.9L779.9,467.4L782.4,466.0L784.7,464.6L787.3,463.7L791.1,462.5L791.0,459.9L790.1,457.3L789.8,455.0L789.1,454.2L788.1,453.1L785.8,451.3L783.0,449.8L780.0,449.1L777.4,448.2L775.0,446.6L772.6,444.3L770.8,441.5ZM309.2,517.3L309.0,517.5L308.0,520.2L306.2,522.2L306.1,525.4L305.2,528.5L305.2,528.6L305.2,528.7L304.9,532.1L306.5,534.7L307.0,538.2L308.7,540.8L307.2,543.2L306.4,546.0L304.9,548.3L302.8,550.1L300.3,552.0L297.5,553.3L298.2,553.7L298.2,553.7L299.8,554.7L301.4,557.0L302.8,559.8L304.9,562.0L306.7,564.0L308.5,566.0L310.4,567.5L312.4,569.4L313.9,572.2L316.1,575.0L317.8,577.1L319.9,579.4L322.2,580.9L324.6,582.9L326.2,585.6L327.3,588.1L328.5,590.7L329.2,593.7L329.8,596.8L333.0,597.4L336.4,598.5L339.8,599.3L341.5,601.8L343.2,604.1L344.7,606.7L346.4,609.0L348.8,610.4L350.3,612.1L352.2,614.2L353.8,616.7L354.6,619.3L355.9,621.7L357.2,624.4L357.7,627.1L359.1,627.2L359.2,625.6L361.6,623.9L363.4,621.7L365.9,619.5L367.5,616.4L369.6,614.2L371.9,611.2L373.3,608.0L376.5,607.6L380.0,607.0L383.3,606.7L383.8,607.2L384.0,607.0L385.8,605.5L385.7,602.8L384.7,600.4L384.5,598.0L382.3,595.7L379.9,593.2L378.3,590.6L377.9,587.8L376.4,585.6L375.8,583.1L374.0,581.2L372.3,578.9L370.7,576.6L369.6,574.4L369.6,571.8L370.2,569.2L370.8,566.9L368.8,564.5L367.1,562.0L366.5,559.4L365.7,556.7L364.6,554.5L364.0,552.0L362.5,549.7L362.1,547.0L360.6,543.7L358.4,540.8L359.9,537.6L360.9,534.6L363.9,532.3L365.9,529.6L364.0,527.5L362.1,525.9L360.0,523.5L357.9,521.0L355.9,518.4L354.6,516.1L354.5,513.3L353.4,511.0L351.2,509.6L348.4,508.8L346.0,508.4L343.5,507.2L342.5,504.9L342.2,502.1L341.0,499.8L338.1,499.4L334.8,498.5L333.3,495.0L331.0,492.3L329.4,489.8L327.3,487.3L324.4,489.6L322.3,492.3L322.9,494.6L323.0,497.1L323.6,499.8L321.3,501.4L318.7,503.1L316.1,504.8L315.3,508.0L313.5,510.5L312.4,513.5L311.9,514.1L310.7,515.5L310.1,516.2Z" fill="#d17362" stroke="#737070" stroke-width="1.35" stroke-linejoin="round"/>
<path d="M173.1,230.0L171.9,230.6L169.4,229.1L166.9,227.6L164.4,226.8L162.0,224.3L159.5,221.9L157.5,220.7L155.7,218.6L152.6,218.7L149.8,219.1L146.9,220.3L144.5,221.9L141.9,223.3L139.5,223.8L137.1,225.6L134.6,224.6L132.1,224.4L132.1,224.9L131.3,227.9L130.4,231.3L129.6,234.3L130.8,237.3L131.3,241.0L132.1,244.3L133.0,246.8L134.0,249.4L135.8,251.7L136.1,254.7L136.9,258.0L138.7,260.7L139.6,264.2L140.9,267.0L141.1,269.9L142.0,272.9L142.8,275.5L144.8,277.4L145.8,280.1L146.7,277.4L147.0,275.0L147.0,278.2L145.9,281.5L145.8,285.0L144.6,287.5L144.3,290.1L143.7,292.8L143.2,296.3L143.3,299.9L145.3,302.3L146.4,305.0L147.8,307.3L148.3,309.8L150.6,312.4L152.8,314.5L154.5,317.3L155.9,319.9L157.0,322.3L159.5,323.5L162.2,322.3L165.1,321.4L167.1,319.1L169.4,317.3L172.1,316.5L174.4,314.5L176.9,313.6L179.7,313.1L182.8,312.3L185.6,312.3L186.9,314.7L188.7,316.6L190.6,318.8L191.8,321.0L195.5,321.0L195.8,318.0L196.7,315.1L196.8,312.3L198.9,310.8L201.1,309.3L203.5,308.0L205.5,306.1L206.4,303.3L206.3,300.5L206.7,297.4L205.5,295.0L205.2,292.3L203.8,290.1L203.0,287.4L203.9,283.9L205.0,280.5L205.7,277.9L206.0,275.3L206.7,272.9L205.5,269.1L205.7,266.1L206.5,263.0L206.4,259.8L205.5,256.7L204.4,254.2L202.8,251.8L201.7,249.2L199.1,248.3L196.7,247.0L194.3,245.5L191.8,243.9L189.3,241.8L186.7,240.2L184.1,238.9L181.8,237.3L179.4,235.5L176.2,233.6L173.6,231.1ZM305.1,177.8L304.9,178.3L302.6,179.1L299.8,178.8L297.5,179.6L294.3,180.5L291.3,180.8L289.0,180.3L286.2,180.5L283.8,179.6L281.1,179.0L278.2,178.4L275.1,178.3L271.9,179.4L268.7,180.4L265.2,180.8L267.1,183.7L268.4,186.5L269.1,189.2L268.9,192.0L270.1,194.3L270.9,197.0L271.4,199.5L272.6,202.8L273.0,205.9L273.9,209.4L274.5,211.9L274.2,214.4L275.1,216.9L277.1,219.4L278.1,222.2L280.1,224.4L281.6,227.6L282.7,231.2L285.2,232.6L287.8,234.6L290.4,233.8L293.0,234.0L295.3,235.9L297.5,238.0L299.1,235.0L301.2,231.8L301.0,228.8L300.4,226.0L300.0,223.1L302.7,221.3L304.9,219.4L308.1,218.0L310.6,216.0L313.6,214.4L312.0,212.1L310.0,209.6L308.7,206.9L308.4,204.4L307.3,202.1L306.2,199.5L306.4,196.2L306.8,192.7L307.4,189.5L307.1,186.2L307.6,183.4L306.6,181.1L306.2,178.3ZM407.1,169.3L405.7,168.4L407.9,165.5L409.4,162.2L410.4,158.8L411.9,155.9L409.2,155.6L405.9,155.6L403.2,154.7L404.2,151.7L405.7,148.5L406.3,145.6L406.9,142.3L404.9,140.6L402.8,139.0L400.7,137.3L398.6,135.7L396.3,134.3L394.5,132.3L391.5,131.2L388.3,129.8L385.2,130.7L382.0,131.1L380.0,129.2L378.1,127.5L375.8,126.1L373.4,125.0L370.8,123.6L368.8,126.0L367.1,128.6L365.5,131.2L363.4,133.6L364.6,137.3L366.9,140.1L369.6,142.3L372.3,144.5L375.8,146.0L377.8,148.0L379.6,149.7L377.0,152.4L374.6,154.7L371.3,155.4L368.1,155.9L364.6,156.7L361.1,157.0L357.2,157.2L354.6,158.3L352.2,159.2L349.7,160.9L347.1,161.6L344.7,162.5L342.1,163.5L339.8,164.7L336.8,165.9L333.9,166.3L331.9,167.8L329.8,169.6L327.5,168.9L327.3,169.6L328.2,171.8L328.6,174.6L329.8,177.1L330.7,179.6L332.3,182.1L334.3,184.5L335.6,187.0L337.3,189.5L339.7,191.7L341.3,194.8L343.5,197.0L344.8,199.9L345.9,202.7L347.2,205.7L349.4,206.8L352.4,207.3L354.7,208.2L357.8,208.5L361.2,207.8L364.6,208.2L365.2,208.3L365.5,206.1L364.6,203.2L366.9,200.7L369.6,198.2L371.8,196.3L373.9,194.1L375.8,192.0L376.9,189.6L378.2,187.2L379.6,184.6L381.5,181.4L383.3,178.3L386.4,177.3L389.5,177.1L392.8,175.9L396.2,175.5L399.5,174.6L402.2,173.2L404.3,171.3L406.9,169.6ZM309.8,266.5L312.5,266.8L315.7,266.8L318.9,267.7L322.3,268.8L325.6,269.8L328.4,270.6L331.2,270.6L333.6,271.8L336.9,271.4L340.4,271.3L343.3,270.8L343.5,270.8L346.1,269.7L348.8,269.3L351.5,267.8L354.2,267.6L356.8,266.6L359.5,266.8L359.7,264.0L359.3,261.3L359.5,258.9L361.0,255.9L362.4,252.9L364.7,252.4L367.2,251.1L369.4,249.9L372.5,248.2L375.4,246.9L374.8,243.9L374.4,240.9L375.6,240.4L374.6,238.0L373.2,235.2L371.7,232.4L370.8,229.3L370.2,226.1L369.6,222.8L369.6,219.4L368.8,216.5L367.5,214.1L365.9,211.9L365.1,209.1L365.2,208.3L364.6,208.2L361.2,207.8L357.8,208.5L354.7,208.2L352.4,207.3L349.4,206.8L347.2,205.7L344.7,207.1L342.1,208.8L339.8,210.7L336.9,212.4L334.0,214.2L331.0,215.6L328.1,214.8L325.1,214.2L322.3,213.2L319.4,213.9L316.5,213.7L313.6,214.4L310.6,216.0L308.1,218.0L304.9,219.4L302.7,221.3L300.0,223.1L300.4,226.0L301.0,228.8L301.2,231.8L299.1,235.0L297.5,238.0L299.0,240.9L300.4,244.0L301.4,246.4L302.4,249.2L302.8,251.7L304.3,254.4L305.5,256.6L306.2,259.2L308.1,262.1L309.9,265.4ZM498.9,178.1L498.1,175.6L497.8,172.6L496.5,169.6L496.3,166.7L496.9,163.6L496.5,160.9L495.2,158.6L494.4,155.9L492.7,153.5L489.4,152.5L486.5,151.0L484.2,149.1L481.5,147.2L478.1,149.0L475.3,151.0L474.1,148.7L472.2,146.5L470.3,144.8L466.8,145.1L462.9,144.8L460.3,146.2L457.9,148.5L458.9,151.4L459.1,154.5L460.4,157.2L459.6,160.1L458.9,163.3L457.9,165.9L456.3,168.3L455.4,171.0L454.2,173.4L450.9,172.6L447.6,173.1L444.2,172.1L440.9,171.6L437.8,171.0L434.3,170.9L432.2,173.0L429.3,174.6L426.8,176.7L424.3,178.3L422.1,176.4L419.3,175.4L416.9,173.4L416.2,173.0L415.6,174.1L416.7,177.3L416.9,180.8L417.0,183.8L417.7,186.4L418.1,189.5L420.2,192.1L421.8,194.5L420.4,196.9L419.4,199.5L422.0,198.6L424.3,198.2L426.8,197.0L429.8,199.0L433.0,200.7L434.8,203.7L436.8,206.9L437.7,209.3L438.5,211.7L439.3,214.4L438.8,217.0L438.1,219.4L436.8,221.9L437.1,224.3L438.0,226.8L440.8,229.1L444.2,230.6L446.9,231.3L449.3,233.2L451.7,234.3L453.4,236.7L455.8,238.2L457.9,240.5L459.4,242.6L461.4,244.2L461.8,245.0L462.9,244.3L463.8,241.1L463.3,237.7L464.1,234.3L465.3,231.2L466.6,228.1L466.8,225.1L467.7,222.1L467.9,219.4L467.6,216.9L466.6,214.6L466.6,211.9L467.0,208.4L468.4,205.4L469.1,202.0L469.6,199.3L470.8,197.1L471.6,194.5L471.8,191.9L472.5,189.4L472.8,187.0L475.5,185.8L477.6,184.3L480.3,183.3L482.7,184.8L485.2,185.6L487.8,187.0L490.9,184.8L494.0,183.3L496.5,180.8L498.5,178.3ZM438.0,226.8L435.8,229.5L433.0,231.8L430.1,233.6L427.8,235.6L425.6,238.0L422.6,237.0L419.4,235.5L416.8,237.3L414.4,239.3L411.8,240.8L409.4,242.8L406.9,244.3L406.8,244.3L407.2,244.9L406.3,247.5L406.3,250.4L405.2,252.9L404.0,255.1L403.6,257.8L402.2,259.9L403.0,262.6L403.1,265.4L404.2,267.8L402.9,270.5L402.4,273.9L401.2,276.8L398.7,279.0L396.1,280.2L393.3,281.7L394.0,284.6L394.3,287.7L397.1,289.5L400.1,290.6L403.0,292.0L404.9,294.7L406.0,298.0L407.4,301.1L409.4,303.6L412.0,302.3L414.1,300.1L416.9,298.6L419.3,299.6L421.9,300.5L424.2,301.5L426.8,302.4L429.5,303.5L432.5,304.5L435.5,304.9L436.9,301.6L439.3,298.6L441.8,296.2L444.2,293.8L446.7,291.2L449.2,289.7L451.7,288.4L454.2,287.4L457.5,286.5L460.4,285.0L462.1,284.2L461.7,283.2L459.9,280.8L462.2,279.2L463.6,277.0L464.1,274.3L465.1,272.2L466.1,269.6L465.8,266.3L465.4,263.1L464.9,259.6L464.2,256.6L463.7,253.8L463.2,250.7L463.6,247.2L462.9,246.7L461.8,245.0L461.4,244.2L459.4,242.6L457.9,240.5L455.8,238.2L453.4,236.7L451.7,234.3L449.3,233.2L446.9,231.3L444.2,230.6L440.8,229.1ZM317.6,328.5L317.6,328.5L315.1,328.6L312.5,327.8L309.7,327.5L306.2,328.2L302.7,328.5L300.0,330.6L297.8,333.5L295.8,337.5L293.1,338.4L290.8,339.6L288.1,340.0L285.8,341.4L283.2,341.5L280.6,342.4L277.9,343.4L275.4,344.3L272.5,345.8L269.9,346.4L267.4,349.4L267.4,349.4L268.9,352.1L269.1,354.6L269.6,356.9L270.1,359.6L268.9,362.3L267.5,364.9L267.5,367.4L266.5,369.9L265.0,372.9L264.5,375.9L264.0,377.2L266.4,378.2L268.6,377.3L271.4,377.7L273.9,377.0L276.8,376.3L279.5,375.2L282.6,374.5L286.4,373.7L290.0,373.3L292.7,374.4L295.7,375.3L298.1,377.0L300.0,379.5L300.0,382.0L302.0,380.3L303.9,378.3L305.3,376.0L307.4,374.5L309.9,373.1L312.2,372.4L315.0,372.2L317.4,370.8L320.2,372.5L322.3,374.5L321.6,372.2L320.7,369.4L319.9,367.0L322.7,364.6L324.9,362.4L327.3,359.6L327.6,356.3L328.5,352.7L329.8,349.6L328.4,347.3L327.5,344.7L326.7,342.4L326.1,339.7L324.7,336.8L323.3,334.2L322.3,331.0L319.8,330.2L317.6,328.5ZM333.9,319.7L335.9,318.9L338.1,317.9L339.9,316.8L342.3,316.1L345.9,318.5L349.5,317.3L350.7,314.3L351.4,312.2L352.5,310.1L352.3,307.8L351.9,305.3L353.0,302.2L353.5,298.7L350.7,299.5L348.1,299.0L345.5,299.7L342.6,301.9L339.6,303.6L338.0,305.8L336.2,307.4L334.6,309.6L334.0,312.5L332.9,314.8L332.6,317.6L331.6,319.7L329.6,321.5L326.4,323.4L323.6,325.5L320.6,327.3L317.7,328.5L317.6,328.5L319.8,330.2L322.3,331.0L323.3,334.2L324.7,336.8L326.1,339.7L326.7,342.4L327.5,344.7L328.4,347.3L329.8,349.6L328.5,352.7L327.6,356.3L327.3,359.6L324.9,362.4L322.7,364.6L319.9,367.0L320.7,369.4L321.6,372.2L322.3,374.5L324.7,376.3L327.3,377.6L329.8,379.0L332.3,379.5L334.9,380.5L337.7,381.9L340.0,383.4L342.2,384.5L345.1,383.5L348.2,383.1L350.9,382.0L353.5,379.8L355.9,377.0L359.0,375.8L361.6,374.1L364.6,373.3L367.2,372.2L369.6,372.0L368.7,369.6L368.4,367.0L368.9,363.9L369.9,361.2L370.8,358.3L371.1,355.0L372.3,352.3L373.7,350.1L374.6,347.6L374.9,346.5L373.4,346.0L370.8,346.2L368.6,346.6L366.2,347.6L363.8,349.0L361.1,350.4L359.0,352.0L356.8,352.2L354.3,352.6L350.7,354.4L348.3,356.8L345.8,355.8L343.5,355.6L341.1,352.6L342.3,348.4L339.9,344.8L339.2,342.6L338.7,340.0L336.3,336.4L335.7,334.1L335.7,331.7L333.9,329.3L335.7,325.7L335.7,322.7ZM350.7,314.3L353.6,313.8L356.7,313.7L359.7,313.0L362.6,311.9L365.6,311.8L368.6,310.7L371.1,310.9L373.4,310.1L376.4,313.1L378.7,314.5L380.6,316.7L382.5,318.7L384.2,320.3L386.7,321.7L388.9,323.3L390.9,325.2L392.5,326.9L394.4,329.1L395.5,331.7L395.5,334.0L393.3,334.8L391.3,336.4L389.9,338.0L387.8,339.4L388.3,343.6L389.5,346.6L386.0,348.4L384.1,349.6L381.8,350.2L380.2,348.6L378.2,347.2L375.9,346.7L374.9,346.5L374.6,347.6L373.7,350.1L372.3,352.3L371.1,355.0L370.8,358.3L369.9,361.2L368.9,363.9L368.4,367.0L368.7,369.6L369.6,372.0L372.0,371.5L374.7,371.1L377.1,370.8L380.5,369.9L383.8,369.9L387.0,369.5L387.8,372.3L389.5,374.5L392.0,375.3L394.4,375.6L397.0,375.7L400.6,375.0L404.4,374.5L406.8,375.7L409.0,377.4L411.9,378.2L414.8,377.6L418.1,377.0L418.8,373.9L419.3,370.2L419.4,367.0L420.9,364.9L422.6,363.0L424.3,360.8L422.2,358.9L420.8,356.8L419.4,354.6L417.0,352.7L414.1,351.7L411.9,349.6L409.5,349.7L406.7,349.1L404.4,348.4L402.9,345.2L401.9,342.2L401.2,338.9L401.5,335.5L400.7,332.2L403.5,330.7L406.3,329.3L409.4,328.5L411.1,326.3L412.5,324.0L414.4,322.3L413.4,318.8L413.2,315.5L411.9,312.3L411.2,309.5L410.3,306.7L409.4,303.6L407.4,301.1L406.0,298.0L404.9,294.7L403.0,292.0L400.1,290.6L397.1,289.5L394.3,287.7L393.7,290.9L392.3,293.7L390.5,296.0L388.6,298.1L387.3,300.6L384.2,301.9L381.3,303.6L378.3,302.3L376.1,300.0L373.4,298.7L370.6,297.6L368.1,295.1L365.4,293.7L361.7,294.0L358.5,294.7L356.1,297.0L353.5,298.7L353.0,302.2L351.9,305.3L352.3,307.8L352.5,310.1L351.4,312.2ZM349.6,442.7L352.9,444.2L356.6,444.7L360.0,445.8L363.5,446.7L364.1,447.2L364.6,446.6L364.2,443.1L364.6,439.2L363.5,435.8L362.5,432.7L362.1,429.2L360.6,426.4L359.1,424.1L358.6,421.6L357.2,419.3L357.2,416.1L358.3,412.7L358.4,409.3L357.2,407.0L356.3,404.6L355.6,401.9L354.7,399.4L352.3,397.3L350.8,394.4L348.5,391.9L349.6,388.6L350.3,385.2L350.9,382.0L348.2,383.1L345.1,383.5L342.2,384.5L340.0,383.4L337.7,381.9L334.9,380.5L332.3,379.5L329.8,379.0L327.3,377.6L324.7,376.3L322.3,374.5L320.2,372.5L317.4,370.8L315.0,372.2L312.2,372.4L309.9,373.1L307.4,374.5L305.3,376.0L303.9,378.3L302.0,380.3L300.0,382.0L300.0,379.5L298.1,377.0L295.7,375.3L292.7,374.4L290.0,373.3L286.4,373.7L282.6,374.5L279.5,375.2L276.8,376.3L273.9,377.0L271.4,377.7L268.6,377.3L266.4,378.2L264.0,377.2L263.5,378.3L263.5,380.8L265.5,383.8L262.2,385.6L259.6,387.8L257.5,388.9L255.6,390.8L252.7,390.6L249.6,390.8L247.6,392.1L245.6,393.8L247.1,397.8L248.6,401.7L247.6,405.7L248.0,407.3L248.6,409.7L250.2,411.9L251.6,413.7L251.9,416.6L252.6,419.7L252.6,422.8L252.2,425.9L252.7,429.2L252.7,431.8L252.6,434.3L252.0,436.7L255.1,435.9L258.6,435.5L261.4,434.2L264.3,435.0L267.4,436.4L270.0,437.7L272.0,438.9L274.0,440.2L277.2,439.4L278.0,438.9L278.2,438.8L280.0,437.7L282.4,435.9L284.9,434.7L287.6,432.5L289.4,429.8L293.4,430.7L293.6,433.1L294.4,435.7L297.3,436.7L300.2,436.6L302.8,437.7L306.3,437.8L309.4,438.0L312.8,438.2L314.4,435.6L316.8,433.7L320.7,432.7L322.8,435.0L325.7,436.7L327.9,438.9L330.2,441.1L332.7,443.2L334.4,441.7L336.7,440.7L338.8,439.6L340.6,437.7L343.1,439.5L345.6,441.2L347.6,441.9ZM919.2,466.2L918.4,463.4L917.9,460.1L917.6,457.0L916.7,454.1L915.8,450.7L915.3,447.6L914.2,444.2L916.2,441.3L917.9,437.9L915.7,434.9L914.2,431.7L913.1,428.0L913.0,424.3L910.0,424.3L907.3,424.6L904.3,424.3L901.7,422.6L899.5,420.8L896.9,419.9L894.3,419.3L890.9,418.1L887.8,417.9L884.4,416.8L882.2,418.5L880.3,420.1L878.4,421.6L879.0,422.4L878.8,426.4L880.7,429.9L882.2,433.9L884.2,437.9L884.5,440.7L885.7,442.8L887.7,446.8L888.7,450.8L889.7,454.8L891.7,457.8L894.7,459.8L898.7,461.7L901.6,464.2L903.7,465.1L905.6,466.7L909.6,468.7L913.6,467.7L915.9,467.1L918.1,466.9ZM227.7,369.4L223.7,367.9L219.8,369.9L216.3,371.4L212.8,370.9L212.8,368.4L212.3,366.4L209.1,366.6L205.8,366.4L205.3,369.9L202.7,369.5L199.9,369.9L198.4,366.9L194.4,367.4L193.9,371.4L194.8,373.6L194.9,375.9L195.9,379.9L195.8,382.6L195.4,384.8L195.7,386.8L195.7,387.1L195.4,389.3L198.9,390.3L202.8,390.3L204.9,390.3L207.3,390.8L210.8,391.8L209.8,395.8L207.8,398.8L209.8,400.7L213.3,402.7L215.3,406.2L218.8,406.7L221.7,404.7L224.0,403.3L225.7,401.7L228.7,398.8L231.2,395.8L231.6,392.8L231.7,391.8L230.3,389.6L228.7,387.8L225.7,384.8L224.2,381.8L226.7,378.9L229.7,376.4L228.7,373.9L228.1,371.8Z" fill="#b74432" stroke="#737070" stroke-width="1.35" stroke-linejoin="round"/>
<path d="M231.6,194.5L229.1,196.8L227.2,199.6L225.4,202.0L223.7,200.5L221.6,199.5L218.9,201.0L216.1,202.3L212.9,203.2L211.4,206.3L209.2,209.4L207.1,211.9L205.5,214.4L202.7,214.1L199.9,213.3L196.8,213.2L194.0,212.1L191.2,211.6L188.6,212.3L185.6,212.4L185.0,214.5L184.3,216.9L182.6,220.0L181.0,222.8L179.4,225.6L176.8,226.7L174.5,229.3L173.1,230.0L173.6,231.1L176.2,233.6L179.4,235.5L181.8,237.3L184.1,238.9L186.7,240.2L189.3,241.8L191.8,243.9L194.3,245.5L196.7,247.0L199.1,248.3L201.7,249.2L202.8,251.8L204.4,254.2L205.5,256.7L206.4,259.8L206.5,263.0L205.7,266.1L205.5,269.1L206.7,272.9L209.2,272.9L211.8,271.6L215.0,270.7L217.3,268.8L219.2,266.6L221.3,264.2L223.5,262.5L226.2,260.6L229.1,259.2L230.5,256.0L232.7,253.7L234.1,250.5L237.3,248.8L239.9,246.9L243.1,245.4L246.5,244.3L249.1,242.5L251.4,240.6L254.0,239.3L254.4,235.4L254.0,231.8L254.0,229.4L253.7,226.9L252.7,224.4L251.9,221.9L250.3,219.1L249.0,216.9L246.4,214.8L244.0,211.9L242.0,209.5L240.9,207.0L239.1,204.5L237.4,202.0L235.1,199.6L233.4,197.2ZM265.2,180.8L262.7,180.8L260.4,181.8L257.7,182.1L257.7,185.1L257.1,187.8L256.5,190.8L253.7,192.2L251.2,193.9L249.0,195.7L246.0,197.4L242.8,198.2L240.8,196.8L239.1,194.5L236.8,192.6L235.3,190.0L233.3,192.0L231.6,194.5L233.4,197.2L235.1,199.6L237.4,202.0L239.1,204.5L240.9,207.0L242.0,209.5L244.0,211.9L246.4,214.8L249.0,216.9L250.3,219.1L251.9,221.9L252.7,224.4L253.7,226.9L254.0,229.4L254.0,231.8L254.4,235.4L254.0,239.3L257.1,241.2L259.8,243.1L262.7,243.4L265.4,243.2L268.4,243.2L271.7,242.2L275.2,242.2L278.3,243.0L281.9,243.1L282.7,240.2L283.5,237.0L283.1,234.3L282.7,231.2L281.6,227.6L280.1,224.4L278.1,222.2L277.1,219.4L275.1,216.9L274.2,214.4L274.5,211.9L273.9,209.4L273.0,205.9L272.6,202.8L271.4,199.5L270.9,197.0L270.1,194.3L268.9,192.0L269.1,189.2L268.4,186.5L267.1,183.7ZM327.5,168.9L327.5,168.8L324.7,168.4L322.3,167.1L319.6,167.2L317.4,167.8L314.9,168.4L312.1,170.7L308.7,172.1L306.6,174.9L305.1,177.8L306.2,178.3L306.6,181.1L307.6,183.4L307.1,186.2L307.4,189.5L306.8,192.7L306.4,196.2L306.2,199.5L307.3,202.1L308.4,204.4L308.7,206.9L310.0,209.6L312.0,212.1L313.6,214.4L316.5,213.7L319.4,213.9L322.3,213.2L325.1,214.2L328.1,214.8L331.0,215.6L334.0,214.2L336.9,212.4L339.8,210.7L342.1,208.8L344.7,207.1L347.2,205.7L345.9,202.7L344.8,199.9L343.5,197.0L341.3,194.8L339.7,191.7L337.3,189.5L335.6,187.0L334.3,184.5L332.3,182.1L330.7,179.6L329.8,177.1L328.6,174.6L328.2,171.8L327.3,169.6ZM416.2,173.0L414.6,172.2L411.9,171.3L409.4,170.9L407.1,169.3L406.9,169.6L404.3,171.3L402.2,173.2L399.5,174.6L396.2,175.5L392.8,175.9L389.5,177.1L386.4,177.3L383.3,178.3L381.5,181.4L379.6,184.6L378.2,187.2L376.9,189.6L375.8,192.0L373.9,194.1L371.8,196.3L369.6,198.2L366.9,200.7L364.6,203.2L365.5,206.1L365.2,208.3L365.1,209.1L365.9,211.9L367.5,214.1L368.8,216.5L369.6,219.4L369.6,222.8L370.2,226.1L370.8,229.3L371.7,232.4L373.2,235.2L374.6,238.0L375.6,240.4L375.7,240.6L377.1,243.0L380.3,243.2L383.7,243.2L387.0,243.0L389.2,245.0L392.0,246.7L394.4,246.8L397.1,247.9L399.5,248.0L402.0,246.9L404.7,245.8L406.8,244.3L406.9,244.3L409.4,242.8L411.8,240.8L414.4,239.3L416.8,237.3L419.4,235.5L422.6,237.0L425.6,238.0L427.8,235.6L430.1,233.6L433.0,231.8L435.8,229.5L438.0,226.8L437.1,224.3L436.8,221.9L438.1,219.4L438.8,217.0L439.3,214.4L438.5,211.7L437.7,209.3L436.8,206.9L434.8,203.7L433.0,200.7L429.8,199.0L426.8,197.0L424.3,198.2L422.0,198.6L419.4,199.5L420.4,196.9L421.8,194.5L420.2,192.1L418.1,189.5L417.7,186.4L417.0,183.8L416.9,180.8L416.7,177.3L415.6,174.1ZM350.7,314.3L349.5,317.3L345.9,318.5L342.3,316.1L339.9,316.8L338.1,317.9L335.9,318.9L333.9,319.7L335.7,322.7L335.7,325.7L333.9,329.3L335.7,331.7L335.7,334.1L336.3,336.4L338.7,340.0L339.2,342.6L339.9,344.8L342.3,348.4L341.1,352.6L343.5,355.6L345.8,355.8L348.3,356.8L350.7,354.4L354.3,352.6L356.8,352.2L359.0,352.0L361.1,350.4L363.8,349.0L366.2,347.6L368.6,346.6L370.8,346.2L373.4,346.0L374.9,346.5L375.9,346.7L378.2,347.2L380.2,348.6L381.8,350.2L384.1,349.6L386.0,348.4L389.5,346.6L388.3,343.6L387.8,339.4L389.9,338.0L391.3,336.4L393.3,334.8L395.5,334.0L395.5,331.7L394.4,329.1L392.5,326.9L390.9,325.2L388.9,323.3L386.7,321.7L384.2,320.3L382.5,318.7L380.6,316.7L378.7,314.5L376.4,313.1L373.4,310.1L371.1,310.9L368.6,310.7L365.6,311.8L362.6,311.9L359.7,313.0L356.7,313.7L353.6,313.8ZM488.2,332.3L487.3,331.8L487.4,331.5L485.4,331.2L482.3,331.1L479.1,331.0L476.4,331.9L474.4,333.1L471.6,334.2L469.1,334.7L466.7,336.0L464.0,336.5L461.6,337.2L458.2,337.3L454.9,337.0L451.7,337.2L449.5,335.9L446.9,335.1L444.2,334.7L440.8,335.3L437.7,335.2L434.3,335.9L431.5,334.2L428.5,333.0L425.6,331.0L422.2,331.9L419.4,333.5L415.9,333.9L412.6,333.9L409.4,333.5L406.4,332.8L403.6,332.8L400.7,332.2L401.5,335.5L401.2,338.9L401.9,342.2L402.9,345.2L404.4,348.4L406.7,349.1L409.5,349.7L411.9,349.6L414.1,351.7L417.0,352.7L419.4,354.6L420.8,356.8L422.2,358.9L424.3,360.8L422.6,363.0L420.9,364.9L419.4,367.0L421.6,370.2L423.1,373.3L425.3,375.4L428.1,377.0L430.7,375.6L433.0,373.3L436.4,372.1L439.3,370.8L442.8,370.2L445.7,370.1L449.2,369.5L451.6,368.4L454.2,367.4L456.7,366.4L459.2,365.8L461.4,364.4L464.0,363.5L466.6,362.1L469.2,361.7L471.6,361.3L474.1,360.8L475.8,358.5L478.1,357.0L481.0,355.4L484.0,354.6L486.0,352.1L487.7,349.8L489.0,347.1L491.2,345.3L493.6,343.3L496.0,341.7L494.8,339.4L493.5,336.7L491.2,335.2L489.8,333.2ZM878.8,426.4L876.1,426.9L873.8,427.9L871.2,428.9L868.8,429.9L866.4,430.9L863.8,432.4L859.9,432.4L857.5,431.4L854.9,429.9L851.4,427.9L849.9,426.2L847.9,424.9L846.5,427.4L844.9,429.4L842.4,431.9L842.9,435.9L842.4,439.9L843.4,443.8L844.9,447.3L848.9,448.3L851.9,449.8L854.9,451.3L857.9,452.8L856.9,455.8L854.9,459.3L857.4,461.7L859.4,464.2L861.8,462.7L863.8,459.8L866.8,457.8L869.8,456.8L873.8,457.8L876.8,457.3L879.8,455.8L881.7,457.3L885.7,457.8L887.7,454.8L888.7,450.8L887.7,446.8L885.7,442.8L884.5,440.7L884.2,437.9L882.2,433.9L880.7,429.9ZM611.4,533.4L611.4,536.9L609.9,539.9L607.9,542.3L609.4,543.8L611.4,546.3L613.9,547.8L616.4,549.8L619.4,552.3L620.3,554.8L623.8,556.3L624.8,557.8L628.3,558.8L629.3,561.2L632.3,561.7L634.8,561.7L635.3,563.7L632.8,565.7L633.3,568.2L635.8,567.2L638.8,567.7L641.7,565.7L644.7,564.2L644.2,561.7L643.7,557.8L643.7,554.3L645.7,552.8L646.7,549.8L647.7,545.8L649.2,542.8L648.2,541.3L646.2,543.3L644.2,545.8L641.7,544.8L640.2,541.8L638.3,539.9L636.8,536.4L635.3,533.4L632.8,531.9L629.8,532.4L628.3,534.9L625.8,536.4L623.3,538.9L620.3,538.4L619.4,534.9L616.9,532.4L613.9,530.9Z" fill="#980d11" stroke="#737070" stroke-width="1.35" stroke-linejoin="round"/>
<path d="M101.0,328.5L103.9,327.6L106.9,327.7L109.7,327.2L112.7,328.1L115.4,329.2L118.4,329.7L121.5,328.7L124.2,327.7L127.1,327.2L130.5,326.7L133.9,326.0L137.1,326.0L140.3,326.0L143.8,326.4L146.7,327.2L149.5,328.5L152.6,328.0L155.7,328.5L157.6,325.9L159.5,323.5L162.2,322.3L165.1,321.4L167.1,319.1L169.4,317.3L172.1,316.5L174.4,314.5L176.9,313.6L179.7,313.1L182.8,312.3L185.6,312.3L186.9,314.7L188.7,316.6L190.6,318.8L191.8,321.0L195.5,321.0L195.8,318.0L196.7,315.1L196.8,312.3L198.9,310.8L201.1,309.3L203.5,308.0L205.5,306.1M205.5,306.1L206.4,303.3L206.3,300.5L206.7,297.4L205.5,295.0L205.2,292.3L203.8,290.1L203.0,287.4L203.9,283.9L205.0,280.5L205.7,277.9L206.0,275.3L206.7,272.9L205.5,269.1L205.7,266.1L206.5,263.0L206.4,259.8L205.5,256.7L204.4,254.2L202.8,251.8L201.7,249.2L199.1,248.3L196.7,247.0L194.3,245.5L191.8,243.9L189.3,241.8L186.7,240.2L184.1,238.9L181.8,237.3L179.4,235.5L176.2,233.6L173.6,231.1L173.1,230.0M202.1,543.9L200.5,542.1L202.3,539.8L204.2,537.2L205.5,534.6L206.9,531.3L209.2,528.4L212.6,526.9L215.4,524.7L215.1,522.3L215.1,519.6L214.2,517.2L214.7,514.5L216.3,512.1L216.7,509.7L219.1,509.1L221.5,508.3L224.1,507.2L226.6,506.3L229.1,505.2L231.6,504.8L233.3,502.5L234.2,499.9L235.3,497.3L235.2,494.8L234.7,492.2L234.1,489.8L234.8,487.3L235.8,484.9L236.6,482.4L238.8,480.6L240.6,478.2L242.8,476.1L244.3,472.9L246.5,469.9L248.7,467.1L250.2,463.7L247.8,460.1L248.7,457.3L249.0,454.6L249.0,454.6L249.2,451.8L249.0,449.1L249.6,445.7L249.3,442.6L250.7,439.5L252.0,436.7M205.5,306.1L208.3,306.1L211.2,305.2L214.2,304.9L216.6,305.6L219.4,306.0L221.6,307.3M221.6,307.3L221.1,310.8L221.2,314.0L220.4,317.3L223.1,318.7L226.2,320.2L229.1,321.0L231.6,322.1L233.9,323.9L236.6,324.8L239.3,326.0L241.5,327.2L243.8,329.3L246.5,331.0L249.0,332.1L251.3,333.7L254.1,335.5L255.6,336.6L256.5,337.2L258.2,339.4L260.1,341.3L262.4,342.5L263.9,344.7L265.3,347.6L267.4,349.4L267.4,349.4L268.9,352.1L269.1,354.6L269.6,356.9L270.1,359.6L268.9,362.3L267.5,364.9L267.5,367.4L266.5,369.9L265.0,372.9L264.5,375.9L264.0,377.2L263.5,378.3L263.5,380.8L265.5,383.8L262.2,385.6L259.6,387.8L257.5,388.9L255.6,390.8L252.7,390.6L249.6,390.8L247.6,392.1L245.6,393.8L247.1,397.8L248.6,401.7L247.6,405.7L248.0,407.3L248.6,409.7L250.2,411.9L251.6,413.7L251.9,416.6L252.6,419.7L252.6,422.8L252.2,425.9L252.7,429.2L252.7,431.8L252.6,434.3L252.0,436.7M221.6,307.3L224.5,306.0L226.5,303.6L229.1,302.4L230.8,299.9L231.6,297.3L233.2,294.5L235.3,292.4L238.5,291.4L242.0,290.0L245.6,288.8L249.0,288.7L251.3,287.3L253.5,285.5L255.4,283.8L258.0,282.7L261.4,282.8L264.5,283.2L267.9,283.7L270.8,283.1L273.3,281.3L275.9,280.7L279.4,281.9L282.8,282.7L286.0,281.5L289.1,280.3L291.0,279.3L291.8,278.8L294.2,277.2L296.9,276.2L299.4,274.5L301.7,272.8L303.4,270.6L305.0,268.9L306.7,266.8L309.5,266.5L309.8,266.5L312.5,266.8L315.7,266.8L318.9,267.7L322.3,268.8L325.6,269.8L328.4,270.6L331.2,270.6L333.6,271.8L336.9,271.4L340.4,271.3L343.3,270.8L343.5,270.8L346.1,269.7L348.8,269.3L351.5,267.8L354.2,267.6L356.8,266.6L359.5,266.8L359.7,264.0L359.3,261.3L359.5,258.9L361.0,255.9L362.4,252.9L364.7,252.4L367.2,251.1L369.4,249.9L372.5,248.2L375.4,246.9L374.8,243.9L374.4,240.9L375.6,240.4M252.0,436.7L255.1,435.9L258.6,435.5L261.4,434.2L264.3,435.0L267.4,436.4L270.0,437.7L272.0,438.9L274.0,440.2L277.2,439.4L278.0,438.9L278.2,438.8L280.0,437.7L282.4,435.9L284.9,434.7L287.6,432.5L289.4,429.8L293.4,430.7L293.6,433.1L294.4,435.7L297.3,436.7L300.2,436.6L302.8,437.7L306.3,437.8L309.4,438.0L312.8,438.2L314.4,435.6L316.8,433.7L320.7,432.7L322.8,435.0L325.7,436.7L327.9,438.9L330.2,441.1L332.7,443.2L334.4,441.7L336.7,440.7L338.8,439.6L340.6,437.7L343.1,439.5L345.6,441.2L347.6,441.9L349.6,442.7L352.9,444.2L356.6,444.7L360.0,445.8L363.5,446.7L364.1,447.2L365.6,448.5L367.2,450.1L369.6,451.6L372.6,449.9L375.8,449.1L378.2,447.8L381.0,447.4L383.3,446.6L383.7,443.8L384.7,440.6L385.8,437.9L387.4,435.5L388.9,433.6L390.7,431.7L392.9,433.6L395.3,434.5L397.3,436.2L399.5,437.9L400.9,440.3L402.7,442.2L403.9,444.8L405.7,446.6L408.0,448.6L409.5,451.0L411.9,452.9M375.6,240.4L375.7,240.6L377.1,243.0L380.3,243.2L383.7,243.2L387.0,243.0L389.2,245.0L392.0,246.7L394.4,246.8L397.1,247.9L399.5,248.0L402.0,246.9L404.7,245.8L406.8,244.3L406.9,244.3L409.4,242.8L411.8,240.8L414.4,239.3L416.8,237.3L419.4,235.5L422.6,237.0L425.6,238.0L427.8,235.6L430.1,233.6L433.0,231.8L435.8,229.5L438.0,226.8L440.8,229.1L444.2,230.6L446.9,231.3L449.3,233.2L451.7,234.3L453.4,236.7L455.8,238.2L457.9,240.5L459.4,242.6L461.4,244.2L461.8,245.0L462.9,246.7L463.6,247.2M375.6,240.4L374.6,238.0L373.2,235.2L371.7,232.4L370.8,229.3L370.2,226.1L369.6,222.8L369.6,219.4L368.8,216.5L367.5,214.1L365.9,211.9L365.1,209.1L365.2,208.3L365.5,206.1L364.6,203.2L366.9,200.7L369.6,198.2L371.8,196.3L373.9,194.1L375.8,192.0L376.9,189.6L378.2,187.2L379.6,184.6L381.5,181.4L383.3,178.3L386.4,177.3L389.5,177.1L392.8,175.9L396.2,175.5L399.5,174.6L402.2,173.2L404.3,171.3L406.9,169.6L407.1,169.3M411.9,452.9L409.3,453.6L406.9,455.0L406.2,458.4L405.8,461.6L405.7,465.0L404.6,468.3L403.6,471.3L403.2,474.9L402.4,478.0L402.0,481.6L401.9,484.9L402.8,488.0L403.5,490.7L404.4,493.6L405.0,496.3L405.1,496.5L405.9,498.5L406.9,501.0L409.4,502.6L411.7,504.5L414.4,506.0L416.9,507.6L419.3,509.2L421.8,511.0L424.2,513.4L426.8,515.1L429.3,517.2L431.9,518.1L434.5,519.3L436.8,520.9L439.9,521.8L443.2,523.0L446.7,523.4L448.9,524.2L450.1,524.6L453.1,525.5L456.7,525.9L457.7,529.0L458.8,531.4L459.2,534.6L460.8,537.1L462.1,540.0L464.1,542.1L466.8,543.1L469.1,544.0L471.5,545.0L474.1,545.8L477.4,546.5L480.6,547.4L483.8,547.7L486.5,548.3L487.6,551.3L489.3,553.9L490.2,557.0L488.2,558.8L485.9,560.4L484.0,562.0L482.0,563.8L480.8,566.2L479.1,568.2L476.8,571.0L475.3,574.4L476.6,577.0L478.1,579.2L479.1,581.9L481.4,584.2L484.0,585.6M411.9,452.9L412.5,449.8L412.7,446.8L413.7,444.1L416.2,442.6L418.0,440.4L420.5,439.0L423.4,439.6L426.0,439.0L428.6,439.6L432.5,439.6L435.8,440.7L438.8,441.6L441.7,442.6L444.2,444.1L447.1,442.7L449.3,440.7L452.3,439.0L454.3,438.5L455.5,438.2L456.1,438.1L456.2,435.4L456.1,432.2L453.6,430.5L451.0,429.3L448.5,428.0L448.3,424.9L448.4,423.0L448.5,422.1L448.5,422.0L451.0,420.2L453.2,418.0L455.3,415.3L457.4,413.4L459.5,411.0L462.5,410.7L465.4,409.7L468.5,409.6L471.4,410.2L474.4,409.4L477.1,408.1L479.8,406.8L483.2,405.9L486.6,404.2L486.5,401.9L488.9,399.9L491.7,398.1L494.4,396.4L496.5,394.4M463.6,247.2L463.6,247.2L466.3,249.4L469.9,250.9L472.5,252.1L474.9,252.9L477.3,254.7L480.3,253.6L483.5,252.2L486.5,252.9L489.2,254.0L492.2,254.7L494.4,256.2L497.1,257.2L499.7,258.4L502.7,259.1L505.9,259.6L508.1,257.0L510.2,255.0L512.1,252.2L514.4,253.6L517.4,254.4L519.6,255.9L522.0,256.8L524.9,256.5L527.1,257.1L527.9,254.9L528.3,252.2L527.6,249.9L526.5,247.3L525.8,244.7L526.0,241.2L526.4,238.2L527.1,234.8L527.9,231.9L527.8,228.6L526.5,225.4L525.8,222.3L526.4,218.8L527.9,215.6L528.3,212.4L527.9,209.5L527.1,206.7L525.8,203.7L526.2,203.1M496.0,341.7L494.8,339.4L493.5,336.7L491.2,335.2L489.8,333.2L488.2,332.3L487.3,331.8L487.4,331.5L487.8,329.2L489.2,327.0L489.8,324.3L490.2,320.9L490.5,317.8L491.0,314.4L490.5,310.9L491.3,307.8L491.0,304.4L488.7,303.1L486.3,301.6L483.6,300.2L481.0,299.4L478.6,298.7L476.0,297.9L473.5,296.7L471.1,295.7L468.9,293.5L467.4,290.5L464.9,288.2L463.0,286.1L462.1,284.2L461.7,283.2L459.9,280.8L462.2,279.2L463.6,277.0L464.1,274.3L465.1,272.2L466.1,269.6L465.8,266.3L465.4,263.1L464.9,259.6L464.2,256.6L463.7,253.8L463.2,250.7L463.6,247.2M484.0,585.6L482.2,588.0L480.3,590.6L479.2,592.2M484.0,585.6L486.8,585.4L489.8,585.9L493.1,585.9L496.3,585.6L499.7,585.9L502.3,585.1L504.9,583.8L507.1,583.3L509.7,582.2L512.6,581.2L515.3,580.6L517.4,578.7L519.6,577.2L521.8,575.8L524.8,575.7L527.0,574.6L529.6,573.5L532.5,572.7L535.4,571.6L538.3,571.0L541.4,572.8L544.0,574.4L547.0,576.0L550.1,574.8L553.5,574.6L556.9,573.5L559.5,571.5L562.8,570.1L565.6,568.5L569.1,568.2L572.0,567.3L575.6,567.3L578.9,565.0L579.3,564.8L579.1,564.3L578.4,562.2L577.1,559.8L575.6,557.3L576.5,554.8L577.8,552.0L579.3,549.9L581.0,547.5L582.6,544.9L584.3,542.4L583.4,539.8L583.5,537.2L583.0,534.9L584.4,532.7L584.6,532.4L586.0,530.0L588.0,527.5L587.2,524.2L585.6,521.5L583.6,519.3L582.2,517.2L583.0,514.0L583.2,510.4L583.5,507.2L585.6,504.9L587.4,502.9L588.3,500.0L589.7,497.3L592.3,495.5L594.7,492.9L597.2,491.1L599.5,489.5L601.3,487.9L603.5,486.4L605.9,484.9L607.3,482.7L607.8,480.1L608.7,477.5L609.6,474.9L609.5,472.2L609.2,469.0L609.6,466.2M496.5,394.4L496.9,391.9L498.1,389.6L500.0,387.4L501.4,384.5L502.2,381.2L501.9,377.9L502.7,374.5L501.0,371.9L499.1,369.3L496.5,367.0L493.8,365.0L491.2,362.9L489.0,360.8L487.5,358.4L485.6,356.5L484.0,354.6L486.0,352.1L487.7,349.8L489.0,347.1L491.2,345.3L493.6,343.3L496.0,341.7M496.0,341.7L498.9,340.4L501.6,339.0L504.7,338.0L508.0,336.8L511.3,336.2L514.6,335.5L518.0,336.2L521.2,336.8L524.6,338.0L527.9,338.1L531.2,336.7L534.5,336.7L537.1,335.2L539.5,333.0L542.5,334.9L545.7,336.7L547.4,338.5L549.5,340.5L552.9,339.1L556.2,339.2L559.4,338.0L562.6,338.9L566.0,339.9L569.4,340.5L569.8,343.1L569.8,343.2L570.7,345.7L571.8,347.9L574.3,349.7L576.9,351.8L579.3,354.2L581.9,355.8L584.4,358.5L586.8,360.4L587.8,360.9L589.5,361.7L591.4,363.2L594.2,364.1L597.9,364.2L601.7,364.1L605.2,364.1L608.4,364.6L611.6,365.3L613.5,363.2L615.0,361.3L616.6,359.1L619.0,357.5L622.0,356.1L624.1,354.2L626.5,353.2L629.5,352.6L631.6,350.7L634.0,349.2L636.9,348.3L639.0,346.7L641.2,348.2L643.9,349.5L646.5,350.4L649.0,352.3L651.6,353.2L653.9,355.4M496.5,394.4L499.0,395.7L501.3,397.8L503.9,399.4L506.7,400.7L508.9,402.6L511.6,404.3L513.9,406.8L516.1,408.0L519.0,408.7L521.1,409.9L523.8,410.6L526.5,412.6L529.0,414.8L531.3,416.8L533.7,419.2L535.4,421.7L537.5,424.3L539.1,426.5L540.6,429.1L542.5,431.4L543.2,432.2L543.5,432.4L544.5,433.4L547.0,434.6L549.3,436.4L552.2,436.1L555.3,435.6L557.2,433.7L558.6,431.1L560.2,428.8L562.3,429.2L564.7,430.6L566.8,432.2L568.7,433.9L571.0,435.4L573.8,436.5L577.1,437.7L579.8,439.2L582.6,440.5L585.1,442.1L587.7,444.1L589.7,446.6L591.7,448.4L593.5,450.1L595.4,452.0L597.2,454.1L599.2,455.9L600.6,457.9L602.1,460.1L604.6,460.0L606.0,462.4L607.7,464.5L609.6,466.2M609.6,466.2L612.6,464.4L615.8,463.7L618.5,463.7L621.3,463.3L624.2,464.1L627.0,465.0L629.5,463.6L632.1,462.0L634.5,460.0L637.3,459.7L640.4,458.7L643.2,458.7L646.1,460.2L649.0,460.7L651.9,462.5L655.3,462.7L657.6,463.7L659.8,465.3L662.0,466.9L664.3,467.2L666.5,468.5M666.5,468.5L664.4,469.5L661.7,470.1L659.5,471.2L659.4,474.5L658.6,478.0L660.6,479.7L662.2,481.7L664.6,483.1L665.2,486.6L665.4,489.8L664.9,493.3L663.7,496.6L664.4,500.1L664.6,503.4L665.0,506.9L665.2,508.7L665.4,510.2L666.5,510.7L667.8,511.2L669.7,512.7L672.0,511.4L674.4,510.1L676.4,508.5L676.5,505.7L677.4,502.9L678.1,500.0L676.5,497.7L675.6,494.9L678.1,493.3L680.7,492.4L682.9,493.7L685.3,495.0L687.5,496.6L688.4,499.2L689.5,501.9L690.0,505.1L691.0,508.3L693.2,510.6L694.2,513.6L695.5,516.4L697.6,518.6L699.4,520.8L700.4,523.5L702.0,525.4L703.6,527.4L705.4,529.6L706.2,532.7L707.8,535.6L709.1,538.3M666.5,468.5L667.4,465.3L668.5,462.4L668.8,459.3L670.5,456.6L672.2,454.2L673.9,451.4L676.4,449.2L675.9,446.2L675.8,445.8L675.5,444.8L674.7,442.4L673.7,440.0L672.7,437.2L671.7,434.7L671.4,432.2L669.9,429.5L668.8,426.8L666.8,424.3L665.8,421.0L664.9,417.8L664.3,414.5L664.3,414.3L664.3,414.1L664.7,411.0L665.5,407.6L666.8,404.4L667.0,400.9L666.5,397.9L666.8,394.4L666.2,391.1L665.7,387.6L665.6,384.5L667.7,383.2L669.9,381.6L671.8,379.5L674.0,376.8L674.8,373.6L676.8,370.8L677.9,367.8L678.1,365.0L679.3,362.1L680.8,359.5L681.8,357.2L683.0,354.6L684.3,351.1L685.9,347.9L687.2,344.9L689.2,342.2M766.8,634.9L766.3,632.6L764.8,629.8L764.4,626.9L762.7,624.6L761.3,621.8L759.5,619.4L757.0,617.3L754.7,615.1L752.0,613.2L748.6,612.7L745.4,611.9L742.0,610.7L739.0,609.7L736.6,608.5L734.3,607.0L732.1,605.7L730.4,603.4L728.5,602.1L726.2,600.2L724.6,598.3L721.5,596.6L718.9,594.6L715.9,593.3L715.1,590.4L714.8,589.8L713.9,587.8L713.4,584.6L710.2,583.7L707.2,582.1L704.8,581.8L702.1,580.9L699.8,580.8L700.5,577.9L700.6,576.9L701.0,574.6L704.0,573.1L706.7,571.0L709.7,569.7L711.2,566.5L712.2,563.4L710.3,561.6L709.2,559.1L707.2,557.2L706.5,554.5L706.7,551.4L706.0,548.5L706.5,545.8L708.0,543.7L708.6,540.8L709.1,538.3M709.1,538.3L712.3,538.0L715.5,538.1L719.1,538.4L722.2,537.6L724.3,536.2L725.4,535.5L727.7,533.0L730.4,532.1L732.5,530.8L734.9,529.2L735.4,526.3L735.3,523.5L735.8,520.7L738.5,519.8L740.8,518.1L743.2,520.3L745.9,522.4L748.5,523.6L750.7,524.4L752.8,526.4L755.3,527.5L756.7,525.2L758.5,523.4L760.3,521.5L763.4,520.8L766.5,520.4L769.7,519.8L772.3,518.9L775.4,519.1L778.1,518.1L778.6,514.9L779.8,512.2L782.1,510.8L784.9,509.7L787.1,510.8L789.5,512.0L791.7,513.1L795.1,512.0L798.5,511.4L799.2,508.7L800.8,506.5L801.9,503.7L803.9,502.3L806.5,500.8L808.6,499.5L811.7,499.7L814.7,499.8M765.3,335.3L765.1,335.9L764.0,338.8L762.1,341.6L761.3,344.7L758.8,345.5L756.3,347.0L753.8,348.6L751.4,350.9L748.6,352.5L745.4,353.7L743.8,356.4L741.4,358.3L740.1,360.9L738.0,363.1L736.5,365.8L735.2,368.2L734.9,369.1L734.4,370.7L734.0,373.3L732.7,376.2L732.6,379.3L731.5,382.0L729.9,385.1L727.9,387.8L726.5,390.7L727.3,393.5L727.1,396.7L727.8,399.4L726.4,402.0L725.2,405.0L724.0,408.1L723.1,410.7L722.7,413.3L721.5,415.5L723.0,418.0L725.1,420.3L726.5,423.0L729.0,423.8L731.4,423.4L734.0,424.3L737.3,423.0L740.5,422.3L743.9,421.8L747.2,423.5L750.1,425.5L750.8,428.4L751.4,431.7L754.1,430.4L756.6,428.5L758.9,426.7L761.0,424.7L762.6,421.8L763.5,424.1L764.3,426.9L765.1,429.2L765.6,431.6L767.3,434.2L767.7,436.7L768.8,439.2L769.9,440.4L770.8,441.5L772.6,444.3L775.0,446.6L777.4,448.2L780.0,449.1L783.0,449.8L785.8,451.3L788.1,453.1L789.1,454.2L789.8,455.0L790.1,457.3L791.0,459.9L791.1,462.5L793.6,463.7L796.0,464.8L798.5,466.2L800.6,468.9L801.9,471.7L803.5,474.9L805.3,477.6L807.2,479.5L808.5,482.4L809.1,485.3L810.4,488.1L811.0,491.1L813.6,492.8L815.9,494.8L815.2,497.5L814.7,499.8M814.7,499.8L818.2,500.3L822.2,499.8L824.8,500.7L827.1,501.9L829.6,502.3L833.0,502.0L836.1,501.3L839.6,501.0L842.1,502.3L844.5,503.4L847.2,503.7L849.5,504.8L851.9,506.3L854.4,507.4L857.0,508.5L859.9,508.9L862.8,508.8L865.7,509.7L866.3,510.1L868.0,511.4L869.8,513.0L871.9,514.7L873.8,517.4L875.3,520.3L876.9,523.4L879.3,526.4L880.6,529.6L882.5,530.8L884.4,532.1M314.9,168.4L312.1,170.7L308.7,172.1L306.6,174.9L305.1,177.8L304.9,178.3L302.6,179.1L299.8,178.8L297.5,179.6L294.3,180.5L291.3,180.8L289.0,180.3L286.2,180.5L283.8,179.6L281.1,179.0L278.2,178.4L275.1,178.3L271.9,179.4L268.7,180.4L265.2,180.8L262.7,180.8L260.4,181.8L257.7,182.1L257.7,185.1L257.1,187.8L256.5,190.8L253.7,192.2L251.2,193.9L249.0,195.7L246.0,197.4L242.8,198.2L240.8,196.8L239.1,194.5L236.8,192.6L235.3,190.0L233.3,192.0L231.6,194.5L229.1,196.8L227.2,199.6L225.4,202.0L223.7,200.5L221.6,199.5L218.9,201.0L216.1,202.3L212.9,203.2L211.4,206.3L209.2,209.4L207.1,211.9L205.5,214.4L202.7,214.1L199.9,213.3L196.8,213.2L194.0,212.1L191.2,211.6L188.6,212.3L185.6,212.4L185.0,214.5L184.3,216.9L182.6,220.0L181.0,222.8L179.4,225.6L176.8,226.7L174.5,229.3L173.1,230.0L171.9,230.6L169.4,229.1L166.9,227.6L164.4,226.8L162.0,224.3L159.5,221.9L157.5,220.7L155.7,218.6L152.6,218.7L149.8,219.1L146.9,220.3L144.5,221.9L141.9,223.3L139.5,223.8L137.1,225.6L134.6,224.6L132.1,224.4L132.1,224.4L129.5,223.4L126.9,223.3L124.6,223.1L121.5,223.2L118.9,223.9L115.9,223.7L113.4,224.4L110.8,225.2L108.5,226.8L106.7,229.3L105.6,231.9L103.5,234.3L100.9,236.3L97.6,237.9L94.8,239.3L92.9,241.8L91.0,244.3L90.4,245.1L89.3,246.7L86.8,248.3L84.8,250.5L83.4,253.3L83.2,256.4L82.3,259.2L81.2,261.6L80.3,264.1L79.9,266.6L76.1,264.2L75.2,260.8L75.5,257.7L74.9,254.2L73.2,251.5L71.1,249.2L69.1,247.1L67.4,244.3L68.0,241.3L68.7,238.0L67.0,236.4L64.9,235.5L62.4,231.8L60.1,232.1L57.3,232.3L55.0,233.1L55.1,236.8L56.2,240.5L53.4,242.2L51.2,244.3L52.5,246.7L53.0,249.5L54.4,251.9L55.5,254.5L56.4,257.1L56.7,259.3L57.2,262.1L57.6,264.6L59.0,266.7L60.0,269.1L60.8,272.0L61.2,275.0L62.3,277.4L63.6,280.2L64.9,282.5L67.1,284.6L69.6,285.9L71.3,288.7L73.6,291.2L76.1,293.1L78.1,295.4L80.5,297.2L82.3,299.9L84.0,302.2L85.8,303.9L88.2,305.7L90.3,307.5L91.7,310.3L93.5,312.3L94.0,314.9L94.1,317.4L94.8,319.8L96.1,322.3L98.0,323.9L99.2,326.6L101.0,328.5L99.4,331.4L97.2,333.7L94.5,335.1L92.3,337.2L90.9,340.2L88.6,342.9L87.3,345.9L85.8,348.0L83.8,349.7L82.3,352.1L79.0,353.9L76.1,355.8L77.2,358.1L77.8,360.7L78.6,363.3L80.8,365.8L83.4,367.8L85.2,370.5L87.3,373.3L88.5,376.1L88.7,379.3L89.8,382.0L90.6,385.1L91.0,387.9L91.0,390.7L92.6,393.7L94.5,396.5L96.0,399.4L97.0,402.5L97.2,406.0L98.5,409.3L98.5,412.6L99.6,415.9L99.8,419.3L100.6,422.2L101.8,424.8L103.6,427.0L106.0,429.2L106.6,431.8L107.6,434.6L109.0,437.1L110.9,439.2L111.7,442.4L112.0,445.9L113.4,449.1L116.2,450.0L119.1,452.2L122.1,452.9L125.3,453.6L128.0,454.9L131.6,455.4L134.6,456.6L138.1,457.9L141.2,459.3L143.3,461.6L145.8,463.7L146.1,464.6L146.6,466.1L147.2,468.9L148.9,471.0L149.5,473.7L151.5,475.9L152.7,478.6L153.5,481.2L154.5,483.6L155.8,485.8L157.2,488.3L159.0,490.3L160.7,492.3L161.8,495.7L162.0,499.2L163.2,502.3L166.2,503.4L168.9,504.6L171.9,506.0L174.1,507.7L175.9,510.6L178.1,512.2L179.4,514.7L181.4,516.1L182.3,518.9L184.3,520.9L185.8,523.5L186.6,526.6L188.1,529.6L187.0,532.6L186.8,535.8L188.9,537.7L191.0,539.8L193.0,542.1L195.3,545.0L198.0,547.0L200.5,545.3L202.1,543.9L202.5,543.5L205.1,544.7L208.4,545.6L211.2,546.0L212.8,548.6L215.1,551.2L217.4,553.5L218.4,556.0L219.2,558.4L220.3,560.7L221.1,563.4L223.9,565.0L226.9,566.5L229.9,568.4L231.2,571.2L232.0,574.1L233.6,577.1L234.8,580.0L235.5,582.9L236.1,585.8L238.3,587.0L240.4,589.2L243.0,590.2L244.8,592.0L247.7,593.8L249.5,596.4L252.2,598.3L254.0,600.3L255.4,602.6L257.2,604.8L258.5,607.0L260.3,608.8L262.0,611.0L263.7,613.4L265.9,615.7L263.5,617.7L261.4,619.7L259.7,621.9L262.4,623.8L264.9,625.8L267.2,628.1L269.2,630.1L272.2,631.1L274.6,633.1L277.2,635.0L280.5,636.2L283.8,637.4L287.1,638.1L289.9,638.6L292.2,639.7L294.6,641.3L297.0,643.0L299.4,644.0L302.0,644.3L304.9,642.5L308.0,642.3L310.7,640.5L313.9,639.1L316.9,636.8L318.7,634.3L320.6,632.1L321.9,629.4L323.2,631.5L325.5,633.2L326.9,635.6L329.9,636.3L332.8,637.2L335.6,638.1L338.5,638.2L341.5,637.3L344.3,636.8L346.2,639.4L347.2,642.8L349.3,645.5L352.6,645.1L355.5,644.3L356.7,641.2L357.0,637.6L358.0,634.3L358.3,631.3L359.1,628.6L359.1,627.2L359.2,625.6L361.6,623.9L363.4,621.7L365.9,619.5L367.5,616.4L369.6,614.2L371.9,611.2L373.3,608.0L376.5,607.6L380.0,607.0L383.3,606.7L383.8,607.2L385.2,608.9L387.5,610.3L389.5,611.7L391.9,612.2L394.5,613.0L395.1,610.3L395.9,607.0L397.0,604.3L397.5,600.8L398.4,597.9L399.0,594.7L399.5,591.8L400.2,588.9L400.6,585.7L400.1,582.6L400.7,579.4L401.2,575.9L402.2,572.7L403.2,569.4L405.5,567.4L407.2,564.5L409.4,562.0L412.0,562.4L414.5,563.5L416.9,564.5L419.2,565.7L421.6,566.4L424.3,566.9L425.7,569.2L426.4,571.9L428.1,574.4L430.4,576.7L433.0,578.1L435.6,577.2L438.2,576.7L440.5,575.6L442.7,574.2L445.1,572.2L447.5,571.0L450.3,572.4L452.7,574.2L454.9,576.0L457.4,577.8L460.2,578.7L462.6,580.1L464.9,582.2L467.8,584.0L469.7,586.2L472.3,588.4L474.9,590.2L478.1,591.5L479.2,592.2L481.0,593.4L483.2,594.5L485.8,596.2L487.6,598.1L489.8,599.6L492.1,601.2L494.2,602.4L496.6,604.2L498.5,605.8L501.6,606.7L504.2,607.9L507.2,608.3L510.6,607.9L514.0,606.6L517.1,605.8L519.7,608.0L522.2,609.6L524.6,612.0L526.5,614.0L527.9,616.1L530.1,617.7L532.0,619.5L533.8,621.4L535.7,623.3L537.8,625.1L539.5,627.0L541.8,629.3L544.0,631.8L547.1,632.9L549.5,634.4L553.1,635.0L556.0,636.5L559.4,636.9L562.6,637.5L566.1,639.0L569.4,639.4L572.8,640.2L576.0,641.4L579.3,641.9L582.8,642.0L585.8,642.8L589.3,643.1L591.7,641.1L594.2,639.5L596.7,638.2L598.0,635.5L599.7,632.9L601.7,630.7L605.6,630.7L609.2,630.7L611.6,631.0L614.2,632.7L616.6,633.2L619.1,634.0L621.4,636.0L624.1,636.9L625.8,638.6L627.6,641.0L629.5,642.6L631.5,644.4L633.7,646.8L636.5,648.3L639.0,650.6L641.3,651.9L644.1,652.4L646.5,653.1L649.3,654.4L652.5,655.6L654.8,656.8L657.5,658.0L658.6,661.0L661.0,663.8L662.4,666.7L662.7,669.8L663.6,672.2L663.7,675.4L665.5,673.4L667.2,671.4L668.7,669.2L669.9,666.8L670.9,663.9L672.4,661.5L673.6,659.2L676.0,657.3L678.0,654.8L679.5,651.8L681.1,649.3L683.2,647.3L685.7,645.3L687.3,643.0L689.3,640.9L691.8,639.3L694.1,636.8L696.0,634.3L699.0,632.5L701.9,631.1L704.4,629.3L706.0,626.9L709.1,628.0L711.7,629.6L714.7,630.6L717.1,632.7L719.5,634.2L722.1,635.6L725.0,637.1L728.3,638.5L730.8,640.5L733.7,639.5L736.5,637.7L739.6,636.8L742.1,638.0L744.2,639.5L746.0,641.9L748.3,643.0L751.0,642.5L753.0,640.9L755.6,640.3L758.2,639.3L761.6,637.4L765.0,636.6L766.5,635.2L766.9,635.6L766.8,634.9L767.2,634.5L769.9,632.9L772.5,631.9L774.7,631.2L777.4,629.9L779.9,629.1L782.4,628.6L785.0,627.5L787.4,626.0L789.8,625.4L792.6,623.9L795.3,622.6L798.2,621.8L801.0,621.7L802.6,619.0L804.0,616.7L806.0,614.2L806.7,611.3L808.0,608.4L808.1,607.7L808.5,605.5L811.4,604.3L814.5,603.6L817.0,604.4L819.7,604.3L823.2,603.7L826.0,602.3L829.6,601.8L831.7,599.6L834.1,597.1L835.8,594.3L836.5,591.2L837.0,588.7L837.1,585.6L837.5,584.8L838.8,582.2L840.8,579.4L841.8,576.1L842.4,572.6L843.3,569.4L843.8,566.1L844.6,562.8L845.8,559.5L847.2,556.6L849.2,554.5L850.8,552.0L853.8,551.4L856.5,550.5L859.0,549.6L862.0,549.5L864.9,548.8L867.6,547.5L871.1,546.1L874.4,545.8L876.6,543.8L879.6,543.0L881.9,540.8L883.0,537.9L883.8,535.2L884.4,532.1L886.6,530.5L889.5,529.7L891.8,528.4L893.6,526.3L895.7,523.9L898.0,522.2L900.2,519.8L901.2,516.9L903.0,514.7L906.0,513.0L909.2,511.0L912.0,511.0L914.2,512.1L916.7,512.2L919.8,512.8L923.2,513.5L926.6,513.5L929.9,514.4L932.9,515.9L935.8,514.5L938.6,512.1L941.6,511.0L943.0,508.5L945.1,507.0L946.5,504.8L946.4,502.0L945.8,499.7L945.3,497.3L944.3,494.0L943.3,490.5L942.8,487.3L942.8,484.1L941.5,480.7L941.6,477.4L939.2,476.9L936.6,476.2L934.1,474.9L931.9,472.4L929.2,470.4L926.6,468.7L924.4,467.6L921.8,466.7L919.2,466.2L918.4,463.4L917.9,460.1L917.6,457.0L916.7,454.1L915.8,450.7L915.3,447.6L914.2,444.2L916.2,441.3L917.9,437.9L915.7,434.9L914.2,431.7L913.1,428.0L913.0,424.3L910.0,424.3L907.3,424.6L904.3,424.3L901.7,422.6L899.5,420.8L896.9,419.9L894.3,419.3L890.9,418.1L887.8,417.9L884.4,416.8L882.2,418.5L880.3,420.1L878.4,421.6L878.1,421.8L877.3,419.0L875.8,417.1L875.6,414.1L874.4,411.8L872.1,410.4L870.0,408.9L868.2,406.8L865.8,405.4L863.0,404.3L860.7,403.1L858.2,401.7L855.8,400.7L853.3,399.4L852.4,396.0L850.8,393.2L848.7,391.3L846.9,388.6L844.6,386.9L843.4,389.0L842.1,390.7L843.6,393.2L845.8,395.6L843.3,395.9L840.8,397.2L838.3,398.1L835.5,398.7L832.7,399.4L829.6,399.4L826.8,401.1L823.5,402.4L820.9,404.4L818.6,402.8L817.1,401.0L815.6,398.8L813.5,396.9L811.6,394.7L809.8,393.0L808.5,390.7L808.1,389.1L807.8,387.7L805.6,384.9L804.8,382.0L802.8,379.5L801.5,376.1L799.8,373.3L797.3,371.8L794.5,371.1L792.3,369.5L790.7,367.1L788.5,364.7L787.3,362.1L790.5,361.2L793.2,359.7L796.0,358.3L799.0,357.2L801.8,355.6L804.8,354.6L806.7,352.6L809.2,350.6L811.0,348.4L809.8,345.7L808.7,343.1L807.2,340.9L807.7,338.3L807.6,336.1L808.5,333.5L805.9,330.9L803.5,328.5L801.4,329.8L799.0,331.6L797.3,333.5L794.8,334.8L792.3,336.2L789.8,337.2L786.3,337.3L783.3,336.1L779.9,335.9L777.3,336.3L774.8,337.2L772.4,337.2L769.4,336.1L766.6,335.8L765.3,335.3L763.8,334.7L760.8,334.1L757.8,333.2L755.1,332.2L755.1,329.7L755.8,327.4L756.4,324.8L754.0,324.8L751.6,323.8L748.9,323.5L746.3,321.8L744.0,319.9L741.4,318.5L740.1,316.1L738.6,313.4L736.5,311.1L734.0,309.1L731.6,307.6L729.0,306.1L726.4,305.8L724.0,304.3L721.5,303.6L718.7,302.2L716.4,300.7L714.1,298.6L711.3,298.1L709.4,296.5L706.6,296.1L704.4,294.8L701.8,293.3L699.2,292.4L697.4,294.9L695.4,297.1L694.2,299.9L696.4,302.5L698.0,304.9L700.4,307.3L701.6,310.0L702.4,313.0L702.9,316.0L704.9,318.1L705.7,320.6L707.3,322.8L709.1,324.8L709.4,328.4L710.3,332.2L709.8,335.2L709.9,337.9L709.1,340.9L706.8,339.6L704.1,339.8L701.6,338.4L698.2,339.3L694.8,339.2L691.7,339.7L689.2,342.2L685.5,343.4L683.3,344.9L681.1,346.6L678.8,347.9L676.9,350.1L674.3,351.8L672.6,354.2L670.5,356.9L668.6,359.4L666.4,361.6L663.8,361.2L661.4,361.6L658.7,359.5L656.3,357.7L653.9,355.4L652.3,353.4L650.6,351.2L649.0,349.2L648.3,346.1L647.9,342.4L647.7,339.2L646.9,336.0L645.0,333.4L644.0,330.5L642.1,327.5L640.7,324.7L639.0,321.8L637.1,319.6L635.6,316.7L634.0,314.4L631.9,312.1L629.9,309.5L627.8,306.9L627.0,304.3L625.7,301.7L624.1,299.4L620.6,299.1L617.5,299.6L614.1,299.4L612.8,296.5L611.6,293.2L609.4,291.9L607.6,290.0L605.4,288.2L606.4,285.9L606.7,283.3L608.9,281.3L611.6,279.5L614.5,277.3L617.9,275.8L621.1,274.4L624.1,272.1L626.4,271.1L629.0,269.9L631.5,269.6L632.5,267.1L632.9,264.7L634.0,262.1L635.8,260.3L638.1,258.7L640.2,257.1L638.5,253.8L636.5,250.9L635.1,248.0L633.5,245.7L631.5,243.5L629.7,240.9L627.6,239.1L625.3,237.2L621.6,236.6L617.9,236.0L614.5,236.8L611.6,238.5L608.3,237.8L605.2,237.4L601.7,237.2L599.3,238.1L596.9,237.8L594.2,238.5L592.3,240.4L590.8,242.5L589.3,244.7L586.0,244.5L585.5,244.5L583.0,244.7L583.4,241.8L585.1,239.2L585.5,236.0L584.9,232.9L584.3,230.2L583.0,227.3L580.2,227.0L577.7,227.7L574.7,228.0L571.8,228.5L568.7,227.5L565.6,226.0L565.0,222.8L563.8,219.7L563.1,216.1L560.0,214.7L556.9,213.6L554.6,214.0L552.0,214.8L549.5,214.9L546.6,213.5L544.7,211.3L542.0,209.9L539.4,208.5L537.0,206.2L534.5,204.9L531.6,204.1L528.9,203.7L526.3,203.2L526.2,203.1L524.0,201.7L522.2,199.7L520.1,198.2L517.7,196.5L515.2,195.3L512.6,194.5L510.1,195.8L507.4,196.8L505.2,198.2L505.1,194.7L505.2,190.8L504.8,188.2L504.8,185.9L503.9,183.3L501.9,180.6L499.0,178.3L498.9,178.1L498.1,175.6L497.8,172.6L496.5,169.6L496.3,166.7L496.9,163.6L496.5,160.9L495.2,158.6L494.4,155.9L492.7,153.5L489.4,152.5L486.5,151.0L484.2,149.1L481.5,147.2L478.1,149.0L475.3,151.0L474.1,148.7L472.2,146.5L470.3,144.8L466.8,145.1L462.9,144.8L460.3,146.2L457.9,148.5L458.9,151.4L459.1,154.5L460.4,157.2L459.6,160.1L458.9,163.3L457.9,165.9L456.3,168.3L455.4,171.0L454.2,173.4L450.9,172.6L447.6,173.1L444.2,172.1L440.9,171.6L437.8,171.0L434.3,170.9L432.2,173.0L429.3,174.6L426.8,176.7L424.3,178.3L422.1,176.4L419.3,175.4L416.9,173.4L416.2,173.0L414.6,172.2L411.9,171.3L409.4,170.9L407.1,169.3L405.7,168.4L407.9,165.5L409.4,162.2L410.4,158.8L411.9,155.9L409.2,155.6L405.9,155.6L403.2,154.7L404.2,151.7L405.7,148.5L406.3,145.6L406.9,142.3L404.9,140.6L402.8,139.0L400.7,137.3L398.6,135.7L396.3,134.3L394.5,132.3L391.5,131.2L388.3,129.8L385.2,130.7L382.0,131.1L380.0,129.2L378.1,127.5L375.8,126.1L373.4,125.0L370.8,123.6L368.8,126.0L367.1,128.6L365.5,131.2L363.4,133.6L364.6,137.3L366.9,140.1L369.6,142.3L372.3,144.5L375.8,146.0L377.8,148.0L379.6,149.7L377.0,152.4L374.6,154.7L371.3,155.4L368.1,155.9L364.6,156.7L361.1,157.0L357.2,157.2L354.6,158.3L352.2,159.2L349.7,160.9L347.1,161.6L344.7,162.5L342.1,163.5L339.8,164.7L336.8,165.9L333.9,166.3L331.9,167.8L329.8,169.6L327.5,168.9L327.5,168.8L324.7,168.4L322.3,167.1L319.6,167.2L317.4,167.8ZM333.9,319.7L335.7,322.7L335.7,325.7L333.9,329.3L335.7,331.7L335.7,334.1L336.3,336.4L338.7,340.0L339.2,342.6L339.9,344.8L342.3,348.4L341.1,352.6L343.5,355.6L345.8,355.8L348.3,356.8L350.7,354.4L354.3,352.6L356.8,352.2L359.0,352.0L361.1,350.4L363.8,349.0L366.2,347.6L368.6,346.6L370.8,346.2L373.4,346.0L374.9,346.5L375.9,346.7L378.2,347.2L380.2,348.6L381.8,350.2L384.1,349.6L386.0,348.4L389.5,346.6L388.3,343.6L387.8,339.4L389.9,338.0L391.3,336.4L393.3,334.8L395.5,334.0L395.5,331.7L394.4,329.1L392.5,326.9L390.9,325.2L388.9,323.3L386.7,321.7L384.2,320.3L382.5,318.7L380.6,316.7L378.7,314.5L376.4,313.1L373.4,310.1L371.1,310.9L368.6,310.7L365.6,311.8L362.6,311.9L359.7,313.0L356.7,313.7L353.6,313.8L350.7,314.3L349.5,317.3L345.9,318.5L342.3,316.1L339.9,316.8L338.1,317.9L335.9,318.9Z" fill="none" stroke="#000" stroke-width="2.9" stroke-linejoin="round" stroke-linecap="round"/>
<path d="M825.0,173.0L826.7,175.1L830.2,178.0L831.5,179.7L831.0,183.1L829.3,186.5L835.3,190.7L839.7,192.7L842.2,195.0L845.9,199.8L847.5,200.8L849.6,200.5L851.3,198.2L852.0,198.4L855.0,200.5L857.2,201.2L860.8,203.4L865.8,208.9L866.6,208.8L868.3,211.0L870.5,210.1L872.4,210.0L874.4,210.5L876.9,208.8L879.9,208.4L882.9,209.7L884.1,209.8L888.0,211.7L888.8,208.6L891.4,205.2L889.7,199.4L888.1,196.7L887.2,193.3L888.2,188.7L887.7,183.1L890.5,180.5L892.4,175.5L895.8,168.7L892.2,170.7L887.9,175.3L886.2,175.3L882.8,172.5L878.5,170.3L871.6,173.9L869.0,176.6L862.1,175.9L855.3,170.7L854.5,168.2L851.0,167.3L847.6,168.2L844.2,165.6L842.4,166.9L840.2,167.3L835.6,166.5L831.1,167.6L826.7,170.4ZM796.7,217.3L798.4,222.8L806.1,228.3L810.9,230.3L815.6,231.3L816.5,234.2L818.2,236.8L821.6,238.1L825.9,238.9L827.2,241.9L824.3,244.2L822.0,247.8L823.3,250.4L825.0,251.6L830.4,251.7L835.8,249.9L838.1,248.3L842.7,246.8L843.8,246.6L846.8,248.3L850.2,247.5L853.2,245.8L856.6,245.4L857.9,244.5L856.6,242.0L859.6,236.9L859.2,234.3L860.9,231.8L860.6,230.7L858.9,228.3L859.3,224.9L860.7,223.4L861.5,221.5L867.1,217.3L868.3,213.9L868.3,211.0L866.6,208.8L865.8,208.9L860.8,203.4L859.0,202.2L855.0,200.5L851.3,198.2L849.6,200.5L847.5,200.8L845.2,199.1L842.2,195.0L839.7,192.7L835.3,190.7L829.3,186.5L825.9,189.1L825.9,189.8L824.7,190.4L820.7,191.9L818.6,191.7L816.6,192.2L812.8,195.9L812.8,197.9L815.4,199.4L815.4,201.4L814.1,201.7L811.3,203.4L807.2,201.9L803.1,201.7L800.8,203.4L800.1,206.4L798.4,207.1ZM899.5,250.0L904.2,251.3L905.0,254.2L908.0,255.9L910.6,258.5L913.0,259.8L917.5,261.0L918.4,261.7L920.1,263.1L921.8,265.7L922.6,268.4L932.4,264.2L934.4,263.9L936.1,261.3L937.0,258.4L939.0,257.7L940.8,258.0L944.2,257.1L946.4,254.6L946.8,251.6L948.1,249.5L950.3,241.7L951.6,240.2L959.7,238.1L961.5,237.1L962.3,236.4L963.2,233.4L961.8,232.5L958.8,227.5L956.7,225.8L953.7,225.4L947.7,222.8L944.2,223.2L941.7,222.4L937.0,222.3L934.7,223.7L933.5,226.3L931.2,226.9L928.8,225.8L927.1,226.6L926.5,228.6L920.3,229.8L918.6,231.8L915.4,230.1L913.6,228.6L911.9,229.5L911.6,232.4L909.1,233.7L907.2,235.3L902.7,235.5L901.6,239.0L901.8,241.0L902.0,241.9L903.7,244.1L902.9,246.2L899.9,247.9Z" fill="#fee0de" stroke="#8a7a76" stroke-width="0.8" stroke-linejoin="round"/>
<path d="M727.2,236.8L727.7,237.4L730.9,238.1L733.0,240.7L734.3,244.1L737.4,245.8L739.5,251.7L745.0,255.9L749.8,261.8L747.6,264.0L750.9,266.8L753.7,268.4L758.0,269.7L760.5,271.2L762.2,271.6L766.3,269.8L767.4,269.0L769.1,266.5L770.8,268.6L773.8,269.5L776.8,269.0L778.5,272.0L780.7,271.6L782.0,265.2L784.3,263.2L786.8,259.2L790.3,258.8L792.4,260.5L794.1,260.9L796.1,252.7L796.5,248.3L797.1,246.1L799.3,243.6L804.4,245.2L805.7,247.8L807.4,249.1L810.0,248.2L812.4,246.6L817.6,249.7L821.0,252.6L823.4,253.9L825.0,251.6L823.3,250.4L822.0,247.8L824.3,244.2L827.2,241.9L825.9,238.9L821.6,238.1L818.1,236.8L816.5,234.2L815.6,231.3L810.9,230.3L806.1,228.3L798.4,222.8L796.7,217.3L796.9,215.0L798.4,207.1L800.1,206.4L797.4,203.7L795.9,201.3L792.8,199.2L791.1,201.3L790.3,204.3L785.5,206.0L783.4,204.3L779.8,203.5L775.5,201.3L772.8,203.1L768.7,199.5L767.3,199.9L765.9,201.4L760.6,200.9L759.6,200.6L759.3,198.9L757.9,198.6L756.3,200.2L752.6,202.1L748.2,200.1L745.0,200.9L744.0,202.9L743.5,208.9L744.4,210.1L741.8,214.3L739.7,216.5L738.8,219.0L739.2,221.5L738.5,223.3L737.9,224.1L732.8,225.8L731.9,228.3L732.3,230.9L730.2,232.1ZM684.3,173.4L685.2,175.9L686.8,177.4L688.6,180.3L689.4,185.2L691.5,189.3L692.7,196.0L694.6,198.4L695.2,200.2L696.3,201.8L697.2,205.1L699.1,206.2L706.8,208.6L708.3,210.1L708.8,211.9L711.3,216.9L713.5,219.8L714.3,223.2L717.3,224.5L720.6,228.0L722.9,232.5L722.5,234.7L726.3,238.5L727.7,237.4L727.2,236.8L729.4,233.1L730.2,232.1L732.3,230.9L731.9,228.3L732.8,225.8L737.9,224.1L738.5,223.3L739.2,221.5L738.8,219.0L739.7,216.5L741.8,214.3L744.4,210.1L743.5,208.9L744.0,202.9L745.2,200.1L745.2,195.1L744.8,193.1L743.8,191.7L743.5,190.4L743.8,189.0L742.8,186.3L744.1,185.3L746.2,185.3L749.6,182.9L748.9,181.9L749.0,181.0L751.2,174.7L750.3,171.2L748.6,168.8L745.7,166.5L740.6,163.2L734.1,160.3L734.5,156.8L731.9,156.0L728.9,156.4L725.9,158.6L725.5,161.5L724.2,161.5L722.1,158.6L721.1,158.6L718.2,159.3L716.5,160.3L715.0,161.7L713.1,162.4L711.7,164.1L704.2,163.2L698.9,164.5L695.9,163.6L692.9,164.1L691.6,165.8L689.9,167.0L686.4,172.1ZM816.7,147.8L820.6,152.9L824.9,154.4L827.4,155.9L827.0,162.6L826.2,165.2L828.3,166.9L829.2,168.6L833.3,166.9L835.6,166.5L840.2,167.3L842.4,166.9L844.2,165.6L847.6,168.2L851.0,167.3L854.5,168.2L855.3,170.7L860.5,174.9L863.0,176.2L869.0,176.6L871.6,173.9L878.5,170.3L883.6,173.2L881.9,171.1L881.5,167.7L880.2,164.7L876.8,159.3L874.6,156.7L873.4,154.2L869.9,154.2L869.0,152.0L866.9,150.3L867.3,148.7L868.1,148.0L873.4,144.9L875.9,144.0L876.8,141.5L878.9,139.8L876.6,135.9L873.8,133.0L871.2,132.6L869.0,133.4L865.6,133.0L863.9,133.2L863.0,133.4L861.3,135.5L859.2,135.5L860.0,132.6L859.2,129.6L855.3,130.0L854.2,129.7L853.2,129.2L852.3,125.8L850.2,124.9L847.6,125.4L842.4,122.0L839.6,121.4L840.3,124.5L839.4,127.9L840.1,130.1L839.4,135.5L840.3,138.1L839.9,139.7L838.1,139.7L834.7,138.1L832.6,140.6L831.5,140.4L824.8,138.1L822.7,138.9L818.0,136.4L817.8,137.6L818.8,144.0L818.0,146.5ZM885.3,215.0L887.3,216.7L887.6,219.0L887.0,221.3L887.6,225.9L889.1,226.8L891.4,225.4L892.0,222.5L891.1,220.7L892.9,219.9L894.5,220.8L895.2,221.3L896.4,225.3L897.2,226.1L898.0,228.1L901.4,232.5L902.7,235.5L907.2,235.3L909.1,233.7L911.6,232.4L911.9,229.5L913.6,228.6L915.4,230.1L918.6,231.8L920.3,229.8L926.5,228.6L927.1,226.6L928.8,225.8L931.2,226.9L933.5,226.3L934.7,223.7L937.0,222.3L939.1,222.4L939.5,220.7L937.8,219.4L936.5,215.5L934.3,211.9L933.5,211.0L931.0,209.7L930.5,207.1L929.1,205.9L925.4,204.3L923.3,201.8L921.1,195.8L919.9,197.5L917.3,199.2L916.8,197.1L914.7,195.8L911.3,196.7L909.5,196.5L908.7,196.2L907.5,194.5L907.0,193.7L909.1,188.2L908.7,185.2L910.8,181.4L911.7,177.6L915.2,172.6L920.7,169.6L922.1,166.4L918.6,165.3L919.0,162.8L916.4,162.4L913.8,160.7L912.8,158.9L911.3,157.5L906.0,155.1L904.4,153.9L899.3,151.8L897.5,154.3L899.7,156.9L900.5,159.8L902.7,162.8L902.9,167.3L902.7,168.3L900.1,167.4L896.7,167.9L895.8,168.7L892.4,175.5L890.5,180.5L887.7,183.1L888.2,188.7L887.2,193.3L888.1,196.7L889.7,199.4L891.4,205.2L888.8,208.6L888.0,211.7L885.6,212.7Z" fill="#eba59c" stroke="#8a7a76" stroke-width="0.8" stroke-linejoin="round"/>
<path d="M734.1,160.3L741.4,163.6L746.5,167.0L748.6,168.8L750.8,172.1L751.2,174.7L749.0,181.0L748.9,181.9L749.6,182.9L746.2,185.3L744.1,185.3L742.8,186.3L743.8,189.0L743.5,190.4L743.8,191.7L744.8,193.1L745.2,195.1L745.0,200.9L748.2,200.1L752.6,202.1L756.3,200.2L757.9,198.6L759.3,198.9L759.6,200.6L760.6,200.9L766.0,201.4L767.3,199.9L768.7,199.6L772.8,203.1L775.5,201.3L779.8,203.5L783.4,204.3L785.5,206.0L790.3,204.3L791.1,201.3L792.8,199.2L795.9,201.3L797.4,203.7L800.1,206.4L800.8,203.4L803.1,201.7L807.2,201.9L811.3,203.4L814.1,201.7L815.4,201.4L815.4,199.4L812.8,197.9L812.8,195.9L816.6,192.2L818.6,191.7L820.7,191.9L825.9,189.8L825.9,189.1L829.3,186.5L831.3,182.0L831.5,179.7L830.9,178.9L825.0,173.0L826.7,170.4L829.2,168.6L828.3,166.9L826.2,165.2L827.0,162.6L827.4,155.9L824.9,154.4L820.6,152.9L817.8,149.6L816.7,147.8L818.0,146.5L818.8,144.0L817.8,137.6L818.0,136.4L813.9,132.0L809.1,129.4L804.9,133.2L802.7,132.4L797.7,135.9L795.9,136.7L793.3,136.2L791.6,135.0L788.1,135.0L787.6,134.1L787.2,134.2L787.5,136.3L783.1,138.3L782.1,140.4L782.1,143.1L779.3,143.4L776.5,144.4L773.1,144.8L767.0,143.1L763.8,143.1L762.1,145.1L760.5,146.3L755.6,148.5L753.2,147.8L750.5,148.8L747.0,148.5L743.9,150.5L739.2,151.8L737.1,155.2L734.5,156.8ZM773.9,165.2L773.2,164.3L773.9,163.1L773.9,162.1L773.2,161.1L776.1,159.8L777.4,160.7L778.6,160.3L779.0,159.2L786.9,157.8L793.4,163.5L794.1,164.3L794.5,165.9L791.8,167.8L792.4,170.2L790.6,171.2L789.8,171.5L788.5,170.4L786.9,170.0L785.2,170.2L781.9,172.1L779.0,172.9L778.2,173.7L776.5,173.3L775.7,172.3L776.1,170.8L774.1,166.8ZM675.7,135.4L677.5,139.7L679.2,145.9L680.4,148.4L682.0,149.6L687.0,155.1L689.2,156.9L690.3,158.6L690.7,161.1L692.9,164.1L695.9,163.6L698.9,164.5L704.2,163.2L711.8,164.1L713.1,162.4L715.0,161.7L716.5,160.3L718.2,159.3L721.1,158.6L722.1,158.6L724.2,161.5L725.5,161.5L725.9,158.6L728.9,156.4L729.3,153.5L728.1,150.1L729.3,145.1L728.9,143.8L729.2,140.7L727.6,137.1L721.6,133.6L718.8,131.8L717.7,130.5L717.3,130.7L714.8,129.4L711.8,126.6L709.7,126.8L705.3,129.0L701.0,128.2L696.3,128.9L693.7,132.0L690.7,133.7L688.9,136.2L687.3,137.5L685.6,143.0L684.3,142.2L683.9,138.8L681.3,135.4L681.7,133.3L680.4,132.4L679.6,131.1L677.0,131.6L677.4,134.1ZM823.4,253.9L830.0,258.5L832.0,259.2L834.2,259.2L836.4,258.5L845.7,267.4L849.8,269.0L856.7,270.6L861.3,271.2L863.9,269.5L865.6,267.0L869.0,267.1L871.6,268.1L873.4,269.1L878.5,273.7L884.9,276.3L886.6,279.2L887.0,282.2L893.0,273.3L898.2,268.2L901.0,266.5L901.6,265.7L904.6,266.9L910.2,270.3L913.2,269.0L916.2,271.2L922.6,268.6L921.8,265.7L920.1,263.1L918.4,261.7L917.5,261.0L913.0,259.8L910.6,258.5L908.0,255.9L905.0,254.2L904.2,251.3L899.5,250.0L899.9,247.9L902.9,246.2L903.7,244.1L902.0,241.9L901.8,241.0L901.6,239.0L902.7,235.5L901.4,232.5L898.0,228.1L897.2,226.1L896.4,225.3L895.2,221.3L892.9,219.9L891.1,220.7L892.0,222.5L891.4,225.4L889.1,226.8L887.6,225.9L887.0,221.3L887.6,219.0L887.3,216.7L885.3,215.0L885.6,212.7L888.0,211.7L884.1,209.8L882.9,209.7L879.9,208.4L876.9,208.8L874.4,210.5L872.4,210.0L870.5,210.1L868.3,211.0L868.3,213.9L867.1,217.3L861.5,221.5L860.7,223.4L859.3,224.9L858.9,228.3L860.6,230.7L860.9,231.8L859.2,234.3L859.6,236.9L856.6,242.0L857.9,244.5L856.6,245.4L853.2,245.8L849.0,247.9L846.7,248.3L843.7,246.6L838.1,248.3L835.8,249.9L830.4,251.7L825.0,251.6Z" fill="#d17362" stroke="#8a7a76" stroke-width="0.8" stroke-linejoin="round"/>
<path d="M783.8,121.4L784.3,124.4L785.5,126.9L786.3,131.4L788.1,135.0L791.5,135.0L793.3,136.2L795.9,136.7L797.7,135.9L802.7,132.4L804.9,133.3L809.2,129.4L813.9,132.0L818.9,137.1L822.7,138.9L824.8,138.1L830.4,140.2L832.6,140.6L834.7,138.1L838.1,139.7L839.9,139.8L840.2,139.0L840.3,138.1L839.4,135.5L840.1,130.1L839.4,127.9L840.3,124.5L839.6,121.4L836.6,119.1L834.9,118.4L832.3,119.7L832.2,115.5L831.2,113.7L830.2,112.9L829.3,110.0L829.3,107.0L828.6,105.3L828.0,104.5L825.9,103.6L824.2,102.3L822.0,103.6L820.3,101.5L817.7,101.5L816.8,102.0L816.0,102.8L816.9,105.7L814.7,111.3L807.9,110.4L804.4,112.9L801.1,110.8L798.5,109.9L795.9,111.7L790.3,112.9L787.7,117.6ZM907.0,193.7L908.7,196.2L909.5,196.5L911.3,196.7L914.7,195.8L915.8,196.4L916.8,197.1L917.3,199.2L919.9,197.5L921.1,195.9L922.9,200.9L924.6,203.5L926.2,204.8L928.2,205.4L929.9,206.5L930.5,207.1L931.0,209.7L933.5,211.0L934.3,211.9L936.5,215.5L937.8,219.4L939.5,220.7L939.1,222.4L941.7,222.4L944.2,223.2L947.7,222.8L953.7,225.4L956.7,225.8L958.8,227.5L961.8,232.5L963.2,233.4L965.7,232.1L968.6,229.2L969.6,227.5L971.7,226.2L977.7,227.1L979.9,227.9L982.9,226.2L984.6,224.1L982.9,214.8L981.2,214.4L977.7,211.8L975.2,210.9L973.4,203.5L974.7,201.3L973.4,199.2L973.0,196.7L970.0,196.7L968.4,195.5L963.2,194.1L961.0,195.8L959.7,192.4L956.7,190.2L952.4,188.2L951.6,186.1L949.4,184.0L948.6,185.2L949.8,186.9L944.2,188.2L941.2,189.9L937.4,186.0L934.0,179.3L931.4,178.0L929.7,175.5L935.7,173.0L937.8,170.8L936.5,168.3L937.0,165.8L935.2,164.1L933.1,165.8L930.5,167.0L927.1,166.6L924.5,167.0L922.1,166.4L920.7,169.6L915.2,172.6L911.7,177.6L910.8,181.4L908.7,185.2L909.1,188.2Z" fill="#b74432" stroke="#8a7a76" stroke-width="0.8" stroke-linejoin="round"/>
<path d="M773.2,164.3L776.1,170.8L775.7,172.3L776.5,173.3L778.2,173.7L779.0,172.9L781.9,172.1L785.2,170.2L786.9,170.0L788.5,170.4L789.8,171.5L790.6,171.2L792.4,170.2L791.8,167.8L794.5,165.9L794.1,164.3L793.4,163.5L786.9,157.8L779.0,159.2L778.6,160.3L777.4,160.7L776.1,159.8L775.3,160.1L773.2,161.1L773.9,162.1L773.9,163.1ZM717.7,130.5L718.8,131.8L721.6,133.6L727.6,137.1L728.6,138.8L729.2,140.7L728.9,143.8L729.3,145.1L728.1,150.1L729.3,153.5L728.9,156.4L731.9,156.0L734.5,156.8L737.1,155.2L739.2,151.8L743.9,150.5L747.0,148.5L750.5,148.8L753.2,147.8L755.6,148.5L760.4,146.3L762.1,145.1L763.9,143.1L767.0,143.1L773.1,144.8L776.5,144.4L779.3,143.4L782.1,143.1L782.1,140.4L783.1,138.3L787.5,136.3L787.2,134.3L787.6,134.1L786.3,131.4L785.5,126.9L784.3,124.4L783.8,121.4L787.7,117.6L790.3,112.9L795.9,111.7L798.4,110.0L798.0,109.5L800.1,105.3L797.1,104.9L798.4,100.7L794.1,97.3L792.0,96.4L789.8,96.9L788.5,95.6L786.0,94.3L783.4,97.7L784.6,99.9L789.0,103.2L787.3,104.9L781.3,105.7L773.2,108.8L771.8,110.0L769.2,109.1L766.7,109.6L764.5,110.8L763.2,112.9L762.4,113.2L758.5,113.8L752.9,112.9L746.9,114.2L746.5,117.2L742.9,119.4L741.8,119.7L741.1,119.2L739.2,116.9L735.8,121.0L734.5,120.1L731.5,121.4L728.9,125.2L724.0,124.2L722.1,124.5L719.9,129.0Z" fill="#980d11" stroke="#8a7a76" stroke-width="0.8" stroke-linejoin="round"/>
<text x="90.7" y="295.0" class="lb " font-size="9.2">CH</text>
<text x="122.3" y="269.0" class="lb " font-size="9.2">SO</text>
<text x="175" y="277.3" class="lb " font-size="9.2">KV</text>
<text x="220.7" y="238.3" class="lb " font-size="9.2">CV</text>
<text x="261" y="220.0" class="lb " font-size="9.2">MO</text>
<text x="290" y="207.6" class="lb " font-size="9.2">TP</text>
<text x="320.7" y="200.0" class="lb " font-size="9.2">UL</text>
<text x="339.3" y="247.3" class="lb " font-size="9.2">LT</text>
<text x="270" y="269.0" class="lb " font-size="9.2">LN</text>
<text x="259" y="317.6" class="lb " font-size="9.2">RA</text>
<text x="317.3" y="302.6" class="lb " font-size="9.2">KD</text>
<text x="363.8" y="337.0" class="lb " font-size="9.2">PH</text>
<text x="297.3" y="362.6" class="lb " font-size="9.2">BE</text>
<text x="337.7" y="369.0" class="lb " font-size="9.2">PZ</text>
<text x="197.3" y="350.0" class="lb " font-size="9.2">PS</text>
<text x="121.7" y="364.6" class="lb " font-size="9.2">TC</text>
<text x="245" y="374.0" class="lb " font-size="9.2">RO</text>
<text x="209.3" y="389.3" class="lb " font-size="9.2">PM</text>
<text x="376" y="172.3" class="lb " font-size="9.2">DC</text>
<text x="401" y="216.0" class="lb " font-size="9.2">CL</text>
<text x="448.3" y="192.3" class="lb " font-size="9.2">LI</text>
<text x="485.7" y="212.3" class="lb " font-size="9.2">JN</text>
<text x="495" y="244.3" class="lb " font-size="9.2">SM</text>
<text x="375.7" y="279.0" class="lb " font-size="9.2">ME</text>
<text x="435" y="272.6" class="lb " font-size="9.2">MB</text>
<text x="496.7" y="282.6" class="lb " font-size="9.2">JC</text>
<text x="557.3" y="259.0" class="lb " font-size="9.2">TU</text>
<text x="588.3" y="288.0" class="lb " font-size="9.2">NA</text>
<text x="450" y="319.3" class="lb " font-size="9.2">NB</text>
<text x="532.3" y="324.0" class="lb " font-size="9.2">HK</text>
<text x="611.7" y="337.6" class="lb " font-size="9.2">RK</text>
<text x="395" y="366.0" class="lb " font-size="9.2">PY</text>
<text x="446.7" y="359.3" class="lb " font-size="9.2">KO</text>
<text x="535.7" y="361.0" class="lb " font-size="9.2">PU</text>
<text x="455" y="393.3" class="lb " font-size="9.2">KH</text>
<text x="638.3" y="386.6" class="lb " font-size="9.2">UO</text>
<text x="733.3" y="341.0" class="lb " font-size="9.2">JE</text>
<text x="695" y="397.0" class="lb " font-size="9.2">SU</text>
<text x="765" y="389.0" class="lb " font-size="9.2">BR</text>
<text x="812.3" y="430.0" class="lb " font-size="9.2">OP</text>
<text x="869" y="448.8" class="lb " font-size="9.2">OV</text>
<text x="901" y="447.6" class="lb " font-size="9.2">KI</text>
<text x="831" y="475.1" class="lb " font-size="9.2">NJ</text>
<text x="903.3" y="495.8" class="lb " font-size="9.2">FM</text>
<text x="738.3" y="463.3" class="lb " font-size="9.2">OC</text>
<text x="702.5" y="501.5" class="lb " font-size="9.2">PV</text>
<text x="775.7" y="506.0" class="lb " font-size="9.2">PR</text>
<text x="841.7" y="538.1" class="lb " font-size="9.2">VS</text>
<text x="135.7" y="428.6" class="lb " font-size="9.2">DO</text>
<text x="219" y="422.3" class="lb " font-size="9.2">PJ</text>
<text x="300" y="413.3" class="lb " font-size="9.2">PB</text>
<text x="194.3" y="482.3" class="lb " font-size="9.2">KT</text>
<text x="259" y="492.0" class="lb " font-size="9.2">ST</text>
<text x="310.7" y="474.0" class="lb " font-size="9.2">PI</text>
<text x="254" y="550.6" class="lb " font-size="9.2">PT</text>
<text x="333.3" y="562.3" class="lb " font-size="9.2">CB</text>
<text x="296" y="610.3" class="lb " font-size="9.2">CK</text>
<text x="370.5" y="485.6" class="lb " font-size="9.2">TA</text>
<text x="394.3" y="416.0" class="lb " font-size="9.2">BN</text>
<text x="549" y="407.3" class="lb " font-size="9.2">CR</text>
<text x="506" y="438.3" class="lb " font-size="9.2">HB</text>
<text x="626.7" y="442.3" class="lb " font-size="9.2">SY</text>
<text x="436.7" y="481.0" class="lb " font-size="9.2">PE</text>
<text x="568.7" y="483.6" class="lb " font-size="9.2">ZR</text>
<text x="490.7" y="510.6" class="lb " font-size="9.2">JI</text>
<text x="640.8" y="498.8" class="lb " font-size="9.2">BK</text>
<text x="606.7" y="520.0" class="lb " font-size="9.2">BI</text>
<text x="419.3" y="540.0" class="lb " font-size="9.2">JH</text>
<text x="538.3" y="553.0" class="lb " font-size="9.2">TR</text>
<text x="628.6" y="552.9" class="lb " font-size="9.2">BM</text>
<text x="684.3" y="550.0" class="lb " font-size="9.2">VY</text>
<text x="562.3" y="612.3" class="lb " font-size="9.2">ZN</text>
<text x="646" y="625.8" class="lb " font-size="9.2">BV</text>
<text x="731.7" y="551.0" class="lb " font-size="9.2">KM</text>
<text x="783.7" y="567.3" class="lb " font-size="9.2">ZL</text>
<text x="753.7" y="604.0" class="lb " font-size="9.2">UH</text>
<text x="700.3" y="617.0" class="lb " font-size="9.2">HO</text>
<text x="757.7" y="132.4" class="lb rl" font-size="11.6">ULK</text>
<text x="815" y="125.1" class="lb rl" font-size="11.6">LBK</text>
<text x="705" y="151.2" class="lb rl" font-size="11.6">KVK</text>
<text x="852.4" y="157.3" class="lb rl" font-size="11.6">HKK</text>
<text x="781" y="162.8" class="lb rl" font-size="11.6">PHA</text>
<text x="783.2" y="192.7" class="lb rl" font-size="11.6">STČ</text>
<text x="723.3" y="196.0" class="lb rl" font-size="11.6">PLK</text>
<text x="863.8" y="192.8" class="lb rl" font-size="11.6">PAK</text>
<text x="911.9" y="216.0" class="lb rl" font-size="11.6">OLK</text>
<text x="953.7" y="208.8" class="lb rl" font-size="11.6">MSK</text>
<text x="832.4" y="224.5" class="lb rl" font-size="11.6">VYS</text>
<text x="771.9" y="235.9" class="lb rl" font-size="11.6">JHČ</text>
<text x="878" y="248.3" class="lb rl" font-size="11.6">JHM</text>
<text x="926.2" y="246.2" class="lb rl" font-size="11.6">ZLK</text>
<polyline points="520.4,704.4 528.5,695.4 543.4,715.7 556.3,702.9" fill="none" stroke="#000" stroke-width="2.6" stroke-linejoin="miter"/>
<polyline points="520.4,722.9 528.5,714 543.4,734.3 556.3,721.4" fill="none" stroke="#000" stroke-width="0.8"/>
</svg>
<div class="t" style="left:31px;top:31.677450000000004px;font-size:20.7px;letter-spacing:0px;font-weight:bold">19. Zjištěné trestné činy v roce 2013</div>
<div class="t" style="left:63px;top:54.40814999999999px;font-size:20.9px;letter-spacing:0px;font-style:italic">Detected criminal offences in 2013</div>
<div class="t" style="left:30.5px;top:553.97135px;font-size:16.1px;letter-spacing:0px;font-weight:bold">na 1 000 obyvatel /</div>
<div class="t" style="left:30.5px;top:572.77135px;font-size:16.1px;letter-spacing:0px;font-weight:bold;font-style:italic">per 1 000 population</div>
<div class="sw" style="top:596.3px;background:#fee0de"></div>
<div class="t" style="left:82.4px;top:600.956px;font-size:16px;letter-spacing:0px">14,0 - 18,0</div>
<div class="sw" style="top:625.5px;background:#eba59c"></div>
<div class="t" style="left:82.4px;top:630.1560000000001px;font-size:16px;letter-spacing:0px">18,1 - 24,0</div>
<div class="sw" style="top:654.6999999999999px;background:#d17362"></div>
<div class="t" style="left:82.4px;top:659.356px;font-size:16px;letter-spacing:0px">24,1 - 30,0</div>
<div class="sw" style="top:683.9px;background:#b74432"></div>
<div class="t" style="left:82.4px;top:688.556px;font-size:16px;letter-spacing:0px">30,1 - 36,0</div>
<div class="sw" style="top:713.0999999999999px;background:#980d11"></div>
<div class="t" style="left:82.4px;top:717.756px;font-size:16px;letter-spacing:0px">36,1 - 65,9</div>
<div class="t" style="left:565px;top:697.2480999999999px;font-size:16.6px;letter-spacing:0px">hranice kraje / <i>region border</i></div>
<div class="t" style="left:565px;top:716.0481px;font-size:16.6px;letter-spacing:0px">hranice okresu / <i>district border</i></div>
</body></html>
